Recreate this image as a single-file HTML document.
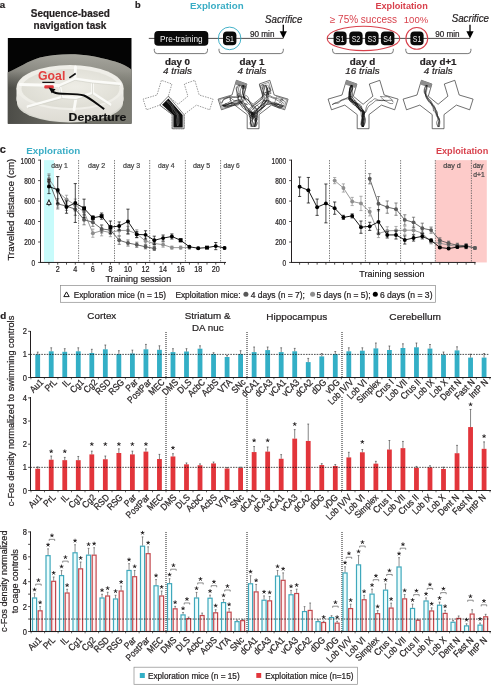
<!DOCTYPE html>
<html><head><meta charset="utf-8"><style>
html,body{margin:0;padding:0;background:#fff;}
svg{display:block;font-family:"Liberation Sans", sans-serif;will-change:transform;}
</style></head><body>
<svg width="491" height="685" viewBox="0 0 491 685">
<rect width="491" height="685" fill="#fff"/>
<text x="-0.2" y="8" font-size="9.6" font-weight="bold" fill="#231f20" stroke="#231f20" stroke-width="0.22">a</text>
<text x="70.3" y="17.3" font-size="10" text-anchor="middle" font-weight="bold" textLength="79" lengthAdjust="spacingAndGlyphs" fill="#231f20" stroke="#231f20" stroke-width="0.22">Sequence-based</text>
<text x="70" y="29.2" font-size="10" text-anchor="middle" font-weight="bold" textLength="72.8" lengthAdjust="spacingAndGlyphs" fill="#231f20" stroke="#231f20" stroke-width="0.22">navigation task</text>
<defs><clipPath id="ph"><rect x="7.6" y="38" width="124.1" height="85.8"/></clipPath><linearGradient id="gbg" x1="0" y1="0" x2="1" y2="0"><stop offset="0" stop-color="#4c4c47"/><stop offset="0.45" stop-color="#6c6c64"/><stop offset="1" stop-color="#7a7a71"/></linearGradient><linearGradient id="gbg2" x1="0" y1="0" x2="0" y2="1"><stop offset="0" stop-color="#b0afa7" stop-opacity="1"/><stop offset="0.5" stop-color="#a2a199" stop-opacity="0.8"/><stop offset="1" stop-color="#8e8e86" stop-opacity="0"/></linearGradient><linearGradient id="gside" x1="0" y1="0" x2="0" y2="1"><stop offset="0" stop-color="#f3f3ee"/><stop offset="1" stop-color="#dedcd4"/></linearGradient><radialGradient id="gtop" cx="0.55" cy="0.45" r="0.6"><stop offset="0" stop-color="#eeede6"/><stop offset="1" stop-color="#dddcd3"/></radialGradient></defs>
<g clip-path="url(#ph)">
<rect x="7.6" y="38" width="124.1" height="85.8" fill="#040404"/>
<path d="M7.6,72.5 C18,68 28,61 40,57.5 C52,54.5 62,54 75,54.2 C90,55 105,58.5 115,61.5 C122,63.5 128,67 131.7,69.8 L131.7,124 L7.6,124 Z" fill="url(#gbg)"/>
<path d="M7.6,72.5 C18,68 28,61 40,57.5 C52,54.5 62,54 75,54.2 C90,55 105,58.5 115,61.5 C122,63.5 128,67 131.7,69.8 L131.7,88 L7.6,88 Z" fill="url(#gbg2)" opacity="0.85"/>
<ellipse cx="70" cy="103" rx="53" ry="19.5" fill="#d8d8d0"/>
<path d="M16.5,88 L16.5,99 A53.5,22.5 0 0 0 123.5,99 L123.5,88 Z" fill="url(#gside)"/>
<ellipse cx="70" cy="99" rx="53.5" ry="22.5" fill="url(#gside)"/>
<ellipse cx="70" cy="87.5" rx="53.5" ry="22.5" fill="#efeee8"/>
<ellipse cx="70.5" cy="88.5" rx="49" ry="19.5" fill="url(#gtop)"/>
<g stroke="#fbfbf8" stroke-width="2.8" fill="none" stroke-linecap="round" stroke-linejoin="round"><path d="M59.5,85.5 L75,78.8 L92.5,81.5 L92.5,93 L76,98 L62,97 Z"/><path d="M75,78.8 L75.5,67 M92.5,81.5 L120,84 M92.5,93 L110,104.5 M76,98 L74,110 M62,97 L28,106.5 M59.5,85.5 L20,84.5"/></g>
<g stroke="#cdccc3" stroke-width="0.6" fill="none"><path d="M59.5,87 L75,80.3 L92.5,83 L92.5,94.5 L76,99.5 L62,98.5 Z"/><path d="M92.5,83 L120,85.5 M92.5,94.5 L110,106 M62,98.5 L28,108"/></g>
<rect x="44.3" y="85.3" width="9.5" height="3.2" rx="1.2" fill="#e03a3e"/>
<line x1="42.3" y1="82.3" x2="54.5" y2="82.3" stroke="#111" stroke-width="1.2"/>
<line x1="69.3" y1="77.8" x2="75.7" y2="73.5" stroke="#111" stroke-width="1.6"/>
<path d="M104.2,109.1 C97,104 90,98 84,95.5 C78,93.5 70,94 62,93.8 C57,93.6 53.5,92.5 52,91" fill="none" stroke="#0a0a0a" stroke-width="1.9"/>
<path d="M48.6,87.6 L55.6,89.2 L51.8,93.3 Z" fill="#0a0a0a"/>
<text x="38" y="79.7" font-size="12.4" font-weight="bold" textLength="27.3" lengthAdjust="spacingAndGlyphs" fill="#e2403f">Goal</text>
<text x="68.6" y="120.5" font-size="11.2" font-weight="bold" textLength="57.6" lengthAdjust="spacingAndGlyphs" fill="#111" stroke="#111" stroke-width="0.22">Departure</text>
</g>
<text x="135" y="8.3" font-size="9.2" font-weight="bold" fill="#231f20" stroke="#231f20" stroke-width="0.22">b</text>
<text x="216.8" y="8.8" font-size="9.8" text-anchor="middle" font-weight="bold" textLength="53.6" lengthAdjust="spacingAndGlyphs" fill="#3aadc5">Exploration</text>
<text x="401.6" y="8.8" font-size="9.8" text-anchor="middle" font-weight="bold" textLength="52.4" lengthAdjust="spacingAndGlyphs" fill="#d8414c">Exploitation</text>
<line x1="148.8" y1="38.4" x2="283.3" y2="38.4" stroke="#231f20" stroke-width="0.8"/>
<line x1="327" y1="38.4" x2="470" y2="38.4" stroke="#231f20" stroke-width="0.8"/>
<rect x="154.3" y="31" width="54" height="14.8" rx="3.8" fill="#0a0a0a"/>
<text x="181.3" y="41.7" font-size="8.7" text-anchor="middle" textLength="42.6" lengthAdjust="spacingAndGlyphs" fill="#f2f2f2">Pre-training</text>
<circle cx="229.6" cy="38.4" r="11.3" fill="none" stroke="#3aadc5" stroke-width="0.95"/>
<rect x="223" y="31.4" width="13.4" height="13.8" rx="3.8" fill="#0a0a0a"/>
<text x="229.7" y="41.6" font-size="9" text-anchor="middle" textLength="8.6" lengthAdjust="spacingAndGlyphs" fill="#f2f2f2">S1</text>
<ellipse cx="363.5" cy="38.4" rx="36.3" ry="12.2" fill="none" stroke="#d8414c" stroke-width="1.1"/>
<rect x="333.6" y="31.4" width="13" height="13.8" rx="3.8" fill="#0a0a0a"/>
<text x="340.1" y="41.6" font-size="9" text-anchor="middle" textLength="8.6" lengthAdjust="spacingAndGlyphs" fill="#f2f2f2">S1</text>
<rect x="349.3" y="31.4" width="13.3" height="13.8" rx="3.8" fill="#0a0a0a"/>
<text x="355.95" y="41.6" font-size="9" text-anchor="middle" textLength="8.6" lengthAdjust="spacingAndGlyphs" fill="#f2f2f2">S2</text>
<rect x="365.1" y="31.4" width="13.5" height="13.8" rx="3.8" fill="#0a0a0a"/>
<text x="371.85" y="41.6" font-size="9" text-anchor="middle" textLength="8.6" lengthAdjust="spacingAndGlyphs" fill="#f2f2f2">S3</text>
<rect x="380.9" y="31.4" width="13.5" height="13.8" rx="3.8" fill="#0a0a0a"/>
<text x="387.65" y="41.6" font-size="9" text-anchor="middle" textLength="8.6" lengthAdjust="spacingAndGlyphs" fill="#f2f2f2">S4</text>
<circle cx="416.8" cy="38.4" r="10.9" fill="none" stroke="#d8414c" stroke-width="1.1"/>
<rect x="410.4" y="31.4" width="13.2" height="13.8" rx="3.8" fill="#0a0a0a"/>
<text x="417" y="41.6" font-size="9" text-anchor="middle" textLength="8.6" lengthAdjust="spacingAndGlyphs" fill="#f2f2f2">S1</text>
<line x1="283.3" y1="24.8" x2="283.3" y2="32.5" stroke="#000" stroke-width="1.3"/>
<path d="M279.7,31.2 L286.9,31.2 L283.3,38.6 Z" fill="#000"/>
<line x1="470" y1="24.8" x2="470" y2="32.5" stroke="#000" stroke-width="1.3"/>
<path d="M466.4,31.2 L473.6,31.2 L470,38.6 Z" fill="#000"/>
<text x="283.7" y="22.5" font-size="10.4" text-anchor="middle" font-style="italic" textLength="37.3" lengthAdjust="spacingAndGlyphs" fill="#231f20" stroke="#231f20" stroke-width="0.22">Sacrifice</text>
<text x="470.3" y="22.2" font-size="10.4" text-anchor="middle" font-style="italic" textLength="37.3" lengthAdjust="spacingAndGlyphs" fill="#231f20" stroke="#231f20" stroke-width="0.22">Sacrifice</text>
<text x="250" y="36.6" font-size="8.2" textLength="24.4" lengthAdjust="spacingAndGlyphs" fill="#231f20" stroke="#231f20" stroke-width="0.22">90 min</text>
<text x="435.2" y="36.6" font-size="8.2" textLength="24.4" lengthAdjust="spacingAndGlyphs" fill="#231f20" stroke="#231f20" stroke-width="0.22">90 min</text>
<text x="363.4" y="22.8" font-size="10" text-anchor="middle" textLength="67.2" lengthAdjust="spacingAndGlyphs" fill="#d8414c">≥ 75% success</text>
<text x="416" y="22.6" font-size="9.6" text-anchor="middle" textLength="24.4" lengthAdjust="spacingAndGlyphs" fill="#d8414c">100%</text>
<path d="M154.3,48.8 L154.3,50.6 Q154.3,53.6 157.3,53.6 L204.5,53.6 Q207.5,53.6 207.5,50.6 L207.5,48.8" fill="none" stroke="#555" stroke-width="0.8"/>
<path d="M219,48.8 L219,50.6 Q219,53.6 222,53.6 L280.3,53.6 Q283.3,53.6 283.3,50.6 L283.3,48.8" fill="none" stroke="#555" stroke-width="0.8"/>
<path d="M332.6,48.8 L332.6,50.6 Q332.6,53.6 335.6,53.6 L390.3,53.6 Q393.3,53.6 393.3,50.6 L393.3,48.8" fill="none" stroke="#555" stroke-width="0.8"/>
<path d="M405.8,48.8 L405.8,50.6 Q405.8,53.6 408.8,53.6 L467.9,53.6 Q470.9,53.6 470.9,50.6 L470.9,48.8" fill="none" stroke="#555" stroke-width="0.8"/>
<text x="177.5" y="64.7" font-size="9.8" text-anchor="middle" font-weight="bold" fill="#231f20" stroke="#231f20" stroke-width="0.22">day 0</text>
<text x="177.5" y="74.4" font-size="9.8" text-anchor="middle" font-style="italic" fill="#231f20" stroke="#231f20" stroke-width="0.22">4 trials</text>
<text x="252" y="64.7" font-size="9.8" text-anchor="middle" font-weight="bold" fill="#231f20" stroke="#231f20" stroke-width="0.22">day 1</text>
<text x="252" y="74.4" font-size="9.8" text-anchor="middle" font-style="italic" fill="#231f20" stroke="#231f20" stroke-width="0.22">4 trials</text>
<text x="362.5" y="64.7" font-size="9.8" text-anchor="middle" font-weight="bold" fill="#231f20" stroke="#231f20" stroke-width="0.22">day d</text>
<text x="362.5" y="74.4" font-size="9.8" text-anchor="middle" font-style="italic" fill="#231f20" stroke="#231f20" stroke-width="0.22">16 trials</text>
<text x="438.2" y="64.7" font-size="9.8" text-anchor="middle" font-weight="bold" fill="#231f20" stroke="#231f20" stroke-width="0.22">day d+1</text>
<text x="438.2" y="74.4" font-size="9.8" text-anchor="middle" font-style="italic" fill="#231f20" stroke="#231f20" stroke-width="0.22">4 trials</text>
<polygon points="172.2,128.7 172.2,114.6 159.8,105.1 146.5,109.8 143.1,99.1 157,95 161.4,80.3 171.9,84 168.3,96.2 178.1,104.3 187.9,96.2 184.3,84 194.8,80.3 199.2,95 213.1,99.1 209.7,109.8 196.4,105.1 184,114.6 184,128.7" fill="none" stroke="#555" stroke-width="0.6" stroke-dasharray="1.5,1.1"/>
<polygon points="172.2,128.7 172.2,114.6 159.8,105.1 168.3,96.2 184,114.6 184,128.7" fill="#fff" stroke="#444" stroke-width="0.7"/>
<polygon points="173.4,127.5 173.4,115.3 162.1,104.8 168.4,98.4 182.7,115.1 182.7,127.5" fill="#0d0d0d" stroke="none" stroke-width="0"/>
<path d="M177.53,126 C177.39,125.5 176.85,124 176.67,123 C176.48,122 176.36,121 176.44,120 C176.52,119 177.03,117.94 177.14,117 C177.25,116.06 177.26,115.15 177.09,114.35 C176.91,113.56 176.58,112.89 176.1,112.22 C175.63,111.54 174.85,110.96 174.26,110.3 C173.67,109.64 173.11,108.95 172.56,108.25 C172.01,107.56 171.54,106.91 170.95,106.13 C170.36,105.35 169.74,104.36 169.02,103.56 C168.3,102.77 167.04,101.73 166.64,101.37" fill="none" stroke="#888" stroke-width="0.35" stroke-linejoin="round"/>
<path d="M177.36,126 C177.51,125.5 178.2,124 178.28,123 C178.36,122 177.87,121 177.84,120 C177.81,119 178.34,117.91 178.12,117 C177.91,116.09 177.16,115.1 176.55,114.54 C175.94,113.98 175.07,114.16 174.46,113.65 C173.85,113.14 173.29,112.32 172.89,111.49 C172.49,110.67 172.31,109.65 172.06,108.69 C171.81,107.74 171.91,106.6 171.38,105.76 C170.86,104.93 169.66,104.41 168.9,103.66 C168.14,102.9 167.16,101.64 166.81,101.23" fill="none" stroke="#888" stroke-width="0.35" stroke-linejoin="round"/>
<path d="M178,126 C177.93,125.5 177.64,124 177.62,123 C177.6,122 177.87,121 177.88,120 C177.89,119 177.68,117.99 177.68,117 C177.68,116.01 178.04,114.96 177.88,114.08 C177.72,113.19 177.17,112.44 176.73,111.67 C176.29,110.9 175.76,110.17 175.24,109.44 C174.73,108.71 174.13,108.05 173.65,107.3 C173.18,106.54 172.98,105.7 172.41,104.91 C171.84,104.12 171.1,103.26 170.26,102.58 C169.41,101.89 167.84,101.09 167.36,100.79" fill="none" stroke="#888" stroke-width="0.35" stroke-linejoin="round"/>
<path d="M177.75,126 C177.98,125.5 178.95,124 179.16,123 C179.38,122 179.08,121 179.04,120 C179.01,119 179.1,118.01 178.96,117 C178.82,115.99 178.77,114.67 178.19,113.97 C177.61,113.26 176.12,113.39 175.48,112.76 C174.84,112.13 174.75,111.04 174.36,110.21 C173.96,109.38 173.45,108.64 173.1,107.78 C172.75,106.91 172.8,105.85 172.26,105.03 C171.73,104.21 170.77,103.53 169.89,102.87 C169.01,102.21 167.47,101.39 166.99,101.09" fill="none" stroke="#888" stroke-width="0.35" stroke-linejoin="round"/>
<polygon points="247.2,128.7 247.2,114.6 234.8,105.1 221.5,109.8 218.1,99.1 232,95 236.4,80.3 246.9,84 243.3,96.2 253.1,104.3 262.9,96.2 259.3,84 269.8,80.3 274.2,95 288.1,99.1 284.7,109.8 271.4,105.1 259,114.6 259,128.7" fill="#fff" stroke="#333" stroke-width="0.7"/>
<polygon points="236.4,80.3 246.9,84.0 245.8,88.2 235.3,84.5" fill="#8c8c8c"/>
<polygon points="259.7,85.5 268.7,82.3 271.1,91.0 262.3,93.4" fill="none" stroke="#333" stroke-width="0.5"/>
<polygon points="276.5,96.6 286.6,99.6 283.9,108.4 274.1,105.0" fill="none" stroke="#333" stroke-width="0.5"/>
<polygon points="229.7,96.6 219.6,99.6 222.3,108.4 232.1,105.0" fill="none" stroke="#333" stroke-width="0.5"/>
<path d="M254.24,127 C254.43,126.33 255.01,124.33 255.38,123 C255.75,121.67 256.16,120.25 256.47,119 C256.79,117.75 257.25,116.91 257.26,115.5 C257.28,114.09 257.32,112.05 256.55,110.52 C255.77,109 253.96,107.48 252.62,106.34 C251.29,105.2 249.68,104.67 248.54,103.67 C247.4,102.67 246.6,101.31 245.78,100.32 C244.96,99.33 243.79,98.59 243.63,97.74 C243.46,96.89 244.61,96.15 244.8,95.22 C244.99,94.29 244.59,93.45 244.77,92.15 C244.95,90.85 245.96,88.46 245.89,87.42 C245.82,86.37 244.86,85.87 244.34,85.87 C243.82,85.87 242.79,86.9 242.79,87.42 C242.79,87.93 244.33,89.34 244.34,88.96 C244.36,88.59 243.12,85.81 242.88,85.18" fill="none" stroke="#111" stroke-width="0.5" stroke-linejoin="round"/>
<path d="M254.44,127 C254.62,126.33 255.21,124.33 255.52,123 C255.84,121.67 256.12,120.25 256.32,119 C256.52,117.75 256.54,116.98 256.73,115.5 C256.92,114.02 258.02,111.76 257.47,110.13 C256.91,108.49 254.69,106.93 253.38,105.69 C252.07,104.45 250.44,104.02 249.59,102.7 C248.74,101.39 248.86,98.99 248.29,97.81 C247.71,96.64 246.85,95.66 246.13,95.66 C245.41,95.66 243.97,97.09 243.97,97.81 C243.97,98.53 246.47,100.15 246.13,99.97 C245.79,99.79 243.41,97.21 241.93,96.74 C240.46,96.26 238.63,97.11 237.26,97.11 C235.89,97.12 234.95,96.81 233.72,96.75 C232.49,96.7 231.09,96.6 229.88,96.8 C228.67,96.99 227.51,97.5 226.46,97.94 C225.4,98.37 224.39,98.55 223.57,99.4 C222.75,100.25 221.87,102.42 221.53,103.03" fill="none" stroke="#111" stroke-width="0.5" stroke-linejoin="round"/>
<path d="M252.04,127 C251.86,126.33 251.27,124.33 250.98,123 C250.69,121.67 250.52,120.25 250.28,119 C250.05,117.75 249.62,116.9 249.56,115.5 C249.49,114.1 249.27,112.19 249.9,110.63 C250.54,109.07 252.22,107.45 253.36,106.15 C254.51,104.86 255.59,103.81 256.77,102.85 C257.94,101.88 259.37,101.14 260.44,100.34 C261.5,99.53 262.69,98.86 263.16,98.03 C263.63,97.2 263.19,96.34 263.26,95.35 C263.32,94.36 263.29,93.49 263.55,92.07 C263.8,90.65 264.91,88.04 264.78,86.83 C264.66,85.63 263.45,84.83 262.79,84.83 C262.12,84.83 260.79,86.17 260.79,86.83 C260.79,87.5 262.43,89.1 262.79,88.83 C263.14,88.57 262.89,85.84 262.9,85.24" fill="none" stroke="#111" stroke-width="0.5" stroke-linejoin="round"/>
<path d="M252.73,127 C252.74,126.33 252.8,124.33 252.74,123 C252.68,121.67 252.29,120.56 252.38,119 C252.46,117.44 253.42,114.86 253.26,113.67 C253.1,112.47 252.04,111.83 251.43,111.83 C250.81,111.83 249.59,113.05 249.59,113.67 C249.59,114.28 251.14,115.91 251.43,115.5 C251.71,115.09 250.75,112.59 251.3,111.23 C251.85,109.86 253.53,108.46 254.71,107.31 C255.89,106.16 257.18,105.25 258.38,104.33 C259.58,103.41 260.88,102.74 261.9,101.8 C262.93,100.86 264.16,99.78 264.52,98.71 C264.89,97.65 264.28,96.52 264.09,95.41 C263.89,94.3 263.39,93.2 263.36,92.08 C263.34,90.96 263.77,89.84 263.93,88.67 C264.09,87.49 264.25,85.65 264.31,85.04" fill="none" stroke="#111" stroke-width="0.5" stroke-linejoin="round"/>
<path d="M255.01,127 C255.3,126.33 256.62,124.33 256.74,123 C256.86,121.67 255.96,120.25 255.73,119 C255.51,117.75 255.47,116.51 255.39,115.5 C255.32,114.49 254.7,113.71 255.26,112.93 C255.82,112.14 257.61,111.63 258.76,110.78 C259.91,109.93 261.08,108.76 262.16,107.83 C263.25,106.89 264.5,105.87 265.27,105.17 C266.05,104.48 266.45,103.83 266.82,103.68 C267.2,103.53 266.82,104.2 267.51,104.28 C268.21,104.36 269.92,104.09 271,104.19 C272.07,104.28 272.97,104.76 273.98,104.86 C275,104.96 275.78,104.89 277.09,104.77 C278.4,104.65 281.33,104.54 281.84,104.15 C282.34,103.76 280.69,102.42 280.11,102.42 C279.53,102.42 278.38,103.57 278.38,104.15 C278.38,104.73 279.25,105.59 280.11,105.88 C280.97,106.16 282.99,105.87 283.57,105.87" fill="none" stroke="#111" stroke-width="0.5" stroke-linejoin="round"/>
<path d="M222.52,105.58 C223.08,105.54 224.74,105.37 225.88,105.33 C227.01,105.29 228.27,105.4 229.34,105.35 C230.4,105.29 231.24,104.98 232.26,105.01 C233.28,105.03 234.38,105.55 235.47,105.5 C236.55,105.44 238.09,105.04 238.77,104.67 C239.44,104.31 239.13,103.25 239.51,103.31 C239.9,103.37 240.24,104.34 241.08,105.02 C241.92,105.69 243.4,106.47 244.55,107.36 C245.7,108.24 246.57,109.06 247.99,110.31 C249.42,111.55 251.3,114.75 253.1,114.84 C254.9,114.93 257,112.24 258.82,110.83 C260.65,109.43 263.46,107.43 264.06,106.41 C264.66,105.4 262.97,104.77 262.42,104.77 C261.87,104.77 260.77,105.87 260.77,106.41 C260.77,106.96 261.63,108.23 262.42,108.06 C263.2,107.89 264.74,106.07 265.49,105.39 C266.24,104.7 266.58,104.15 266.92,103.95 C267.26,103.75 266.83,104.25 267.53,104.2 C268.22,104.14 269.96,103.76 271.11,103.62 C272.26,103.47 273.4,103.21 274.43,103.31 C275.46,103.41 276.34,103.82 277.31,104.19 C278.28,104.56 279.22,105.2 280.24,105.53 C281.27,105.86 282.91,106.07 283.45,106.17" fill="none" stroke="#111" stroke-width="0.5" stroke-linejoin="round"/>
<path d="M222.6,105.79 C223.26,106 225.35,106.92 226.55,107.05 C227.75,107.18 228.84,106.84 229.81,106.57 C230.78,106.29 231.47,105.78 232.37,105.4 C233.28,105.02 234.22,104.73 235.22,104.28 C236.22,103.83 237.53,103.22 238.37,102.7 C239.22,102.18 239.6,101.02 240.31,101.16 C241.01,101.29 241.87,102.49 242.6,103.5 C243.33,104.51 244.03,105.89 244.69,107.22 C245.35,108.56 245.18,109.95 246.58,111.52 C247.98,113.08 250.88,116.59 253.1,116.63 C255.32,116.67 258.37,113.21 259.89,111.75 C261.41,110.29 261.23,109.43 262.21,107.87 C263.2,106.31 265.49,103.58 265.82,102.39 C266.14,101.2 264.71,100.73 264.16,100.73 C263.6,100.73 262.49,101.84 262.49,102.39 C262.49,102.95 263.59,104.28 264.16,104.06 C264.72,103.83 265.21,101.43 265.86,101.06 C266.5,100.68 267.12,101.43 268.01,101.78 C268.9,102.14 270.24,102.54 271.2,103.16 C272.17,103.78 272.94,104.91 273.8,105.51 C274.65,106.1 275.42,106.3 276.33,106.73 C277.24,107.15 278.09,108.12 279.26,108.08 C280.42,108.03 282.66,106.73 283.34,106.47" fill="none" stroke="#111" stroke-width="0.5" stroke-linejoin="round"/>
<path d="M240.62,84.86 C240.29,85.41 238.92,86.97 238.64,88.15 C238.36,89.33 238.83,90.7 238.94,91.94 C239.06,93.18 238.94,94.62 239.34,95.61 C239.74,96.6 241.35,97.83 241.34,97.87 C241.34,97.9 239.99,95.84 239.32,95.84 C238.64,95.84 237.29,97.19 237.29,97.87 C237.29,98.54 238.49,98.9 239.32,99.89 C240.15,100.89 241.25,102.72 242.27,103.83 C243.28,104.94 244.37,105.55 245.42,106.55 C246.47,107.55 247.28,108.74 248.56,109.82 C249.84,110.91 251.58,113.05 253.1,113.05 C254.62,113.05 256.4,110.94 257.65,109.83 C258.9,108.72 259.57,107.4 260.61,106.39 C261.64,105.38 262.87,104.88 263.88,103.78 C264.89,102.68 266.24,101.14 266.65,99.78 C267.07,98.41 266.17,96.88 266.39,95.57 C266.61,94.26 267.81,93.15 267.95,91.92 C268.1,90.69 267.6,89.38 267.26,88.19 C266.91,87.01 266.11,85.38 265.89,84.82" fill="none" stroke="#111" stroke-width="0.5" stroke-linejoin="round"/>
<path d="M265.33,84.9 C265.64,85.45 266.73,87.03 267.19,88.2 C267.64,89.37 267.83,90.66 268.06,91.91 C268.29,93.17 268.7,94.81 268.57,95.73 C268.43,96.65 267.17,97.26 267.25,97.41 C267.33,97.56 268.21,96.56 269.04,96.62 C269.88,96.69 271.17,97.39 272.27,97.81 C273.37,98.23 274.59,98.62 275.63,99.15 C276.68,99.69 277.31,100.81 278.54,101.03 C279.77,101.25 282.5,100.79 283.02,100.48 C283.55,100.17 282.14,99.15 281.69,99.15 C281.25,99.15 280.36,100.04 280.36,100.48 C280.36,100.92 281.03,101.25 281.69,101.81 C282.36,102.37 283.91,103.5 284.36,103.84" fill="none" stroke="#111" stroke-width="0.5" stroke-linejoin="round"/>
<path d="M243.3,85.24 C243.29,85.84 243.36,87.67 243.25,88.81 C243.15,89.95 242.66,90.99 242.68,92.07 C242.71,93.16 243.24,93.84 243.41,95.32 C243.57,96.79 244.48,99.5 243.68,100.91 C242.88,102.33 240.02,103.32 238.59,103.81 C237.17,104.3 236.3,104.03 235.14,103.86 C233.98,103.69 232.69,102.81 231.62,102.8 C230.55,102.78 229.45,103.5 228.73,103.79 C228.02,104.09 227.77,104.64 227.32,104.55 C226.88,104.47 226.48,103.3 226.06,103.3 C225.64,103.3 224.81,104.14 224.81,104.55 C224.81,104.97 226.41,105.56 226.06,105.81 C225.72,106.07 223.27,106.04 222.71,106.08" fill="none" stroke="#111" stroke-width="0.55" stroke-linejoin="round"/>
<path d="M242.9,85.19 C242.85,85.77 242.58,87.57 242.62,88.72 C242.65,89.87 242.96,90.99 243.11,92.09 C243.26,93.19 243.21,94.23 243.52,95.31 C243.83,96.39 245.03,98.32 244.95,98.55 C244.88,98.77 243.69,96.65 243.05,96.65 C242.42,96.65 241.15,97.91 241.15,98.55 C241.15,99.18 243.52,99.79 243.05,100.45 C242.58,101.11 239.67,102.03 238.33,102.51 C237,102.98 236.12,103.16 235.03,103.31 C233.94,103.45 232.83,103.29 231.79,103.4 C230.76,103.51 229.82,103.73 228.81,103.98 C227.79,104.23 226.76,104.64 225.71,104.91 C224.66,105.17 223.06,105.48 222.53,105.6" fill="none" stroke="#111" stroke-width="0.55" stroke-linejoin="round"/>
<path d="M255.59,127 C255.87,126.33 257.34,124.33 257.27,123 C257.2,121.67 255.68,120.25 255.17,119 C254.67,117.75 254.31,116.78 254.24,115.5 C254.17,114.22 255.09,112.76 254.74,111.3 C254.4,109.83 252.94,108.24 252.16,106.73 C251.39,105.22 250.97,103.5 250.09,102.24 C249.22,100.98 247.9,99.98 246.92,99.18 C245.95,98.37 244.87,98.07 244.24,97.43 C243.6,96.79 243.4,96.23 243.11,95.34 C242.82,94.44 242.24,93.42 242.48,92.07 C242.72,90.71 244.47,88.28 244.56,87.2 C244.65,86.13 243.52,85.64 242.99,85.64 C242.47,85.64 241.43,86.68 241.43,87.2 C241.43,87.73 242.65,89.09 242.99,88.77 C243.34,88.45 243.43,85.86 243.52,85.27" fill="none" stroke="#111" stroke-width="0.5" stroke-linejoin="round"/>
<path d="M251.98,127 C251.81,126.33 251.3,124.33 251,123 C250.71,121.67 250.15,120.25 250.19,119 C250.24,117.75 251.03,116.56 251.26,115.5 C251.48,114.44 251.9,113.7 251.55,112.67 C251.2,111.63 250.1,110.4 249.17,109.29 C248.24,108.19 246.87,107.2 245.97,106.05 C245.06,104.89 244.37,103.23 243.74,102.36 C243.11,101.49 242.72,100.83 242.21,100.83 C241.7,100.83 240.68,101.85 240.68,102.36 C240.68,102.87 242.28,104.06 242.21,103.89 C242.13,103.73 240.9,101.77 240.22,101.39 C239.54,101 239.06,101.48 238.15,101.59 C237.24,101.7 235.87,101.88 234.78,102.05 C233.68,102.22 232.54,102.23 231.57,102.62 C230.6,103.01 229.88,103.86 228.97,104.39 C228.05,104.93 227.15,105.64 226.07,105.82 C224.99,106 223.08,105.54 222.48,105.48" fill="none" stroke="#111" stroke-width="0.5" stroke-linejoin="round"/>
<path d="M253.95,127 C254.23,126.33 255.63,124.33 255.62,123 C255.61,121.67 254.32,120.25 253.87,119 C253.41,117.75 253.05,116.68 252.9,115.5 C252.74,114.32 252.17,112.9 252.94,111.93 C253.7,110.96 256.25,110.65 257.49,109.69 C258.74,108.74 259.57,107.42 260.41,106.21 C261.25,105 261.78,103.65 262.54,102.44 C263.31,101.23 264.1,100.39 265,98.95 C265.91,97.51 267.75,94.94 267.95,93.79 C268.14,92.63 266.77,92.02 266.18,92.02 C265.59,92.02 264.41,93.2 264.41,93.79 C264.41,94.38 265.64,95.87 266.18,95.56 C266.71,95.25 267.51,93.15 267.61,91.93 C267.71,90.71 267.26,89.42 266.8,88.26 C266.34,87.1 265.16,85.51 264.84,84.97" fill="none" stroke="#111" stroke-width="0.5" stroke-linejoin="round"/>
<path d="M253.97,127 C254.12,126.33 254.61,124.33 254.87,123 C255.12,121.67 255.56,120.25 255.52,119 C255.48,117.75 254.82,116.58 254.62,115.5 C254.42,114.42 253.65,113.9 254.31,112.52 C254.96,111.14 258.14,108.4 258.54,107.21 C258.94,106.02 257.33,105.39 256.72,105.39 C256.11,105.39 254.9,106.6 254.9,107.21 C254.9,107.82 255.75,109.15 256.72,109.03 C257.69,108.91 259.6,107.44 260.7,106.48 C261.81,105.52 262.27,104.32 263.35,103.25 C264.43,102.17 266.63,101.32 267.19,100.04 C267.74,98.77 266.8,96.94 266.68,95.59 C266.55,94.25 266.5,93.18 266.45,91.97 C266.4,90.76 266.5,89.51 266.38,88.32 C266.26,87.13 265.83,85.42 265.72,84.84" fill="none" stroke="#111" stroke-width="0.5" stroke-linejoin="round"/>
<path d="M250.91,127 C250.78,126.33 250.11,124.33 250.12,123 C250.12,121.67 251.1,120.25 250.94,119 C250.79,117.75 249.6,116.99 249.2,115.5 C248.81,114.01 247.99,111.7 248.59,110.07 C249.19,108.43 251.39,106.83 252.82,105.69 C254.24,104.54 255.9,104.11 257.15,103.2 C258.41,102.3 259.27,101.62 260.34,100.24 C261.41,98.86 261.81,96.03 263.59,94.9 C265.37,93.77 270.06,93.98 271.02,93.46 C271.97,92.94 269.9,91.78 269.34,91.78 C268.78,91.78 267.67,92.9 267.67,93.46 C267.67,94.01 268.55,94.54 269.34,95.13 C270.14,95.72 271.34,96.48 272.44,96.98 C273.54,97.48 274.79,97.76 275.93,98.12 C277.07,98.49 278.15,98.95 279.27,99.16 C280.39,99.37 281.7,98.84 282.64,99.38 C283.58,99.93 284.53,101.92 284.9,102.43" fill="none" stroke="#111" stroke-width="0.5" stroke-linejoin="round"/>
<path d="M222.63,105.86 C223.26,106 225.28,106.76 226.42,106.72 C227.55,106.68 228.47,105.91 229.44,105.61 C230.41,105.31 231.27,105.13 232.24,104.93 C233.21,104.73 234.19,104.63 235.25,104.4 C236.3,104.18 237.74,104.03 238.55,103.58 C239.36,103.13 239.56,101.59 240.1,101.7 C240.65,101.82 241.08,103.34 241.84,104.26 C242.6,105.18 243.77,106.13 244.67,107.24 C245.57,108.35 245.56,109.78 247.27,110.93 C248.97,112.07 253.93,113.88 254.9,114.11 C255.87,114.34 253.7,112.31 253.1,112.31 C252.5,112.31 251.3,113.51 251.3,114.11 C251.3,114.71 251.81,116.42 253.1,115.91 C254.39,115.4 257.67,112.49 259.07,111.05 C260.47,109.6 260.67,108.4 261.51,107.23 C262.35,106.05 263.38,105 264.12,104.02 C264.86,103.03 265.33,101.51 265.95,101.31 C266.56,101.1 266.94,102.45 267.81,102.8 C268.67,103.15 270.1,103.13 271.15,103.4 C272.21,103.66 273.18,104.02 274.12,104.38 C275.06,104.75 275.86,105.11 276.77,105.59 C277.67,106.08 278.45,107.18 279.56,107.3 C280.67,107.41 282.77,106.44 283.41,106.27" fill="none" stroke="#111" stroke-width="0.5" stroke-linejoin="round"/>
<path d="M222.38,105.22 C222.95,105.21 224.75,105.38 225.8,105.13 C226.85,104.88 227.73,104.09 228.7,103.71 C229.67,103.33 230.65,103.27 231.64,102.86 C232.62,102.45 233.58,101.7 234.62,101.26 C235.66,100.81 236.88,100.32 237.87,100.18 C238.86,100.04 239.68,99.98 240.57,100.43 C241.47,100.87 242.14,102.12 243.25,102.85 C244.37,103.57 246.8,104.65 247.26,104.76 C247.71,104.86 246.4,103.47 245.97,103.47 C245.54,103.47 244.69,104.33 244.69,104.76 C244.69,105.19 245.31,105.21 245.97,106.04 C246.63,106.87 247.46,108.48 248.65,109.74 C249.84,111.01 251.66,113.66 253.1,113.62 C254.54,113.58 256.08,110.76 257.26,109.5 C258.45,108.23 259.32,107.19 260.22,106.03 C261.12,104.88 261.79,103.55 262.68,102.58 C263.56,101.6 264.61,100.55 265.54,100.2 C266.48,99.84 267.3,100.11 268.28,100.44 C269.25,100.77 270.33,101.83 271.4,102.18 C272.46,102.52 273.68,102.17 274.67,102.5 C275.65,102.84 276.35,103.76 277.31,104.19 C278.27,104.63 279.33,104.92 280.42,105.09 C281.5,105.25 283.26,105.17 283.83,105.19" fill="none" stroke="#111" stroke-width="0.5" stroke-linejoin="round"/>
<path d="M239.06,84.64 C238.58,85.16 236.55,86.6 236.22,87.8 C235.88,89.01 236.68,90.56 237.05,91.87 C237.41,93.19 238.18,94.26 238.41,95.67 C238.63,97.09 237.97,98.78 238.39,100.35 C238.82,101.93 240.13,103.79 240.96,105.14 C241.79,106.49 242.24,107.55 243.35,108.46 C244.47,109.37 246.02,109.58 247.64,110.6 C249.27,111.63 251.31,114.64 253.1,114.61 C254.89,114.59 256.83,111.55 258.37,110.45 C259.91,109.34 261.14,108.82 262.35,108 C263.56,107.18 264.57,106.73 265.64,105.54 C266.7,104.34 268.41,102.48 268.76,100.83 C269.12,99.19 267.46,97.5 267.76,95.67 C268.06,93.85 270.44,91.19 270.57,89.89 C270.7,88.59 269.23,87.88 268.56,87.88 C267.9,87.88 266.56,89.22 266.56,89.89 C266.56,90.56 268.08,92.23 268.56,91.89 C269.05,91.56 269.68,89.09 269.45,87.88 C269.21,86.67 267.54,85.18 267.16,84.63" fill="none" stroke="#111" stroke-width="0.5" stroke-linejoin="round"/>
<path d="M263.57,85.15 C263.37,85.77 262.58,87.73 262.37,88.89 C262.17,90.05 262.33,91.05 262.33,92.12 C262.33,93.18 262.21,93.94 262.4,95.29 C262.58,96.64 262.47,99.32 263.44,100.23 C264.41,101.13 266.91,100.35 268.22,100.73 C269.53,101.12 270.33,101.98 271.33,102.52 C272.33,103.05 273.11,103.66 274.24,103.96 C275.38,104.25 277.75,104.49 278.16,104.31 C278.57,104.12 277.19,102.84 276.7,102.84 C276.21,102.84 275.23,103.82 275.23,104.31 C275.23,104.79 275.93,105.4 276.7,105.77 C277.47,106.15 278.68,106.58 279.85,106.56 C281.01,106.53 283.03,105.77 283.67,105.61" fill="none" stroke="#111" stroke-width="0.5" stroke-linejoin="round"/>
<path d="M242.09,85.07 C241.91,85.64 241.33,87.33 241.01,88.49 C240.69,89.64 240.13,90.82 240.18,91.98 C240.22,93.15 241.04,94.24 241.27,95.47 C241.5,96.7 242.15,98.6 241.58,99.35 C241,100.11 239.01,99.78 237.83,99.99 C236.65,100.2 235.42,100.73 234.49,100.61 C233.56,100.49 232.83,99.71 232.25,99.27 C231.66,98.83 231.39,97.99 230.97,97.99 C230.54,97.99 229.69,98.84 229.69,99.27 C229.69,99.7 231.2,99.98 230.97,100.55 C230.74,101.12 229.24,102.11 228.3,102.68 C227.37,103.26 226.37,103.63 225.36,104 C224.35,104.36 222.76,104.73 222.25,104.87" fill="none" stroke="#111" stroke-width="0.55" stroke-linejoin="round"/>
<path d="M240.01,84.77 C239.5,85.3 237.49,86.73 236.97,87.91 C236.45,89.09 236.78,90.56 236.88,91.87 C236.98,93.17 236.91,95.13 237.56,95.73 C238.21,96.34 240.56,95.86 240.79,95.5 C241.01,95.15 239.54,93.63 238.91,93.63 C238.29,93.63 237.04,94.88 237.04,95.5 C237.04,96.13 238.88,97.13 238.91,97.38 C238.94,97.63 238.07,96.97 237.23,96.98 C236.39,96.99 235.06,97.4 233.85,97.43 C232.65,97.47 231.19,97.01 229.99,97.18 C228.79,97.35 227.7,98.02 226.65,98.45 C225.61,98.88 224.54,98.94 223.72,99.78 C222.89,100.61 222.03,102.85 221.7,103.46" fill="none" stroke="#111" stroke-width="0.55" stroke-linejoin="round"/>
<path d="M252.3,127 C252.14,126.67 251.72,125.67 251.38,125 C251.05,124.33 250.27,123.67 250.27,123 C250.27,122.33 250.7,122.03 251.39,121 C252.08,119.97 254.27,117.87 254.4,116.81 C254.54,115.74 252.94,114.61 252.21,114.61 C251.48,114.61 249.78,116.31 250.01,116.81 C250.25,117.3 253.25,117.69 253.62,117.59 C253.98,117.49 252.68,116.18 252.21,116.18 C251.74,116.18 250.8,117.12 250.8,117.59 C250.8,118.06 252,119.15 252.21,119 C252.42,118.85 251.98,117.44 252.05,116.67 C252.12,115.89 252.5,115.11 252.61,114.33 C252.73,113.56 252.71,112.39 252.73,112" fill="none" stroke="#111" stroke-width="0.5" stroke-linejoin="round"/>
<path d="M254.49,127 C254.75,126.67 255.91,125.67 256.01,125 C256.12,124.33 254.93,123.87 255.13,123 C255.33,122.13 257.07,120.53 257.22,119.8 C257.37,119.06 256.42,118.59 256.02,118.59 C255.62,118.59 254.82,119.4 254.82,119.8 C254.82,120.2 255.54,121.4 256.02,121 C256.5,120.6 257.68,118.27 257.69,117.41 C257.71,116.54 256.63,115.81 256.1,115.81 C255.57,115.81 254.5,116.87 254.5,117.41 C254.5,117.94 255.7,119.12 256.1,119 C256.5,118.88 256.75,117.44 256.91,116.67 C257.07,115.89 257.39,115.11 257.06,114.33 C256.72,113.56 255.25,112.39 254.89,112" fill="none" stroke="#111" stroke-width="0.5" stroke-linejoin="round"/>
<path d="M253.46,127 C253.46,126.67 253.46,125.67 253.45,125 C253.44,124.33 253.65,123.67 253.4,123 C253.16,122.33 252.16,121.67 251.99,121 C251.81,120.33 252.05,119.96 252.36,119 C252.68,118.04 253.86,116.09 253.87,115.21 C253.88,114.34 252.9,113.76 252.42,113.76 C251.93,113.76 250.96,114.73 250.96,115.21 C250.96,115.7 252.04,117.02 252.42,116.67 C252.79,116.32 253.29,113.91 253.22,113.12 C253.16,112.33 252.42,111.91 252.01,111.91 C251.61,111.91 250.8,112.72 250.8,113.12 C250.8,113.53 251.61,114.52 252.01,114.33 C252.42,114.15 253.03,112.39 253.23,112" fill="none" stroke="#111" stroke-width="0.5" stroke-linejoin="round"/>
<polygon points="357.2,128.7 357.2,114.6 344.8,105.1 331.5,109.8 328.1,99.1 342,95 346.4,80.3 356.9,84 353.3,96.2 363.1,104.3 372.9,96.2 369.3,84 379.8,80.3 384.2,95 398.1,99.1 394.7,109.8 381.4,105.1 369,114.6 369,128.7" fill="#fff" stroke="#333" stroke-width="0.7"/>
<polygon points="346.4,80.3 356.9,84.0 355.8,88.2 345.3,84.5" fill="#8c8c8c"/>
<path d="M362.32,127 C362.24,126.56 361.8,125.22 361.81,124.33 C361.83,123.44 362.35,122.56 362.43,121.67 C362.5,120.78 362.31,120.03 362.28,119 C362.26,117.97 362.18,116.65 362.27,115.5 C362.36,114.35 363.1,113 362.82,112.09 C362.55,111.19 361.43,110.71 360.61,110.09 C359.78,109.47 358.61,109.09 357.87,108.39 C357.12,107.69 356.86,106.52 356.14,105.88 C355.42,105.24 354.34,105.08 353.55,104.55 C352.76,104.02 352.07,103.52 351.39,102.71 C350.71,101.9 349.77,100.86 349.46,99.67 C349.14,98.49 349.51,96.88 349.5,95.6 C349.49,94.31 349.32,93.17 349.4,91.96 C349.48,90.75 349.62,89.5 349.97,88.34 C350.33,87.18 351.27,85.55 351.53,84.99" fill="none" stroke="#111" stroke-width="0.55" stroke-linejoin="round"/>
<path d="M362.5,127 C362.41,126.56 362.21,125.22 362,124.33 C361.79,123.44 361.28,122.56 361.25,121.67 C361.23,120.78 361.69,120.03 361.85,119 C362.01,117.97 361.88,116.71 362.22,115.5 C362.55,114.29 363.9,112.83 363.84,111.75 C363.79,110.66 362.48,109.89 361.89,108.99 C361.29,108.09 360.98,107.08 360.26,106.34 C359.54,105.61 358.5,105.05 357.56,104.57 C356.62,104.1 355.53,103.91 354.63,103.47 C353.74,103.02 353.06,102.55 352.17,101.93 C351.29,101.3 349.83,100.78 349.3,99.74 C348.77,98.69 348.89,96.93 348.99,95.63 C349.08,94.34 349.5,93.16 349.88,91.97 C350.25,90.79 350.89,89.67 351.23,88.52 C351.58,87.36 351.83,85.63 351.95,85.05" fill="none" stroke="#111" stroke-width="0.55" stroke-linejoin="round"/>
<path d="M362.33,127 C362.09,126.56 361,125.22 360.86,124.33 C360.73,123.44 361.27,122.56 361.51,121.67 C361.76,120.78 362.13,120.03 362.33,119 C362.52,117.97 362.55,116.67 362.67,115.5 C362.8,114.33 363.33,112.99 363.08,112.01 C362.82,111.03 361.77,110.44 361.16,109.62 C360.54,108.8 360.11,107.82 359.38,107.09 C358.66,106.37 357.62,105.85 356.81,105.27 C355.99,104.69 355.3,104.13 354.48,103.62 C353.66,103.11 352.77,102.86 351.88,102.22 C350.99,101.59 349.6,100.9 349.15,99.8 C348.69,98.7 349.18,96.93 349.16,95.62 C349.14,94.31 348.87,93.15 349.04,91.94 C349.2,90.74 349.73,89.52 350.17,88.37 C350.6,87.21 351.4,85.57 351.64,85.01" fill="none" stroke="#111" stroke-width="0.55" stroke-linejoin="round"/>
<path d="M362.59,127 C362.47,126.56 361.95,125.22 361.91,124.33 C361.87,123.44 362.17,122.56 362.35,121.67 C362.53,120.78 362.95,120.03 362.98,119 C363.01,117.97 362.67,116.62 362.55,115.5 C362.44,114.38 362.71,113.09 362.29,112.28 C361.86,111.46 360.7,111.29 360.01,110.6 C359.32,109.91 358.8,108.93 358.17,108.13 C357.54,107.33 356.81,106.59 356.23,105.8 C355.66,105.01 355.27,104.16 354.73,103.37 C354.2,102.58 353.74,101.76 353.02,101.08 C352.29,100.4 350.77,100.23 350.37,99.3 C349.97,98.37 350.78,96.74 350.63,95.52 C350.48,94.29 349.59,93.16 349.47,91.96 C349.35,90.76 349.68,89.51 349.91,88.33 C350.15,87.15 350.72,85.47 350.88,84.9" fill="none" stroke="#111" stroke-width="0.55" stroke-linejoin="round"/>
<path d="M362.64,127 C362.76,126.56 363.11,125.22 363.34,124.33 C363.57,123.44 363.84,122.56 364.01,121.67 C364.19,120.78 364.46,120.03 364.4,119 C364.34,117.97 363.95,116.64 363.65,115.5 C363.35,114.36 363.09,113.09 362.6,112.17 C362.11,111.25 361.46,110.67 360.72,109.99 C359.99,109.32 359.03,108.73 358.19,108.11 C357.35,107.5 356.42,106.94 355.69,106.31 C354.96,105.67 354.39,105.02 353.81,104.29 C353.23,103.55 352.69,102.76 352.22,101.88 C351.75,101.01 351.22,100.1 351.01,99.04 C350.8,97.97 350.94,96.66 350.95,95.49 C350.95,94.32 350.82,93.15 351.05,92.02 C351.27,90.88 352.22,89.84 352.3,88.67 C352.38,87.5 351.65,85.6 351.52,84.99" fill="none" stroke="#111" stroke-width="0.55" stroke-linejoin="round"/>
<path d="M362.86,127 C363.16,126.56 364.34,125.22 364.67,124.33 C365,123.44 364.91,122.56 364.84,121.67 C364.78,120.78 364.53,120.03 364.27,119 C364.01,117.97 363.57,116.63 363.27,115.5 C362.98,114.37 362.68,113.32 362.48,112.21 C362.27,111.11 362.28,109.95 362.05,108.85 C361.82,107.75 361.71,106.46 361.11,105.61 C360.52,104.75 359.45,104.2 358.49,103.72 C357.52,103.25 356.28,103.17 355.34,102.76 C354.4,102.35 353.41,101.93 352.86,101.24 C352.32,100.54 352.12,99.58 352.06,98.61 C352.01,97.63 352.48,96.47 352.53,95.38 C352.58,94.29 352.42,93.19 352.35,92.06 C352.27,90.94 352.25,89.82 352.08,88.64 C351.9,87.46 351.43,85.57 351.3,84.96" fill="none" stroke="#111" stroke-width="0.55" stroke-linejoin="round"/>
<path d="M362.99,127 C363.04,126.56 363.18,125.22 363.26,124.33 C363.35,123.44 363.52,122.56 363.51,121.67 C363.5,120.78 363.54,120.03 363.18,119 C362.83,117.97 361.71,116.56 361.37,115.5 C361.03,114.44 361.39,113.47 361.15,112.67 C360.91,111.86 360.38,111.47 359.92,110.67 C359.47,109.88 358.85,108.9 358.44,107.9 C358.02,106.9 357.92,105.58 357.43,104.69 C356.95,103.8 356.38,103.06 355.54,102.56 C354.7,102.06 353.44,102.17 352.39,101.71 C351.34,101.24 349.77,100.78 349.23,99.76 C348.7,98.75 349.14,96.92 349.17,95.62 C349.2,94.32 349.18,93.16 349.41,91.96 C349.65,90.76 350.18,89.58 350.58,88.43 C350.97,87.27 351.58,85.59 351.78,85.03" fill="none" stroke="#111" stroke-width="0.55" stroke-linejoin="round"/>
<path d="M363.12,127 C362.92,126.56 362.16,125.22 361.97,124.33 C361.78,123.44 361.91,122.56 361.97,121.67 C362.04,120.78 362.12,120.03 362.36,119 C362.61,117.97 363.18,116.72 363.45,115.5 C363.71,114.28 364.43,112.61 363.95,111.71 C363.48,110.81 361.53,110.72 360.59,110.1 C359.65,109.48 359.06,108.7 358.32,108 C357.58,107.3 356.67,106.72 356.15,105.88 C355.62,105.04 355.63,103.79 355.15,102.95 C354.68,102.1 353.89,101.5 353.29,100.81 C352.69,100.12 352.05,99.69 351.56,98.81 C351.06,97.93 350.6,96.68 350.33,95.54 C350.06,94.4 350.04,93.18 349.94,91.98 C349.85,90.77 349.48,89.47 349.75,88.31 C350.03,87.14 351.29,85.55 351.59,85" fill="none" stroke="#111" stroke-width="0.55" stroke-linejoin="round"/>
<path d="M363.11,127 C362.96,126.56 362.23,125.22 362.18,124.33 C362.13,123.44 362.57,122.56 362.81,121.67 C363.05,120.78 363.36,120.03 363.63,119 C363.9,117.97 364.4,116.71 364.43,115.5 C364.47,114.29 364.52,112.61 363.83,111.75 C363.15,110.88 361.21,110.98 360.34,110.32 C359.47,109.65 359.09,108.69 358.61,107.75 C358.13,106.81 357.82,105.69 357.44,104.69 C357.06,103.69 356.94,102.49 356.35,101.75 C355.75,101.01 354.9,100.63 353.87,100.23 C352.85,99.83 350.93,100.14 350.2,99.37 C349.47,98.6 349.41,96.82 349.5,95.6 C349.59,94.37 350.25,93.15 350.75,92.01 C351.26,90.86 352.34,89.86 352.54,88.71 C352.75,87.55 352.07,85.66 351.98,85.05" fill="none" stroke="#111" stroke-width="0.55" stroke-linejoin="round"/>
<path d="M363.55,127 C363.52,126.56 363.43,125.22 363.34,124.33 C363.25,123.44 363.14,122.56 363.01,121.67 C362.87,120.78 362.58,120.03 362.54,119 C362.51,117.97 362.63,116.69 362.8,115.5 C362.96,114.31 363.69,112.94 363.53,111.85 C363.38,110.77 362.44,109.91 361.88,109 C361.31,108.1 360.79,107.24 360.16,106.42 C359.53,105.6 358.91,104.68 358.09,104.08 C357.28,103.48 356.13,103.32 355.27,102.83 C354.42,102.34 353.77,101.73 352.96,101.14 C352.16,100.54 350.77,100.21 350.43,99.27 C350.09,98.33 350.84,96.7 350.94,95.49 C351.03,94.28 350.7,93.14 350.99,92.01 C351.28,90.89 352.47,89.88 352.66,88.72 C352.86,87.57 352.24,85.69 352.16,85.08" fill="none" stroke="#111" stroke-width="0.55" stroke-linejoin="round"/>
<path d="M363.23,127 C363.24,126.56 363.34,125.22 363.31,124.33 C363.28,123.44 362.98,122.56 363.03,121.67 C363.09,120.78 363.49,120.03 363.63,119 C363.76,117.97 363.7,116.74 363.84,115.5 C363.98,114.26 364.79,112.62 364.47,111.53 C364.15,110.44 362.74,109.72 361.91,108.97 C361.08,108.21 360.28,107.67 359.49,107 C358.69,106.34 357.84,105.66 357.14,104.97 C356.43,104.27 355.95,103.49 355.25,102.85 C354.55,102.22 353.61,101.88 352.94,101.16 C352.27,100.44 352.11,98.9 351.22,98.52 C350.33,98.14 348.78,98.78 347.61,98.86 C346.43,98.94 345.28,98.74 344.16,98.98 C343.05,99.23 341.92,99.81 340.91,100.33 C339.89,100.85 339.06,101.65 338.07,102.09 C337.08,102.54 335.95,102.56 334.97,102.99 C333.98,103.43 332.64,104.4 332.17,104.68" fill="none" stroke="#111" stroke-width="0.55" stroke-linejoin="round"/>
<path d="M363.29,127 C363.45,126.56 363.94,125.22 364.26,124.33 C364.58,123.44 364.99,122.56 365.2,121.67 C365.41,120.78 365.7,120.03 365.53,119 C365.36,117.97 364.44,116.72 364.19,115.5 C363.93,114.28 364.61,112.59 364.03,111.68 C363.44,110.77 361.53,110.72 360.67,110.03 C359.81,109.34 359.5,108.34 358.87,107.53 C358.24,106.72 357.44,106.02 356.92,105.17 C356.39,104.31 356.14,103.29 355.71,102.39 C355.28,101.49 355.01,100.71 354.34,99.76 C353.67,98.81 352.84,97.05 351.68,96.69 C350.51,96.32 348.58,97.08 347.35,97.56 C346.11,98.05 345.34,99.05 344.28,99.59 C343.23,100.13 342.02,100.22 341.04,100.79 C340.06,101.36 339.42,102.59 338.43,103.01 C337.44,103.44 336.16,103.1 335.11,103.35 C334.05,103.6 332.61,104.33 332.11,104.53" fill="none" stroke="#111" stroke-width="0.55" stroke-linejoin="round"/>
<path d="M363.55,114.34 C363.95,113.95 365.36,112.91 365.97,111.98 C366.58,111.05 366.72,109.77 367.22,108.76 C367.73,107.75 368.32,106.67 369.01,105.92 C369.7,105.17 370.58,104.82 371.36,104.26 C372.13,103.69 372.97,103.11 373.64,102.54 C374.31,101.97 374.59,101.17 375.39,100.84 C376.18,100.51 377.35,100.68 378.41,100.57 C379.48,100.45 380.67,100.11 381.78,100.15 C382.88,100.19 384.08,100.46 385.04,100.79 C386,101.12 386.7,101.65 387.54,102.1 C388.38,102.55 389.15,103.23 390.07,103.47 C390.99,103.71 392.58,103.52 393.09,103.54" fill="none" stroke="#111" stroke-width="0.5" stroke-linejoin="round"/>
<path d="M363.31,114.16 C363.65,113.72 364.92,112.59 365.39,111.55 C365.85,110.51 365.76,109.08 366.1,107.92 C366.44,106.75 366.85,105.48 367.41,104.55 C367.97,103.62 368.68,102.96 369.45,102.35 C370.21,101.74 371.12,101.49 371.99,100.89 C372.86,100.29 373.6,98.9 374.67,98.75 C375.74,98.6 377.26,99.69 378.44,100.01 C379.62,100.33 380.63,100.62 381.75,100.67 C382.87,100.72 384.07,100.34 385.14,100.31 C386.21,100.27 387.14,100.45 388.16,100.44 C389.18,100.44 390.37,99.96 391.27,100.28 C392.16,100.6 393.15,102.01 393.53,102.35" fill="none" stroke="#111" stroke-width="0.5" stroke-linejoin="round"/>
<path d="M385.13,100.97 C384.77,100.66 383.76,99.84 382.99,99.11 C382.21,98.38 380.28,96.96 380.48,96.59 C380.69,96.21 383.03,96.86 384.21,96.87 C385.38,96.88 386.48,96.38 387.55,96.65 C388.61,96.93 389.66,97.81 390.59,98.51 C391.53,99.22 392.73,100.48 393.16,100.88" fill="none" stroke="#111" stroke-width="0.5" stroke-linejoin="round"/>
<polygon points="432.2,128.7 432.2,114.6 419.8,105.1 406.5,109.8 403.1,99.1 417,95 421.4,80.3 431.9,84 428.3,96.2 438.1,104.3 447.9,96.2 444.3,84 454.8,80.3 459.2,95 473.1,99.1 469.7,109.8 456.4,105.1 444,114.6 444,128.7" fill="#fff" stroke="#333" stroke-width="0.7"/>
<polygon points="421.4,80.3 431.9,84.0 430.8,88.2 420.3,84.5" fill="#8c8c8c"/>
<path d="M438.37,127.05 C438.11,126.62 437.1,125.34 436.84,124.46 C436.57,123.59 436.6,122.69 436.78,121.79 C436.97,120.9 437.89,120.12 437.95,119.1 C438.01,118.07 437.29,116.83 437.17,115.65 C437.04,114.46 437.42,113 437.18,111.97 C436.94,110.94 436.17,110.32 435.72,109.46 C435.26,108.61 435.08,107.57 434.46,106.84 C433.84,106.11 432.84,105.8 431.99,105.07 C431.14,104.35 430.16,103.43 429.37,102.49 C428.58,101.54 427.81,100.5 427.25,99.39 C426.69,98.28 426.5,97.02 425.98,95.82 C425.47,94.62 424.42,93.45 424.17,92.21 C423.92,90.97 424.17,89.57 424.5,88.37 C424.83,87.16 425.86,85.53 426.14,84.97" fill="none" stroke="#111" stroke-width="0.5" stroke-linejoin="round"/>
<path d="M437.93,127.07 C437.93,126.63 437.75,125.3 437.93,124.4 C438.1,123.49 438.81,122.56 438.97,121.65 C439.13,120.75 439.19,119.96 438.89,118.96 C438.6,117.95 437.71,116.71 437.18,115.64 C436.65,114.58 436.3,113.36 435.69,112.58 C435.08,111.81 433.96,111.82 433.54,111.02 C433.12,110.22 433.48,108.72 433.16,107.77 C432.85,106.81 432.06,106.34 431.64,105.32 C431.23,104.29 431.22,102.69 430.67,101.62 C430.12,100.55 429.11,99.86 428.36,98.88 C427.61,97.9 426.81,96.88 426.18,95.76 C425.54,94.64 424.76,93.39 424.56,92.17 C424.35,90.94 424.61,89.59 424.93,88.4 C425.24,87.2 426.19,85.56 426.44,84.99" fill="none" stroke="#111" stroke-width="0.5" stroke-linejoin="round"/>
<path d="M439.28,126.99 C439.34,126.54 439.53,125.19 439.63,124.29 C439.72,123.39 439.94,122.49 439.86,121.6 C439.79,120.7 439.58,119.92 439.17,118.92 C438.77,117.91 437.82,116.72 437.43,115.59 C437.04,114.46 437.16,113.1 436.84,112.11 C436.51,111.12 435.94,110.47 435.47,109.64 C434.99,108.82 434.47,108 433.99,107.17 C433.51,106.35 433.03,105.67 432.56,104.69 C432.09,103.7 431.83,102.27 431.17,101.28 C430.52,100.3 429.34,99.71 428.63,98.75 C427.93,97.8 427.49,96.66 426.94,95.54 C426.39,94.43 425.41,93.25 425.34,92.08 C425.26,90.91 426.2,89.68 426.48,88.51 C426.75,87.33 426.89,85.61 426.98,85.03" fill="none" stroke="#111" stroke-width="0.5" stroke-linejoin="round"/>
<path d="M438.82,127.02 C438.76,126.57 438.46,125.26 438.47,124.36 C438.48,123.47 438.72,122.57 438.86,121.66 C439,120.75 439.53,119.91 439.33,118.89 C439.12,117.87 438.15,116.63 437.62,115.55 C437.1,114.46 436.68,113.27 436.18,112.38 C435.68,111.5 435.1,111.03 434.63,110.24 C434.17,109.44 433.75,108.52 433.38,107.61 C433.01,106.7 432.98,105.71 432.43,104.77 C431.88,103.84 430.83,102.96 430.08,102.01 C429.33,101.06 428.61,100.11 427.94,99.07 C427.27,98.04 426.51,96.96 426.06,95.8 C425.62,94.63 425.28,93.3 425.3,92.09 C425.32,90.87 425.91,89.67 426.18,88.49 C426.45,87.31 426.78,85.6 426.9,85.02" fill="none" stroke="#111" stroke-width="0.5" stroke-linejoin="round"/>
<path d="M438.57,127.03 C438.68,126.58 439.09,125.22 439.22,124.32 C439.34,123.42 439.45,122.51 439.32,121.63 C439.18,120.75 438.89,120 438.42,119.03 C437.94,118.06 436.88,116.88 436.45,115.8 C436.01,114.72 435.97,113.55 435.78,112.55 C435.58,111.54 435.48,110.74 435.27,109.78 C435.06,108.82 434.91,107.69 434.53,106.79 C434.16,105.88 433.81,105.13 433.02,104.37 C432.23,103.6 430.77,103.02 429.82,102.19 C428.87,101.35 428.05,100.39 427.33,99.36 C426.61,98.32 425.67,97.19 425.51,95.96 C425.34,94.73 426.1,93.21 426.34,91.97 C426.58,90.74 426.86,89.7 426.96,88.54 C427.07,87.39 426.98,85.61 426.99,85.03" fill="none" stroke="#111" stroke-width="0.5" stroke-linejoin="round"/>
<text x="-0.3" y="153.3" font-size="11" font-weight="bold" fill="#231f20" stroke="#231f20" stroke-width="0.22">c</text>
<text x="26.3" y="153.9" font-size="9.9" font-weight="bold" textLength="53.9" lengthAdjust="spacingAndGlyphs" fill="#3aadc5">Exploration</text>
<text x="435.9" y="153.8" font-size="9.9" font-weight="bold" textLength="52.4" lengthAdjust="spacingAndGlyphs" fill="#d8414c">Exploitation</text>
<rect x="44" y="160.15" width="10" height="102.3" fill="#c8fbfb"/>
<rect x="435.3" y="160.15" width="51.5" height="102.3" fill="#fdcbc9"/>
<line x1="78.6" y1="160.15" x2="78.6" y2="262.45" stroke="#5a5a5a" stroke-width="0.85" stroke-dasharray="1.3,1.2"/>
<line x1="114.5" y1="160.15" x2="114.5" y2="262.45" stroke="#5a5a5a" stroke-width="0.85" stroke-dasharray="1.3,1.2"/>
<line x1="149.7" y1="160.15" x2="149.7" y2="262.45" stroke="#5a5a5a" stroke-width="0.85" stroke-dasharray="1.3,1.2"/>
<line x1="185.4" y1="160.15" x2="185.4" y2="262.45" stroke="#5a5a5a" stroke-width="0.85" stroke-dasharray="1.3,1.2"/>
<line x1="220.6" y1="160.15" x2="220.6" y2="262.45" stroke="#5a5a5a" stroke-width="0.85" stroke-dasharray="1.3,1.2"/>
<line x1="329.5" y1="160.15" x2="329.5" y2="262.45" stroke="#5a5a5a" stroke-width="0.85" stroke-dasharray="1.3,1.2"/>
<line x1="365.4" y1="160.15" x2="365.4" y2="262.45" stroke="#5a5a5a" stroke-width="0.85" stroke-dasharray="1.3,1.2"/>
<line x1="400.6" y1="160.15" x2="400.6" y2="262.45" stroke="#5a5a5a" stroke-width="0.85" stroke-dasharray="1.3,1.2"/>
<line x1="435.3" y1="160.15" x2="435.3" y2="262.45" stroke="#5a5a5a" stroke-width="0.85" stroke-dasharray="1.3,1.2"/>
<line x1="471.4" y1="160.15" x2="471.4" y2="262.45" stroke="#5a5a5a" stroke-width="0.85" stroke-dasharray="1.3,1.2"/>
<line x1="40.5" y1="159.65" x2="40.5" y2="262.95" stroke="#231f20" stroke-width="1"/>
<line x1="40.5" y1="262.45" x2="226" y2="262.45" stroke="#231f20" stroke-width="1"/>
<line x1="38.1" y1="262.45" x2="40.5" y2="262.45" stroke="#231f20" stroke-width="0.8"/>
<text x="35.1" y="265.85" font-size="8.2" text-anchor="end" textLength="3.62" lengthAdjust="spacingAndGlyphs" fill="#231f20" stroke="#231f20" stroke-width="0.22">0</text>
<line x1="38.1" y1="241.99" x2="40.5" y2="241.99" stroke="#231f20" stroke-width="0.8"/>
<text x="35.1" y="245.39" font-size="8.2" text-anchor="end" textLength="10.86" lengthAdjust="spacingAndGlyphs" fill="#231f20" stroke="#231f20" stroke-width="0.22">200</text>
<line x1="38.1" y1="221.53" x2="40.5" y2="221.53" stroke="#231f20" stroke-width="0.8"/>
<text x="35.1" y="224.93" font-size="8.2" text-anchor="end" textLength="10.86" lengthAdjust="spacingAndGlyphs" fill="#231f20" stroke="#231f20" stroke-width="0.22">400</text>
<line x1="38.1" y1="201.07" x2="40.5" y2="201.07" stroke="#231f20" stroke-width="0.8"/>
<text x="35.1" y="204.47" font-size="8.2" text-anchor="end" textLength="10.86" lengthAdjust="spacingAndGlyphs" fill="#231f20" stroke="#231f20" stroke-width="0.22">600</text>
<line x1="38.1" y1="180.61" x2="40.5" y2="180.61" stroke="#231f20" stroke-width="0.8"/>
<text x="35.1" y="184.01" font-size="8.2" text-anchor="end" textLength="10.86" lengthAdjust="spacingAndGlyphs" fill="#231f20" stroke="#231f20" stroke-width="0.22">800</text>
<line x1="38.1" y1="160.15" x2="40.5" y2="160.15" stroke="#231f20" stroke-width="0.8"/>
<text x="35.1" y="163.55" font-size="8.2" text-anchor="end" textLength="14.48" lengthAdjust="spacingAndGlyphs" fill="#231f20" stroke="#231f20" stroke-width="0.22">1000</text>
<line x1="291.5" y1="159.65" x2="291.5" y2="262.95" stroke="#231f20" stroke-width="1"/>
<line x1="291.5" y1="262.45" x2="475.6" y2="262.45" stroke="#231f20" stroke-width="1"/>
<line x1="289.1" y1="262.45" x2="291.5" y2="262.45" stroke="#231f20" stroke-width="0.8"/>
<text x="286.1" y="265.85" font-size="8.2" text-anchor="end" textLength="3.62" lengthAdjust="spacingAndGlyphs" fill="#231f20" stroke="#231f20" stroke-width="0.22">0</text>
<line x1="289.1" y1="241.99" x2="291.5" y2="241.99" stroke="#231f20" stroke-width="0.8"/>
<text x="286.1" y="245.39" font-size="8.2" text-anchor="end" textLength="10.86" lengthAdjust="spacingAndGlyphs" fill="#231f20" stroke="#231f20" stroke-width="0.22">200</text>
<line x1="289.1" y1="221.53" x2="291.5" y2="221.53" stroke="#231f20" stroke-width="0.8"/>
<text x="286.1" y="224.93" font-size="8.2" text-anchor="end" textLength="10.86" lengthAdjust="spacingAndGlyphs" fill="#231f20" stroke="#231f20" stroke-width="0.22">400</text>
<line x1="289.1" y1="201.07" x2="291.5" y2="201.07" stroke="#231f20" stroke-width="0.8"/>
<text x="286.1" y="204.47" font-size="8.2" text-anchor="end" textLength="10.86" lengthAdjust="spacingAndGlyphs" fill="#231f20" stroke="#231f20" stroke-width="0.22">600</text>
<line x1="289.1" y1="180.61" x2="291.5" y2="180.61" stroke="#231f20" stroke-width="0.8"/>
<text x="286.1" y="184.01" font-size="8.2" text-anchor="end" textLength="10.86" lengthAdjust="spacingAndGlyphs" fill="#231f20" stroke="#231f20" stroke-width="0.22">800</text>
<line x1="289.1" y1="160.15" x2="291.5" y2="160.15" stroke="#231f20" stroke-width="0.8"/>
<text x="286.1" y="163.55" font-size="8.2" text-anchor="end" textLength="14.48" lengthAdjust="spacingAndGlyphs" fill="#231f20" stroke="#231f20" stroke-width="0.22">1000</text>
<line x1="48.95" y1="262.45" x2="48.95" y2="264.65" stroke="#231f20" stroke-width="0.8"/>
<line x1="299.6" y1="262.45" x2="299.6" y2="264.65" stroke="#231f20" stroke-width="0.8"/>
<line x1="57.73" y1="262.45" x2="57.73" y2="264.65" stroke="#231f20" stroke-width="0.8"/>
<line x1="308.37" y1="262.45" x2="308.37" y2="264.65" stroke="#231f20" stroke-width="0.8"/>
<line x1="66.51" y1="262.45" x2="66.51" y2="264.65" stroke="#231f20" stroke-width="0.8"/>
<line x1="317.13" y1="262.45" x2="317.13" y2="264.65" stroke="#231f20" stroke-width="0.8"/>
<line x1="75.29" y1="262.45" x2="75.29" y2="264.65" stroke="#231f20" stroke-width="0.8"/>
<line x1="325.9" y1="262.45" x2="325.9" y2="264.65" stroke="#231f20" stroke-width="0.8"/>
<line x1="84.07" y1="262.45" x2="84.07" y2="264.65" stroke="#231f20" stroke-width="0.8"/>
<line x1="334.66" y1="262.45" x2="334.66" y2="264.65" stroke="#231f20" stroke-width="0.8"/>
<line x1="92.85" y1="262.45" x2="92.85" y2="264.65" stroke="#231f20" stroke-width="0.8"/>
<line x1="343.43" y1="262.45" x2="343.43" y2="264.65" stroke="#231f20" stroke-width="0.8"/>
<line x1="101.63" y1="262.45" x2="101.63" y2="264.65" stroke="#231f20" stroke-width="0.8"/>
<line x1="352.19" y1="262.45" x2="352.19" y2="264.65" stroke="#231f20" stroke-width="0.8"/>
<line x1="110.41" y1="262.45" x2="110.41" y2="264.65" stroke="#231f20" stroke-width="0.8"/>
<line x1="360.96" y1="262.45" x2="360.96" y2="264.65" stroke="#231f20" stroke-width="0.8"/>
<line x1="119.19" y1="262.45" x2="119.19" y2="264.65" stroke="#231f20" stroke-width="0.8"/>
<line x1="369.72" y1="262.45" x2="369.72" y2="264.65" stroke="#231f20" stroke-width="0.8"/>
<line x1="127.97" y1="262.45" x2="127.97" y2="264.65" stroke="#231f20" stroke-width="0.8"/>
<line x1="378.49" y1="262.45" x2="378.49" y2="264.65" stroke="#231f20" stroke-width="0.8"/>
<line x1="136.75" y1="262.45" x2="136.75" y2="264.65" stroke="#231f20" stroke-width="0.8"/>
<line x1="387.25" y1="262.45" x2="387.25" y2="264.65" stroke="#231f20" stroke-width="0.8"/>
<line x1="145.53" y1="262.45" x2="145.53" y2="264.65" stroke="#231f20" stroke-width="0.8"/>
<line x1="396.02" y1="262.45" x2="396.02" y2="264.65" stroke="#231f20" stroke-width="0.8"/>
<line x1="154.31" y1="262.45" x2="154.31" y2="264.65" stroke="#231f20" stroke-width="0.8"/>
<line x1="404.78" y1="262.45" x2="404.78" y2="264.65" stroke="#231f20" stroke-width="0.8"/>
<line x1="163.09" y1="262.45" x2="163.09" y2="264.65" stroke="#231f20" stroke-width="0.8"/>
<line x1="413.55" y1="262.45" x2="413.55" y2="264.65" stroke="#231f20" stroke-width="0.8"/>
<line x1="171.87" y1="262.45" x2="171.87" y2="264.65" stroke="#231f20" stroke-width="0.8"/>
<line x1="422.31" y1="262.45" x2="422.31" y2="264.65" stroke="#231f20" stroke-width="0.8"/>
<line x1="180.65" y1="262.45" x2="180.65" y2="264.65" stroke="#231f20" stroke-width="0.8"/>
<line x1="431.08" y1="262.45" x2="431.08" y2="264.65" stroke="#231f20" stroke-width="0.8"/>
<line x1="189.43" y1="262.45" x2="189.43" y2="264.65" stroke="#231f20" stroke-width="0.8"/>
<line x1="439.84" y1="262.45" x2="439.84" y2="264.65" stroke="#231f20" stroke-width="0.8"/>
<line x1="198.21" y1="262.45" x2="198.21" y2="264.65" stroke="#231f20" stroke-width="0.8"/>
<line x1="448.61" y1="262.45" x2="448.61" y2="264.65" stroke="#231f20" stroke-width="0.8"/>
<line x1="206.99" y1="262.45" x2="206.99" y2="264.65" stroke="#231f20" stroke-width="0.8"/>
<line x1="457.37" y1="262.45" x2="457.37" y2="264.65" stroke="#231f20" stroke-width="0.8"/>
<line x1="215.77" y1="262.45" x2="215.77" y2="264.65" stroke="#231f20" stroke-width="0.8"/>
<line x1="466.14" y1="262.45" x2="466.14" y2="264.65" stroke="#231f20" stroke-width="0.8"/>
<line x1="224.55" y1="262.45" x2="224.55" y2="264.65" stroke="#231f20" stroke-width="0.8"/>
<line x1="474.9" y1="262.45" x2="474.9" y2="264.65" stroke="#231f20" stroke-width="0.8"/>
<text x="57.73" y="272.2" font-size="8.2" text-anchor="middle" textLength="4" lengthAdjust="spacingAndGlyphs" fill="#231f20" stroke="#231f20" stroke-width="0.22">2</text>
<text x="75.29" y="272.2" font-size="8.2" text-anchor="middle" textLength="4" lengthAdjust="spacingAndGlyphs" fill="#231f20" stroke="#231f20" stroke-width="0.22">4</text>
<text x="92.85" y="272.2" font-size="8.2" text-anchor="middle" textLength="4" lengthAdjust="spacingAndGlyphs" fill="#231f20" stroke="#231f20" stroke-width="0.22">6</text>
<text x="110.41" y="272.2" font-size="8.2" text-anchor="middle" textLength="4" lengthAdjust="spacingAndGlyphs" fill="#231f20" stroke="#231f20" stroke-width="0.22">8</text>
<text x="127.97" y="272.2" font-size="8.2" text-anchor="middle" textLength="8" lengthAdjust="spacingAndGlyphs" fill="#231f20" stroke="#231f20" stroke-width="0.22">10</text>
<text x="145.53" y="272.2" font-size="8.2" text-anchor="middle" textLength="8" lengthAdjust="spacingAndGlyphs" fill="#231f20" stroke="#231f20" stroke-width="0.22">12</text>
<text x="163.09" y="272.2" font-size="8.2" text-anchor="middle" textLength="8" lengthAdjust="spacingAndGlyphs" fill="#231f20" stroke="#231f20" stroke-width="0.22">14</text>
<text x="180.65" y="272.2" font-size="8.2" text-anchor="middle" textLength="8" lengthAdjust="spacingAndGlyphs" fill="#231f20" stroke="#231f20" stroke-width="0.22">16</text>
<text x="198.21" y="272.2" font-size="8.2" text-anchor="middle" textLength="8" lengthAdjust="spacingAndGlyphs" fill="#231f20" stroke="#231f20" stroke-width="0.22">18</text>
<text x="215.77" y="272.2" font-size="8.2" text-anchor="middle" textLength="8" lengthAdjust="spacingAndGlyphs" fill="#231f20" stroke="#231f20" stroke-width="0.22">20</text>
<text x="14.0" y="209.6" font-size="9.85" text-anchor="middle" fill="#231f20" transform="rotate(-90 14.0 209.6)" stroke="#231f20" stroke-width="0.22">Travelled distance (cm)</text>
<text x="138.4" y="282.1" font-size="9" text-anchor="middle" textLength="65.6" lengthAdjust="spacingAndGlyphs" fill="#231f20" stroke="#231f20" stroke-width="0.22">Training session</text>
<text x="391.9" y="277" font-size="9" text-anchor="middle" textLength="65.2" lengthAdjust="spacingAndGlyphs" fill="#231f20" stroke="#231f20" stroke-width="0.22">Training session</text>
<text x="59.55" y="167.9" font-size="7.6" text-anchor="middle" textLength="16.7" lengthAdjust="spacingAndGlyphs" fill="#444" stroke="#444" stroke-width="0.22">day 1</text>
<text x="96.65" y="167.9" font-size="7.6" text-anchor="middle" textLength="17.3" lengthAdjust="spacingAndGlyphs" fill="#444" stroke="#444" stroke-width="0.22">day 2</text>
<text x="131.55" y="167.9" font-size="7.6" text-anchor="middle" textLength="17.1" lengthAdjust="spacingAndGlyphs" fill="#444" stroke="#444" stroke-width="0.22">day 3</text>
<text x="166.3" y="167.9" font-size="7.6" text-anchor="middle" textLength="16.6" lengthAdjust="spacingAndGlyphs" fill="#444" stroke="#444" stroke-width="0.22">day 4</text>
<text x="201.6" y="167.9" font-size="7.6" text-anchor="middle" textLength="17.4" lengthAdjust="spacingAndGlyphs" fill="#444" stroke="#444" stroke-width="0.22">day 5</text>
<text x="231.65" y="167.9" font-size="7.6" text-anchor="middle" textLength="16.1" lengthAdjust="spacingAndGlyphs" fill="#444" stroke="#444" stroke-width="0.22">day 6</text>
<text x="452.1" y="167.9" font-size="7.6" text-anchor="middle" textLength="17.5" lengthAdjust="spacingAndGlyphs" fill="#444" stroke="#444" stroke-width="0.22">day d</text>
<text x="478.2" y="167.9" font-size="7.6" text-anchor="middle" textLength="10.4" lengthAdjust="spacingAndGlyphs" fill="#444" stroke="#444" stroke-width="0.22">day</text>
<text x="479.1" y="177.3" font-size="7.6" text-anchor="middle" textLength="11.5" lengthAdjust="spacingAndGlyphs" fill="#444" stroke="#444" stroke-width="0.22">d+1</text>
<line x1="48.95" y1="173.76" x2="48.95" y2="183.99" stroke="#8e8e8e" stroke-width="0.7"/>
<line x1="47.35" y1="173.76" x2="50.55" y2="173.76" stroke="#8e8e8e" stroke-width="0.7"/>
<line x1="47.35" y1="183.99" x2="50.55" y2="183.99" stroke="#8e8e8e" stroke-width="0.7"/>
<line x1="57.73" y1="176.52" x2="57.73" y2="207.21" stroke="#8e8e8e" stroke-width="0.7"/>
<line x1="56.13" y1="176.52" x2="59.33" y2="176.52" stroke="#8e8e8e" stroke-width="0.7"/>
<line x1="56.13" y1="207.21" x2="59.33" y2="207.21" stroke="#8e8e8e" stroke-width="0.7"/>
<line x1="66.51" y1="195.24" x2="66.51" y2="203.42" stroke="#8e8e8e" stroke-width="0.7"/>
<line x1="64.91" y1="195.24" x2="68.11" y2="195.24" stroke="#8e8e8e" stroke-width="0.7"/>
<line x1="64.91" y1="203.42" x2="68.11" y2="203.42" stroke="#8e8e8e" stroke-width="0.7"/>
<line x1="75.29" y1="199.02" x2="75.29" y2="211.3" stroke="#8e8e8e" stroke-width="0.7"/>
<line x1="73.69" y1="199.02" x2="76.89" y2="199.02" stroke="#8e8e8e" stroke-width="0.7"/>
<line x1="73.69" y1="211.3" x2="76.89" y2="211.3" stroke="#8e8e8e" stroke-width="0.7"/>
<line x1="84.07" y1="207.72" x2="84.07" y2="215.9" stroke="#8e8e8e" stroke-width="0.7"/>
<line x1="82.47" y1="207.72" x2="85.67" y2="207.72" stroke="#8e8e8e" stroke-width="0.7"/>
<line x1="82.47" y1="215.9" x2="85.67" y2="215.9" stroke="#8e8e8e" stroke-width="0.7"/>
<line x1="92.85" y1="229.1" x2="92.85" y2="237.28" stroke="#8e8e8e" stroke-width="0.7"/>
<line x1="91.25" y1="229.1" x2="94.45" y2="229.1" stroke="#8e8e8e" stroke-width="0.7"/>
<line x1="91.25" y1="237.28" x2="94.45" y2="237.28" stroke="#8e8e8e" stroke-width="0.7"/>
<line x1="101.63" y1="225.62" x2="101.63" y2="235.85" stroke="#8e8e8e" stroke-width="0.7"/>
<line x1="100.03" y1="225.62" x2="103.23" y2="225.62" stroke="#8e8e8e" stroke-width="0.7"/>
<line x1="100.03" y1="235.85" x2="103.23" y2="235.85" stroke="#8e8e8e" stroke-width="0.7"/>
<line x1="110.41" y1="228.49" x2="110.41" y2="236.67" stroke="#8e8e8e" stroke-width="0.7"/>
<line x1="108.81" y1="228.49" x2="112.01" y2="228.49" stroke="#8e8e8e" stroke-width="0.7"/>
<line x1="108.81" y1="236.67" x2="112.01" y2="236.67" stroke="#8e8e8e" stroke-width="0.7"/>
<line x1="119.19" y1="225.32" x2="119.19" y2="235.55" stroke="#8e8e8e" stroke-width="0.7"/>
<line x1="117.59" y1="225.32" x2="120.79" y2="225.32" stroke="#8e8e8e" stroke-width="0.7"/>
<line x1="117.59" y1="235.55" x2="120.79" y2="235.55" stroke="#8e8e8e" stroke-width="0.7"/>
<line x1="127.97" y1="226.34" x2="127.97" y2="234.52" stroke="#8e8e8e" stroke-width="0.7"/>
<line x1="126.37" y1="226.34" x2="129.57" y2="226.34" stroke="#8e8e8e" stroke-width="0.7"/>
<line x1="126.37" y1="234.52" x2="129.57" y2="234.52" stroke="#8e8e8e" stroke-width="0.7"/>
<line x1="136.75" y1="229.71" x2="136.75" y2="237.9" stroke="#8e8e8e" stroke-width="0.7"/>
<line x1="135.15" y1="229.71" x2="138.35" y2="229.71" stroke="#8e8e8e" stroke-width="0.7"/>
<line x1="135.15" y1="237.9" x2="138.35" y2="237.9" stroke="#8e8e8e" stroke-width="0.7"/>
<line x1="145.53" y1="238" x2="145.53" y2="244.14" stroke="#8e8e8e" stroke-width="0.7"/>
<line x1="143.93" y1="238" x2="147.13" y2="238" stroke="#8e8e8e" stroke-width="0.7"/>
<line x1="143.93" y1="244.14" x2="147.13" y2="244.14" stroke="#8e8e8e" stroke-width="0.7"/>
<line x1="154.31" y1="240.97" x2="154.31" y2="246.08" stroke="#8e8e8e" stroke-width="0.7"/>
<line x1="152.71" y1="240.97" x2="155.91" y2="240.97" stroke="#8e8e8e" stroke-width="0.7"/>
<line x1="152.71" y1="246.08" x2="155.91" y2="246.08" stroke="#8e8e8e" stroke-width="0.7"/>
<line x1="163.09" y1="242.09" x2="163.09" y2="247.21" stroke="#8e8e8e" stroke-width="0.7"/>
<line x1="161.49" y1="242.09" x2="164.69" y2="242.09" stroke="#8e8e8e" stroke-width="0.7"/>
<line x1="161.49" y1="247.21" x2="164.69" y2="247.21" stroke="#8e8e8e" stroke-width="0.7"/>
<line x1="171.87" y1="246.08" x2="171.87" y2="249.15" stroke="#8e8e8e" stroke-width="0.7"/>
<line x1="170.27" y1="246.08" x2="173.47" y2="246.08" stroke="#8e8e8e" stroke-width="0.7"/>
<line x1="170.27" y1="249.15" x2="173.47" y2="249.15" stroke="#8e8e8e" stroke-width="0.7"/>
<line x1="180.65" y1="246.08" x2="180.65" y2="249.15" stroke="#8e8e8e" stroke-width="0.7"/>
<line x1="179.05" y1="246.08" x2="182.25" y2="246.08" stroke="#8e8e8e" stroke-width="0.7"/>
<line x1="179.05" y1="249.15" x2="182.25" y2="249.15" stroke="#8e8e8e" stroke-width="0.7"/>
<line x1="189.43" y1="246.08" x2="189.43" y2="249.15" stroke="#8e8e8e" stroke-width="0.7"/>
<line x1="187.83" y1="246.08" x2="191.03" y2="246.08" stroke="#8e8e8e" stroke-width="0.7"/>
<line x1="187.83" y1="249.15" x2="191.03" y2="249.15" stroke="#8e8e8e" stroke-width="0.7"/>
<path d="M48.95,178.87 L57.73,191.86 L66.51,199.33 L75.29,205.16 L84.07,211.81 L92.85,233.19 L101.63,230.74 L110.41,232.58 L119.19,230.43 L127.97,230.43 L136.75,233.81 L145.53,241.07 L154.31,243.52 L163.09,244.65 L171.87,247.62 L180.65,247.62 L189.43,247.62" fill="none" stroke="#8e8e8e" stroke-width="0.9"/>
<circle cx="48.95" cy="178.87" r="1.95" fill="#8e8e8e"/>
<circle cx="57.73" cy="191.86" r="1.95" fill="#8e8e8e"/>
<circle cx="66.51" cy="199.33" r="1.95" fill="#8e8e8e"/>
<circle cx="75.29" cy="205.16" r="1.95" fill="#8e8e8e"/>
<circle cx="84.07" cy="211.81" r="1.95" fill="#8e8e8e"/>
<circle cx="92.85" cy="233.19" r="1.95" fill="#8e8e8e"/>
<circle cx="101.63" cy="230.74" r="1.95" fill="#8e8e8e"/>
<circle cx="110.41" cy="232.58" r="1.95" fill="#8e8e8e"/>
<circle cx="119.19" cy="230.43" r="1.95" fill="#8e8e8e"/>
<circle cx="127.97" cy="230.43" r="1.95" fill="#8e8e8e"/>
<circle cx="136.75" cy="233.81" r="1.95" fill="#8e8e8e"/>
<circle cx="145.53" cy="241.07" r="1.95" fill="#8e8e8e"/>
<circle cx="154.31" cy="243.52" r="1.95" fill="#8e8e8e"/>
<circle cx="163.09" cy="244.65" r="1.95" fill="#8e8e8e"/>
<circle cx="171.87" cy="247.62" r="1.95" fill="#8e8e8e"/>
<circle cx="180.65" cy="247.62" r="1.95" fill="#8e8e8e"/>
<circle cx="189.43" cy="247.62" r="1.95" fill="#8e8e8e"/>
<line x1="48.95" y1="175.19" x2="48.95" y2="187.46" stroke="#585858" stroke-width="0.7"/>
<line x1="47.35" y1="175.19" x2="50.55" y2="175.19" stroke="#585858" stroke-width="0.7"/>
<line x1="47.35" y1="187.46" x2="50.55" y2="187.46" stroke="#585858" stroke-width="0.7"/>
<line x1="57.73" y1="198.72" x2="57.73" y2="208.95" stroke="#585858" stroke-width="0.7"/>
<line x1="56.13" y1="198.72" x2="59.33" y2="198.72" stroke="#585858" stroke-width="0.7"/>
<line x1="56.13" y1="208.95" x2="59.33" y2="208.95" stroke="#585858" stroke-width="0.7"/>
<line x1="66.51" y1="202.09" x2="66.51" y2="210.28" stroke="#585858" stroke-width="0.7"/>
<line x1="64.91" y1="202.09" x2="68.11" y2="202.09" stroke="#585858" stroke-width="0.7"/>
<line x1="64.91" y1="210.28" x2="68.11" y2="210.28" stroke="#585858" stroke-width="0.7"/>
<line x1="75.29" y1="203.01" x2="75.29" y2="215.29" stroke="#585858" stroke-width="0.7"/>
<line x1="73.69" y1="203.01" x2="76.89" y2="203.01" stroke="#585858" stroke-width="0.7"/>
<line x1="73.69" y1="215.29" x2="76.89" y2="215.29" stroke="#585858" stroke-width="0.7"/>
<line x1="84.07" y1="214.57" x2="84.07" y2="224.8" stroke="#585858" stroke-width="0.7"/>
<line x1="82.47" y1="214.57" x2="85.67" y2="214.57" stroke="#585858" stroke-width="0.7"/>
<line x1="82.47" y1="224.8" x2="85.67" y2="224.8" stroke="#585858" stroke-width="0.7"/>
<line x1="92.85" y1="218.15" x2="92.85" y2="226.34" stroke="#585858" stroke-width="0.7"/>
<line x1="91.25" y1="218.15" x2="94.45" y2="218.15" stroke="#585858" stroke-width="0.7"/>
<line x1="91.25" y1="226.34" x2="94.45" y2="226.34" stroke="#585858" stroke-width="0.7"/>
<line x1="101.63" y1="224.8" x2="101.63" y2="232.99" stroke="#585858" stroke-width="0.7"/>
<line x1="100.03" y1="224.8" x2="103.23" y2="224.8" stroke="#585858" stroke-width="0.7"/>
<line x1="100.03" y1="232.99" x2="103.23" y2="232.99" stroke="#585858" stroke-width="0.7"/>
<line x1="110.41" y1="226.03" x2="110.41" y2="234.22" stroke="#585858" stroke-width="0.7"/>
<line x1="108.81" y1="226.03" x2="112.01" y2="226.03" stroke="#585858" stroke-width="0.7"/>
<line x1="108.81" y1="234.22" x2="112.01" y2="234.22" stroke="#585858" stroke-width="0.7"/>
<line x1="119.19" y1="236.16" x2="119.19" y2="244.34" stroke="#585858" stroke-width="0.7"/>
<line x1="117.59" y1="236.16" x2="120.79" y2="236.16" stroke="#585858" stroke-width="0.7"/>
<line x1="117.59" y1="244.34" x2="120.79" y2="244.34" stroke="#585858" stroke-width="0.7"/>
<line x1="127.97" y1="239.94" x2="127.97" y2="246.08" stroke="#585858" stroke-width="0.7"/>
<line x1="126.37" y1="239.94" x2="129.57" y2="239.94" stroke="#585858" stroke-width="0.7"/>
<line x1="126.37" y1="246.08" x2="129.57" y2="246.08" stroke="#585858" stroke-width="0.7"/>
<line x1="136.75" y1="242.19" x2="136.75" y2="247.31" stroke="#585858" stroke-width="0.7"/>
<line x1="135.15" y1="242.19" x2="138.35" y2="242.19" stroke="#585858" stroke-width="0.7"/>
<line x1="135.15" y1="247.31" x2="138.35" y2="247.31" stroke="#585858" stroke-width="0.7"/>
<line x1="145.53" y1="244.75" x2="145.53" y2="248.84" stroke="#585858" stroke-width="0.7"/>
<line x1="143.93" y1="244.75" x2="147.13" y2="244.75" stroke="#585858" stroke-width="0.7"/>
<line x1="143.93" y1="248.84" x2="147.13" y2="248.84" stroke="#585858" stroke-width="0.7"/>
<line x1="154.31" y1="246.39" x2="154.31" y2="250.48" stroke="#585858" stroke-width="0.7"/>
<line x1="152.71" y1="246.39" x2="155.91" y2="246.39" stroke="#585858" stroke-width="0.7"/>
<line x1="152.71" y1="250.48" x2="155.91" y2="250.48" stroke="#585858" stroke-width="0.7"/>
<path d="M48.95,181.33 L57.73,203.83 L66.51,206.19 L75.29,209.15 L84.07,219.69 L92.85,222.25 L101.63,228.9 L110.41,230.12 L119.19,240.25 L127.97,243.01 L136.75,244.75 L145.53,246.8 L154.31,248.43" fill="none" stroke="#585858" stroke-width="0.9"/>
<circle cx="48.95" cy="181.33" r="1.95" fill="#585858"/>
<circle cx="57.73" cy="203.83" r="1.95" fill="#585858"/>
<circle cx="66.51" cy="206.19" r="1.95" fill="#585858"/>
<circle cx="75.29" cy="209.15" r="1.95" fill="#585858"/>
<circle cx="84.07" cy="219.69" r="1.95" fill="#585858"/>
<circle cx="92.85" cy="222.25" r="1.95" fill="#585858"/>
<circle cx="101.63" cy="228.9" r="1.95" fill="#585858"/>
<circle cx="110.41" cy="230.12" r="1.95" fill="#585858"/>
<circle cx="119.19" cy="240.25" r="1.95" fill="#585858"/>
<circle cx="127.97" cy="243.01" r="1.95" fill="#585858"/>
<circle cx="136.75" cy="244.75" r="1.95" fill="#585858"/>
<circle cx="145.53" cy="246.8" r="1.95" fill="#585858"/>
<circle cx="154.31" cy="248.43" r="1.95" fill="#585858"/>
<line x1="48.95" y1="179.28" x2="48.95" y2="193.6" stroke="#000000" stroke-width="0.7"/>
<line x1="47.35" y1="179.28" x2="50.55" y2="179.28" stroke="#000000" stroke-width="0.7"/>
<line x1="47.35" y1="193.6" x2="50.55" y2="193.6" stroke="#000000" stroke-width="0.7"/>
<line x1="57.73" y1="176.62" x2="57.73" y2="203.22" stroke="#000000" stroke-width="0.7"/>
<line x1="56.13" y1="176.62" x2="59.33" y2="176.62" stroke="#000000" stroke-width="0.7"/>
<line x1="56.13" y1="203.22" x2="59.33" y2="203.22" stroke="#000000" stroke-width="0.7"/>
<line x1="66.51" y1="200.97" x2="66.51" y2="213.24" stroke="#000000" stroke-width="0.7"/>
<line x1="64.91" y1="200.97" x2="68.11" y2="200.97" stroke="#000000" stroke-width="0.7"/>
<line x1="64.91" y1="213.24" x2="68.11" y2="213.24" stroke="#000000" stroke-width="0.7"/>
<line x1="75.29" y1="183.58" x2="75.29" y2="222.45" stroke="#000000" stroke-width="0.7"/>
<line x1="73.69" y1="183.58" x2="76.89" y2="183.58" stroke="#000000" stroke-width="0.7"/>
<line x1="73.69" y1="222.45" x2="76.89" y2="222.45" stroke="#000000" stroke-width="0.7"/>
<line x1="84.07" y1="199.13" x2="84.07" y2="217.54" stroke="#000000" stroke-width="0.7"/>
<line x1="82.47" y1="199.13" x2="85.67" y2="199.13" stroke="#000000" stroke-width="0.7"/>
<line x1="82.47" y1="217.54" x2="85.67" y2="217.54" stroke="#000000" stroke-width="0.7"/>
<line x1="92.85" y1="215.8" x2="92.85" y2="219.89" stroke="#000000" stroke-width="0.7"/>
<line x1="91.25" y1="215.8" x2="94.45" y2="215.8" stroke="#000000" stroke-width="0.7"/>
<line x1="91.25" y1="219.89" x2="94.45" y2="219.89" stroke="#000000" stroke-width="0.7"/>
<line x1="101.63" y1="213.04" x2="101.63" y2="219.18" stroke="#000000" stroke-width="0.7"/>
<line x1="100.03" y1="213.04" x2="103.23" y2="213.04" stroke="#000000" stroke-width="0.7"/>
<line x1="100.03" y1="219.18" x2="103.23" y2="219.18" stroke="#000000" stroke-width="0.7"/>
<line x1="110.41" y1="221.02" x2="110.41" y2="233.29" stroke="#000000" stroke-width="0.7"/>
<line x1="108.81" y1="221.02" x2="112.01" y2="221.02" stroke="#000000" stroke-width="0.7"/>
<line x1="108.81" y1="233.29" x2="112.01" y2="233.29" stroke="#000000" stroke-width="0.7"/>
<line x1="119.19" y1="221.94" x2="119.19" y2="230.12" stroke="#000000" stroke-width="0.7"/>
<line x1="117.59" y1="221.94" x2="120.79" y2="221.94" stroke="#000000" stroke-width="0.7"/>
<line x1="117.59" y1="230.12" x2="120.79" y2="230.12" stroke="#000000" stroke-width="0.7"/>
<line x1="127.97" y1="209.15" x2="127.97" y2="233.7" stroke="#000000" stroke-width="0.7"/>
<line x1="126.37" y1="209.15" x2="129.57" y2="209.15" stroke="#000000" stroke-width="0.7"/>
<line x1="126.37" y1="233.7" x2="129.57" y2="233.7" stroke="#000000" stroke-width="0.7"/>
<line x1="136.75" y1="231.35" x2="136.75" y2="237.49" stroke="#000000" stroke-width="0.7"/>
<line x1="135.15" y1="231.35" x2="138.35" y2="231.35" stroke="#000000" stroke-width="0.7"/>
<line x1="135.15" y1="237.49" x2="138.35" y2="237.49" stroke="#000000" stroke-width="0.7"/>
<line x1="145.53" y1="230.74" x2="145.53" y2="238.92" stroke="#000000" stroke-width="0.7"/>
<line x1="143.93" y1="230.74" x2="147.13" y2="230.74" stroke="#000000" stroke-width="0.7"/>
<line x1="143.93" y1="238.92" x2="147.13" y2="238.92" stroke="#000000" stroke-width="0.7"/>
<line x1="154.31" y1="236.16" x2="154.31" y2="244.34" stroke="#000000" stroke-width="0.7"/>
<line x1="152.71" y1="236.16" x2="155.91" y2="236.16" stroke="#000000" stroke-width="0.7"/>
<line x1="152.71" y1="244.34" x2="155.91" y2="244.34" stroke="#000000" stroke-width="0.7"/>
<line x1="163.09" y1="235.03" x2="163.09" y2="241.17" stroke="#000000" stroke-width="0.7"/>
<line x1="161.49" y1="235.03" x2="164.69" y2="235.03" stroke="#000000" stroke-width="0.7"/>
<line x1="161.49" y1="241.17" x2="164.69" y2="241.17" stroke="#000000" stroke-width="0.7"/>
<line x1="171.87" y1="233.91" x2="171.87" y2="239.02" stroke="#000000" stroke-width="0.7"/>
<line x1="170.27" y1="233.91" x2="173.47" y2="233.91" stroke="#000000" stroke-width="0.7"/>
<line x1="170.27" y1="239.02" x2="173.47" y2="239.02" stroke="#000000" stroke-width="0.7"/>
<line x1="180.65" y1="238.72" x2="180.65" y2="241.79" stroke="#000000" stroke-width="0.7"/>
<line x1="179.05" y1="238.72" x2="182.25" y2="238.72" stroke="#000000" stroke-width="0.7"/>
<line x1="179.05" y1="241.79" x2="182.25" y2="241.79" stroke="#000000" stroke-width="0.7"/>
<line x1="198.21" y1="247.21" x2="198.21" y2="249.25" stroke="#000000" stroke-width="0.7"/>
<line x1="196.61" y1="247.21" x2="199.81" y2="247.21" stroke="#000000" stroke-width="0.7"/>
<line x1="196.61" y1="249.25" x2="199.81" y2="249.25" stroke="#000000" stroke-width="0.7"/>
<line x1="206.99" y1="246.59" x2="206.99" y2="248.64" stroke="#000000" stroke-width="0.7"/>
<line x1="205.39" y1="246.59" x2="208.59" y2="246.59" stroke="#000000" stroke-width="0.7"/>
<line x1="205.39" y1="248.64" x2="208.59" y2="248.64" stroke="#000000" stroke-width="0.7"/>
<line x1="215.77" y1="242.5" x2="215.77" y2="249.66" stroke="#000000" stroke-width="0.7"/>
<line x1="214.17" y1="242.5" x2="217.37" y2="242.5" stroke="#000000" stroke-width="0.7"/>
<line x1="214.17" y1="249.66" x2="217.37" y2="249.66" stroke="#000000" stroke-width="0.7"/>
<line x1="224.55" y1="247" x2="224.55" y2="249.05" stroke="#000000" stroke-width="0.7"/>
<line x1="222.95" y1="247" x2="226.15" y2="247" stroke="#000000" stroke-width="0.7"/>
<line x1="222.95" y1="249.05" x2="226.15" y2="249.05" stroke="#000000" stroke-width="0.7"/>
<path d="M48.95,186.44 L57.73,189.92 L66.51,207.11 L75.29,203.01 L84.07,208.33 L92.85,217.85 L101.63,216.11 L110.41,227.16 L119.19,226.03 L127.97,221.43 L136.75,234.42 L145.53,234.83 L154.31,240.25 L163.09,238.1 L171.87,236.47 L180.65,240.25 L189.43,246.8 L198.21,248.23 L206.99,247.62 L215.77,246.08 L224.55,248.03" fill="none" stroke="#000000" stroke-width="0.9"/>
<circle cx="48.95" cy="186.44" r="1.95" fill="#000000"/>
<circle cx="57.73" cy="189.92" r="1.95" fill="#000000"/>
<circle cx="66.51" cy="207.11" r="1.95" fill="#000000"/>
<circle cx="75.29" cy="203.01" r="1.95" fill="#000000"/>
<rect x="82.12" y="206.38" width="3.9" height="3.9" fill="#000000"/>
<rect x="90.9" y="215.9" width="3.9" height="3.9" fill="#000000"/>
<rect x="99.68" y="214.16" width="3.9" height="3.9" fill="#000000"/>
<rect x="108.46" y="225.21" width="3.9" height="3.9" fill="#000000"/>
<circle cx="119.19" cy="226.03" r="1.95" fill="#000000"/>
<circle cx="127.97" cy="221.43" r="1.95" fill="#000000"/>
<circle cx="136.75" cy="234.42" r="1.95" fill="#000000"/>
<circle cx="145.53" cy="234.83" r="1.95" fill="#000000"/>
<circle cx="154.31" cy="240.25" r="1.95" fill="#000000"/>
<circle cx="163.09" cy="238.1" r="1.95" fill="#000000"/>
<circle cx="171.87" cy="236.47" r="1.95" fill="#000000"/>
<rect x="178.7" y="238.3" width="3.9" height="3.9" fill="#000000"/>
<circle cx="189.43" cy="246.8" r="1.95" fill="#000000"/>
<circle cx="198.21" cy="248.23" r="1.95" fill="#000000"/>
<rect x="205.04" y="245.67" width="3.9" height="3.9" fill="#000000"/>
<circle cx="215.77" cy="246.08" r="1.95" fill="#000000"/>
<circle cx="224.55" cy="248.03" r="1.95" fill="#000000"/>
<line x1="48.95" y1="199.1" x2="48.95" y2="206.1" stroke="#000000" stroke-width="0.7"/>
<path d="M48.95,200.2 L51.25,204.4 L46.65,204.4 Z" fill="#fff" stroke="#000" stroke-width="0.9"/>
<line x1="334.66" y1="177.54" x2="334.66" y2="183.68" stroke="#8e8e8e" stroke-width="0.7"/>
<line x1="333.06" y1="177.54" x2="336.26" y2="177.54" stroke="#8e8e8e" stroke-width="0.7"/>
<line x1="333.06" y1="183.68" x2="336.26" y2="183.68" stroke="#8e8e8e" stroke-width="0.7"/>
<line x1="343.43" y1="183.88" x2="343.43" y2="192.07" stroke="#8e8e8e" stroke-width="0.7"/>
<line x1="341.82" y1="183.88" x2="345.03" y2="183.88" stroke="#8e8e8e" stroke-width="0.7"/>
<line x1="341.82" y1="192.07" x2="345.03" y2="192.07" stroke="#8e8e8e" stroke-width="0.7"/>
<line x1="352.19" y1="197.39" x2="352.19" y2="205.57" stroke="#8e8e8e" stroke-width="0.7"/>
<line x1="350.59" y1="197.39" x2="353.79" y2="197.39" stroke="#8e8e8e" stroke-width="0.7"/>
<line x1="350.59" y1="205.57" x2="353.79" y2="205.57" stroke="#8e8e8e" stroke-width="0.7"/>
<line x1="360.96" y1="196.26" x2="360.96" y2="210.58" stroke="#8e8e8e" stroke-width="0.7"/>
<line x1="359.36" y1="196.26" x2="362.56" y2="196.26" stroke="#8e8e8e" stroke-width="0.7"/>
<line x1="359.36" y1="210.58" x2="362.56" y2="210.58" stroke="#8e8e8e" stroke-width="0.7"/>
<line x1="369.72" y1="207.72" x2="369.72" y2="215.9" stroke="#8e8e8e" stroke-width="0.7"/>
<line x1="368.12" y1="207.72" x2="371.32" y2="207.72" stroke="#8e8e8e" stroke-width="0.7"/>
<line x1="368.12" y1="215.9" x2="371.32" y2="215.9" stroke="#8e8e8e" stroke-width="0.7"/>
<line x1="378.49" y1="229.41" x2="378.49" y2="237.59" stroke="#8e8e8e" stroke-width="0.7"/>
<line x1="376.88" y1="229.41" x2="380.09" y2="229.41" stroke="#8e8e8e" stroke-width="0.7"/>
<line x1="376.88" y1="237.59" x2="380.09" y2="237.59" stroke="#8e8e8e" stroke-width="0.7"/>
<line x1="387.25" y1="226.75" x2="387.25" y2="234.93" stroke="#8e8e8e" stroke-width="0.7"/>
<line x1="385.65" y1="226.75" x2="388.85" y2="226.75" stroke="#8e8e8e" stroke-width="0.7"/>
<line x1="385.65" y1="234.93" x2="388.85" y2="234.93" stroke="#8e8e8e" stroke-width="0.7"/>
<line x1="396.02" y1="226.44" x2="396.02" y2="234.62" stroke="#8e8e8e" stroke-width="0.7"/>
<line x1="394.42" y1="226.44" x2="397.62" y2="226.44" stroke="#8e8e8e" stroke-width="0.7"/>
<line x1="394.42" y1="234.62" x2="397.62" y2="234.62" stroke="#8e8e8e" stroke-width="0.7"/>
<line x1="404.78" y1="226.13" x2="404.78" y2="234.32" stroke="#8e8e8e" stroke-width="0.7"/>
<line x1="403.18" y1="226.13" x2="406.38" y2="226.13" stroke="#8e8e8e" stroke-width="0.7"/>
<line x1="403.18" y1="234.32" x2="406.38" y2="234.32" stroke="#8e8e8e" stroke-width="0.7"/>
<line x1="413.55" y1="226.13" x2="413.55" y2="234.32" stroke="#8e8e8e" stroke-width="0.7"/>
<line x1="411.94" y1="226.13" x2="415.15" y2="226.13" stroke="#8e8e8e" stroke-width="0.7"/>
<line x1="411.94" y1="234.32" x2="415.15" y2="234.32" stroke="#8e8e8e" stroke-width="0.7"/>
<line x1="422.31" y1="230.12" x2="422.31" y2="236.26" stroke="#8e8e8e" stroke-width="0.7"/>
<line x1="420.71" y1="230.12" x2="423.91" y2="230.12" stroke="#8e8e8e" stroke-width="0.7"/>
<line x1="420.71" y1="236.26" x2="423.91" y2="236.26" stroke="#8e8e8e" stroke-width="0.7"/>
<line x1="431.08" y1="239.84" x2="431.08" y2="243.93" stroke="#8e8e8e" stroke-width="0.7"/>
<line x1="429.48" y1="239.84" x2="432.68" y2="239.84" stroke="#8e8e8e" stroke-width="0.7"/>
<line x1="429.48" y1="243.93" x2="432.68" y2="243.93" stroke="#8e8e8e" stroke-width="0.7"/>
<line x1="439.84" y1="241.17" x2="439.84" y2="245.26" stroke="#8e8e8e" stroke-width="0.7"/>
<line x1="438.24" y1="241.17" x2="441.44" y2="241.17" stroke="#8e8e8e" stroke-width="0.7"/>
<line x1="438.24" y1="245.26" x2="441.44" y2="245.26" stroke="#8e8e8e" stroke-width="0.7"/>
<line x1="448.61" y1="242.91" x2="448.61" y2="247" stroke="#8e8e8e" stroke-width="0.7"/>
<line x1="447" y1="242.91" x2="450.21" y2="242.91" stroke="#8e8e8e" stroke-width="0.7"/>
<line x1="447" y1="247" x2="450.21" y2="247" stroke="#8e8e8e" stroke-width="0.7"/>
<line x1="457.37" y1="245.06" x2="457.37" y2="248.13" stroke="#8e8e8e" stroke-width="0.7"/>
<line x1="455.77" y1="245.06" x2="458.97" y2="245.06" stroke="#8e8e8e" stroke-width="0.7"/>
<line x1="455.77" y1="248.13" x2="458.97" y2="248.13" stroke="#8e8e8e" stroke-width="0.7"/>
<line x1="466.14" y1="245.06" x2="466.14" y2="248.13" stroke="#8e8e8e" stroke-width="0.7"/>
<line x1="464.54" y1="245.06" x2="467.74" y2="245.06" stroke="#8e8e8e" stroke-width="0.7"/>
<line x1="464.54" y1="248.13" x2="467.74" y2="248.13" stroke="#8e8e8e" stroke-width="0.7"/>
<line x1="474.9" y1="247" x2="474.9" y2="249.05" stroke="#8e8e8e" stroke-width="0.7"/>
<line x1="473.3" y1="247" x2="476.5" y2="247" stroke="#8e8e8e" stroke-width="0.7"/>
<line x1="473.3" y1="249.05" x2="476.5" y2="249.05" stroke="#8e8e8e" stroke-width="0.7"/>
<path d="M334.66,180.61 L343.43,187.98 L352.19,201.48 L360.96,203.42 L369.72,211.81 L378.49,233.5 L387.25,230.84 L396.02,230.53 L404.78,230.23 L413.55,230.23 L422.31,233.19 L431.08,241.89 L439.84,243.22 L448.61,244.96 L457.37,246.59 L466.14,246.59 L474.9,248.03" fill="none" stroke="#8e8e8e" stroke-width="0.9"/>
<circle cx="334.66" cy="180.61" r="1.95" fill="#8e8e8e"/>
<circle cx="343.43" cy="187.98" r="1.95" fill="#8e8e8e"/>
<circle cx="352.19" cy="201.48" r="1.95" fill="#8e8e8e"/>
<circle cx="360.96" cy="203.42" r="1.95" fill="#8e8e8e"/>
<circle cx="369.72" cy="211.81" r="1.95" fill="#8e8e8e"/>
<circle cx="378.49" cy="233.5" r="1.95" fill="#8e8e8e"/>
<circle cx="387.25" cy="230.84" r="1.95" fill="#8e8e8e"/>
<circle cx="396.02" cy="230.53" r="1.95" fill="#8e8e8e"/>
<circle cx="404.78" cy="230.23" r="1.95" fill="#8e8e8e"/>
<circle cx="413.55" cy="230.23" r="1.95" fill="#8e8e8e"/>
<circle cx="422.31" cy="233.19" r="1.95" fill="#8e8e8e"/>
<circle cx="431.08" cy="241.89" r="1.95" fill="#8e8e8e"/>
<circle cx="439.84" cy="243.22" r="1.95" fill="#8e8e8e"/>
<circle cx="448.61" cy="244.96" r="1.95" fill="#8e8e8e"/>
<circle cx="457.37" cy="246.59" r="1.95" fill="#8e8e8e"/>
<circle cx="466.14" cy="246.59" r="1.95" fill="#8e8e8e"/>
<circle cx="474.9" cy="248.03" r="1.95" fill="#8e8e8e"/>
<line x1="369.72" y1="173.65" x2="369.72" y2="183.88" stroke="#585858" stroke-width="0.7"/>
<line x1="368.12" y1="173.65" x2="371.32" y2="173.65" stroke="#585858" stroke-width="0.7"/>
<line x1="368.12" y1="183.88" x2="371.32" y2="183.88" stroke="#585858" stroke-width="0.7"/>
<line x1="378.49" y1="196.57" x2="378.49" y2="210.89" stroke="#585858" stroke-width="0.7"/>
<line x1="376.88" y1="196.57" x2="380.09" y2="196.57" stroke="#585858" stroke-width="0.7"/>
<line x1="376.88" y1="210.89" x2="380.09" y2="210.89" stroke="#585858" stroke-width="0.7"/>
<line x1="387.25" y1="200.97" x2="387.25" y2="213.24" stroke="#585858" stroke-width="0.7"/>
<line x1="385.65" y1="200.97" x2="388.85" y2="200.97" stroke="#585858" stroke-width="0.7"/>
<line x1="385.65" y1="213.24" x2="388.85" y2="213.24" stroke="#585858" stroke-width="0.7"/>
<line x1="396.02" y1="203.01" x2="396.02" y2="215.29" stroke="#585858" stroke-width="0.7"/>
<line x1="394.42" y1="203.01" x2="397.62" y2="203.01" stroke="#585858" stroke-width="0.7"/>
<line x1="394.42" y1="215.29" x2="397.62" y2="215.29" stroke="#585858" stroke-width="0.7"/>
<line x1="404.78" y1="214.78" x2="404.78" y2="225.01" stroke="#585858" stroke-width="0.7"/>
<line x1="403.18" y1="214.78" x2="406.38" y2="214.78" stroke="#585858" stroke-width="0.7"/>
<line x1="403.18" y1="225.01" x2="406.38" y2="225.01" stroke="#585858" stroke-width="0.7"/>
<line x1="413.55" y1="217.23" x2="413.55" y2="227.46" stroke="#585858" stroke-width="0.7"/>
<line x1="411.94" y1="217.23" x2="415.15" y2="217.23" stroke="#585858" stroke-width="0.7"/>
<line x1="411.94" y1="227.46" x2="415.15" y2="227.46" stroke="#585858" stroke-width="0.7"/>
<line x1="422.31" y1="223.17" x2="422.31" y2="233.4" stroke="#585858" stroke-width="0.7"/>
<line x1="420.71" y1="223.17" x2="423.91" y2="223.17" stroke="#585858" stroke-width="0.7"/>
<line x1="420.71" y1="233.4" x2="423.91" y2="233.4" stroke="#585858" stroke-width="0.7"/>
<line x1="431.08" y1="227.05" x2="431.08" y2="233.19" stroke="#585858" stroke-width="0.7"/>
<line x1="429.48" y1="227.05" x2="432.68" y2="227.05" stroke="#585858" stroke-width="0.7"/>
<line x1="429.48" y1="233.19" x2="432.68" y2="233.19" stroke="#585858" stroke-width="0.7"/>
<line x1="439.84" y1="237.8" x2="439.84" y2="242.91" stroke="#585858" stroke-width="0.7"/>
<line x1="438.24" y1="237.8" x2="441.44" y2="237.8" stroke="#585858" stroke-width="0.7"/>
<line x1="438.24" y1="242.91" x2="441.44" y2="242.91" stroke="#585858" stroke-width="0.7"/>
<line x1="448.61" y1="241.17" x2="448.61" y2="245.26" stroke="#585858" stroke-width="0.7"/>
<line x1="447" y1="241.17" x2="450.21" y2="241.17" stroke="#585858" stroke-width="0.7"/>
<line x1="447" y1="245.26" x2="450.21" y2="245.26" stroke="#585858" stroke-width="0.7"/>
<line x1="457.37" y1="243.22" x2="457.37" y2="247.31" stroke="#585858" stroke-width="0.7"/>
<line x1="455.77" y1="243.22" x2="458.97" y2="243.22" stroke="#585858" stroke-width="0.7"/>
<line x1="455.77" y1="247.31" x2="458.97" y2="247.31" stroke="#585858" stroke-width="0.7"/>
<line x1="466.14" y1="243.63" x2="466.14" y2="247.72" stroke="#585858" stroke-width="0.7"/>
<line x1="464.54" y1="243.63" x2="467.74" y2="243.63" stroke="#585858" stroke-width="0.7"/>
<line x1="464.54" y1="247.72" x2="467.74" y2="247.72" stroke="#585858" stroke-width="0.7"/>
<line x1="474.9" y1="247" x2="474.9" y2="249.05" stroke="#585858" stroke-width="0.7"/>
<line x1="473.3" y1="247" x2="476.5" y2="247" stroke="#585858" stroke-width="0.7"/>
<line x1="473.3" y1="249.05" x2="476.5" y2="249.05" stroke="#585858" stroke-width="0.7"/>
<path d="M369.72,178.77 L378.49,203.73 L387.25,207.11 L396.02,209.15 L404.78,219.89 L413.55,222.35 L422.31,228.28 L431.08,230.12 L439.84,240.35 L448.61,243.22 L457.37,245.26 L466.14,245.67 L474.9,248.03" fill="none" stroke="#585858" stroke-width="0.9"/>
<circle cx="369.72" cy="178.77" r="1.95" fill="#585858"/>
<circle cx="378.49" cy="203.73" r="1.95" fill="#585858"/>
<circle cx="387.25" cy="207.11" r="1.95" fill="#585858"/>
<circle cx="396.02" cy="209.15" r="1.95" fill="#585858"/>
<circle cx="404.78" cy="219.89" r="1.95" fill="#585858"/>
<circle cx="413.55" cy="222.35" r="1.95" fill="#585858"/>
<circle cx="422.31" cy="228.28" r="1.95" fill="#585858"/>
<circle cx="431.08" cy="230.12" r="1.95" fill="#585858"/>
<circle cx="439.84" cy="240.35" r="1.95" fill="#585858"/>
<circle cx="448.61" cy="243.22" r="1.95" fill="#585858"/>
<circle cx="457.37" cy="245.26" r="1.95" fill="#585858"/>
<circle cx="466.14" cy="245.67" r="1.95" fill="#585858"/>
<circle cx="474.9" cy="248.03" r="1.95" fill="#585858"/>
<line x1="299.6" y1="177.03" x2="299.6" y2="196.47" stroke="#000000" stroke-width="0.7"/>
<line x1="298" y1="177.03" x2="301.2" y2="177.03" stroke="#000000" stroke-width="0.7"/>
<line x1="298" y1="196.47" x2="301.2" y2="196.47" stroke="#000000" stroke-width="0.7"/>
<line x1="308.37" y1="177.44" x2="308.37" y2="203.01" stroke="#000000" stroke-width="0.7"/>
<line x1="306.76" y1="177.44" x2="309.97" y2="177.44" stroke="#000000" stroke-width="0.7"/>
<line x1="306.76" y1="203.01" x2="309.97" y2="203.01" stroke="#000000" stroke-width="0.7"/>
<line x1="317.13" y1="199.02" x2="317.13" y2="215.39" stroke="#000000" stroke-width="0.7"/>
<line x1="315.53" y1="199.02" x2="318.73" y2="199.02" stroke="#000000" stroke-width="0.7"/>
<line x1="315.53" y1="215.39" x2="318.73" y2="215.39" stroke="#000000" stroke-width="0.7"/>
<line x1="325.9" y1="183.99" x2="325.9" y2="222.86" stroke="#000000" stroke-width="0.7"/>
<line x1="324.3" y1="183.99" x2="327.5" y2="183.99" stroke="#000000" stroke-width="0.7"/>
<line x1="324.3" y1="222.86" x2="327.5" y2="222.86" stroke="#000000" stroke-width="0.7"/>
<line x1="334.66" y1="201.99" x2="334.66" y2="214.27" stroke="#000000" stroke-width="0.7"/>
<line x1="333.06" y1="201.99" x2="336.26" y2="201.99" stroke="#000000" stroke-width="0.7"/>
<line x1="333.06" y1="214.27" x2="336.26" y2="214.27" stroke="#000000" stroke-width="0.7"/>
<line x1="343.43" y1="215.29" x2="343.43" y2="219.38" stroke="#000000" stroke-width="0.7"/>
<line x1="341.82" y1="215.29" x2="345.03" y2="215.29" stroke="#000000" stroke-width="0.7"/>
<line x1="341.82" y1="219.38" x2="345.03" y2="219.38" stroke="#000000" stroke-width="0.7"/>
<line x1="352.19" y1="213.86" x2="352.19" y2="217.95" stroke="#000000" stroke-width="0.7"/>
<line x1="350.59" y1="213.86" x2="353.79" y2="213.86" stroke="#000000" stroke-width="0.7"/>
<line x1="350.59" y1="217.95" x2="353.79" y2="217.95" stroke="#000000" stroke-width="0.7"/>
<line x1="360.96" y1="221.02" x2="360.96" y2="233.29" stroke="#000000" stroke-width="0.7"/>
<line x1="359.36" y1="221.02" x2="362.56" y2="221.02" stroke="#000000" stroke-width="0.7"/>
<line x1="359.36" y1="233.29" x2="362.56" y2="233.29" stroke="#000000" stroke-width="0.7"/>
<line x1="369.72" y1="222.25" x2="369.72" y2="230.43" stroke="#000000" stroke-width="0.7"/>
<line x1="368.12" y1="222.25" x2="371.32" y2="222.25" stroke="#000000" stroke-width="0.7"/>
<line x1="368.12" y1="230.43" x2="371.32" y2="230.43" stroke="#000000" stroke-width="0.7"/>
<line x1="378.49" y1="209.56" x2="378.49" y2="234.11" stroke="#000000" stroke-width="0.7"/>
<line x1="376.88" y1="209.56" x2="380.09" y2="209.56" stroke="#000000" stroke-width="0.7"/>
<line x1="376.88" y1="234.11" x2="380.09" y2="234.11" stroke="#000000" stroke-width="0.7"/>
<line x1="387.25" y1="231.86" x2="387.25" y2="238" stroke="#000000" stroke-width="0.7"/>
<line x1="385.65" y1="231.86" x2="388.85" y2="231.86" stroke="#000000" stroke-width="0.7"/>
<line x1="385.65" y1="238" x2="388.85" y2="238" stroke="#000000" stroke-width="0.7"/>
<line x1="396.02" y1="230.84" x2="396.02" y2="239.02" stroke="#000000" stroke-width="0.7"/>
<line x1="394.42" y1="230.84" x2="397.62" y2="230.84" stroke="#000000" stroke-width="0.7"/>
<line x1="394.42" y1="239.02" x2="397.62" y2="239.02" stroke="#000000" stroke-width="0.7"/>
<line x1="404.78" y1="235.85" x2="404.78" y2="244.04" stroke="#000000" stroke-width="0.7"/>
<line x1="403.18" y1="235.85" x2="406.38" y2="235.85" stroke="#000000" stroke-width="0.7"/>
<line x1="403.18" y1="244.04" x2="406.38" y2="244.04" stroke="#000000" stroke-width="0.7"/>
<line x1="413.55" y1="234.93" x2="413.55" y2="241.07" stroke="#000000" stroke-width="0.7"/>
<line x1="411.94" y1="234.93" x2="415.15" y2="234.93" stroke="#000000" stroke-width="0.7"/>
<line x1="411.94" y1="241.07" x2="415.15" y2="241.07" stroke="#000000" stroke-width="0.7"/>
<line x1="422.31" y1="233.81" x2="422.31" y2="238.92" stroke="#000000" stroke-width="0.7"/>
<line x1="420.71" y1="233.81" x2="423.91" y2="233.81" stroke="#000000" stroke-width="0.7"/>
<line x1="420.71" y1="238.92" x2="423.91" y2="238.92" stroke="#000000" stroke-width="0.7"/>
<line x1="431.08" y1="238.82" x2="431.08" y2="241.89" stroke="#000000" stroke-width="0.7"/>
<line x1="429.48" y1="238.82" x2="432.68" y2="238.82" stroke="#000000" stroke-width="0.7"/>
<line x1="429.48" y1="241.89" x2="432.68" y2="241.89" stroke="#000000" stroke-width="0.7"/>
<line x1="439.84" y1="246.49" x2="439.84" y2="248.54" stroke="#000000" stroke-width="0.7"/>
<line x1="438.24" y1="246.49" x2="441.44" y2="246.49" stroke="#000000" stroke-width="0.7"/>
<line x1="438.24" y1="248.54" x2="441.44" y2="248.54" stroke="#000000" stroke-width="0.7"/>
<line x1="448.61" y1="247.51" x2="448.61" y2="249.56" stroke="#000000" stroke-width="0.7"/>
<line x1="447" y1="247.51" x2="450.21" y2="247.51" stroke="#000000" stroke-width="0.7"/>
<line x1="447" y1="249.56" x2="450.21" y2="249.56" stroke="#000000" stroke-width="0.7"/>
<line x1="457.37" y1="246.08" x2="457.37" y2="248.13" stroke="#000000" stroke-width="0.7"/>
<line x1="455.77" y1="246.08" x2="458.97" y2="246.08" stroke="#000000" stroke-width="0.7"/>
<line x1="455.77" y1="248.13" x2="458.97" y2="248.13" stroke="#000000" stroke-width="0.7"/>
<line x1="466.14" y1="244.55" x2="466.14" y2="248.64" stroke="#000000" stroke-width="0.7"/>
<line x1="464.54" y1="244.55" x2="467.74" y2="244.55" stroke="#000000" stroke-width="0.7"/>
<line x1="464.54" y1="248.64" x2="467.74" y2="248.64" stroke="#000000" stroke-width="0.7"/>
<path d="M299.6,186.75 L308.37,190.23 L317.13,207.21 L325.9,203.42 L334.66,208.13 L343.43,217.34 L352.19,215.9 L360.96,227.16 L369.72,226.34 L378.49,221.84 L387.25,234.93 L396.02,234.93 L404.78,239.94 L413.55,238 L422.31,236.36 L431.08,240.35 L439.84,247.51 L448.61,248.54 L457.37,247.1 L466.14,246.59" fill="none" stroke="#000000" stroke-width="0.9"/>
<circle cx="299.6" cy="186.75" r="1.95" fill="#000000"/>
<circle cx="308.37" cy="190.23" r="1.95" fill="#000000"/>
<circle cx="317.13" cy="207.21" r="1.95" fill="#000000"/>
<circle cx="325.9" cy="203.42" r="1.95" fill="#000000"/>
<circle cx="334.66" cy="208.13" r="1.95" fill="#000000"/>
<circle cx="343.43" cy="217.34" r="1.95" fill="#000000"/>
<circle cx="352.19" cy="215.9" r="1.95" fill="#000000"/>
<circle cx="360.96" cy="227.16" r="1.95" fill="#000000"/>
<circle cx="369.72" cy="226.34" r="1.95" fill="#000000"/>
<circle cx="378.49" cy="221.84" r="1.95" fill="#000000"/>
<circle cx="387.25" cy="234.93" r="1.95" fill="#000000"/>
<circle cx="396.02" cy="234.93" r="1.95" fill="#000000"/>
<circle cx="404.78" cy="239.94" r="1.95" fill="#000000"/>
<circle cx="413.55" cy="238" r="1.95" fill="#000000"/>
<circle cx="422.31" cy="236.36" r="1.95" fill="#000000"/>
<circle cx="431.08" cy="240.35" r="1.95" fill="#000000"/>
<circle cx="439.84" cy="247.51" r="1.95" fill="#000000"/>
<circle cx="448.61" cy="248.54" r="1.95" fill="#000000"/>
<circle cx="457.37" cy="247.1" r="1.95" fill="#000000"/>
<circle cx="466.14" cy="246.59" r="1.95" fill="#000000"/>
<rect x="60.6" y="285.6" width="374.8" height="16.7" fill="#fff" stroke="#8a8a8a" stroke-width="0.7"/>
<path d="M66.5,291.9 L69.2,296.6 L63.8,296.6 Z" fill="#fff" stroke="#000" stroke-width="0.9"/>
<text x="73.7" y="297.7" font-size="8.4" textLength="92.4" lengthAdjust="spacingAndGlyphs" fill="#231f20" stroke="#231f20" stroke-width="0.22">Exploration mice (n = 15)</text>
<text x="175.4" y="297.7" font-size="8.4" textLength="65.1" lengthAdjust="spacingAndGlyphs" fill="#231f20" stroke="#231f20" stroke-width="0.22">Exploitation mice:</text>
<circle cx="245.9" cy="294.3" r="2.5" fill="#585858"/>
<text x="250.7" y="297.7" font-size="8.4" textLength="54.3" lengthAdjust="spacingAndGlyphs" fill="#231f20" stroke="#231f20" stroke-width="0.22">4 days (n = 7);</text>
<circle cx="312.6" cy="294.3" r="2.5" fill="#8e8e8e"/>
<text x="316.6" y="297.7" font-size="8.4" textLength="54.1" lengthAdjust="spacingAndGlyphs" fill="#231f20" stroke="#231f20" stroke-width="0.22">5 days (n = 5);</text>
<circle cx="375.3" cy="294.3" r="2.5" fill="#000"/>
<text x="379.9" y="297.7" font-size="8.4" textLength="52.6" lengthAdjust="spacingAndGlyphs" fill="#231f20" stroke="#231f20" stroke-width="0.22">6 days (n = 3)</text>
<text x="0.2" y="318.6" font-size="9.8" font-weight="bold" fill="#231f20" stroke="#231f20" stroke-width="0.22">d</text>
<text x="101.8" y="319.3" font-size="9.9" text-anchor="middle" textLength="28.9" lengthAdjust="spacingAndGlyphs" fill="#231f20" stroke="#231f20" stroke-width="0.22">Cortex</text>
<text x="207.6" y="318.8" font-size="9.9" text-anchor="middle" textLength="45.9" lengthAdjust="spacingAndGlyphs" fill="#231f20" stroke="#231f20" stroke-width="0.22">Striatum &amp;</text>
<text x="207.8" y="331.1" font-size="9.9" text-anchor="middle" textLength="31.7" lengthAdjust="spacingAndGlyphs" fill="#231f20" stroke="#231f20" stroke-width="0.22">DA nuc</text>
<text x="296.8" y="319.7" font-size="9.9" text-anchor="middle" textLength="60.9" lengthAdjust="spacingAndGlyphs" fill="#231f20" stroke="#231f20" stroke-width="0.22">Hippocampus</text>
<text x="415.2" y="319.7" font-size="9.9" text-anchor="middle" textLength="51.7" lengthAdjust="spacingAndGlyphs" fill="#231f20" stroke="#231f20" stroke-width="0.22">Cerebellum</text>
<line x1="166" y1="331.9" x2="166" y2="377" stroke="#4a4a4a" stroke-width="1.25" stroke-dasharray="1,1"/>
<line x1="166" y1="396.9" x2="166" y2="490" stroke="#4a4a4a" stroke-width="1.25" stroke-dasharray="1,1"/>
<line x1="166" y1="531.9" x2="166" y2="631" stroke="#4a4a4a" stroke-width="1.25" stroke-dasharray="1,1"/>
<line x1="247" y1="331.9" x2="247" y2="377" stroke="#4a4a4a" stroke-width="1.25" stroke-dasharray="1,1"/>
<line x1="247" y1="396.9" x2="247" y2="490" stroke="#4a4a4a" stroke-width="1.25" stroke-dasharray="1,1"/>
<line x1="247" y1="531.9" x2="247" y2="631" stroke="#4a4a4a" stroke-width="1.25" stroke-dasharray="1,1"/>
<line x1="342" y1="331.9" x2="342" y2="377" stroke="#4a4a4a" stroke-width="1.25" stroke-dasharray="1,1"/>
<line x1="342" y1="396.9" x2="342" y2="490" stroke="#4a4a4a" stroke-width="1.25" stroke-dasharray="1,1"/>
<line x1="342" y1="531.9" x2="342" y2="631" stroke="#4a4a4a" stroke-width="1.25" stroke-dasharray="1,1"/>
<rect x="35.3" y="354.4" width="4.8" height="23.1" fill="#33afc6"/>
<line x1="37.7" y1="354.4" x2="37.7" y2="352.1" stroke="#333" stroke-width="0.6"/>
<line x1="36.8" y1="352.1" x2="38.6" y2="352.1" stroke="#333" stroke-width="0.6"/>
<rect x="48.83" y="351.3" width="4.8" height="26.2" fill="#33afc6"/>
<line x1="51.23" y1="351.3" x2="51.23" y2="347.8" stroke="#333" stroke-width="0.6"/>
<line x1="50.33" y1="347.8" x2="52.13" y2="347.8" stroke="#333" stroke-width="0.6"/>
<rect x="62.35" y="351.8" width="4.8" height="25.7" fill="#33afc6"/>
<line x1="64.75" y1="351.8" x2="64.75" y2="348.7" stroke="#333" stroke-width="0.6"/>
<line x1="63.85" y1="348.7" x2="65.65" y2="348.7" stroke="#333" stroke-width="0.6"/>
<rect x="75.88" y="351.3" width="4.8" height="26.2" fill="#33afc6"/>
<line x1="78.28" y1="351.3" x2="78.28" y2="347.8" stroke="#333" stroke-width="0.6"/>
<line x1="77.38" y1="347.8" x2="79.18" y2="347.8" stroke="#333" stroke-width="0.6"/>
<rect x="89.41" y="353" width="4.8" height="24.5" fill="#33afc6"/>
<line x1="91.81" y1="353" x2="91.81" y2="349.3" stroke="#333" stroke-width="0.6"/>
<line x1="90.91" y1="349.3" x2="92.71" y2="349.3" stroke="#333" stroke-width="0.6"/>
<rect x="102.93" y="349.3" width="4.8" height="28.2" fill="#33afc6"/>
<line x1="105.33" y1="349.3" x2="105.33" y2="345" stroke="#333" stroke-width="0.6"/>
<line x1="104.43" y1="345" x2="106.23" y2="345" stroke="#333" stroke-width="0.6"/>
<rect x="116.46" y="354.1" width="4.8" height="23.4" fill="#33afc6"/>
<line x1="118.86" y1="354.1" x2="118.86" y2="350.7" stroke="#333" stroke-width="0.6"/>
<line x1="117.96" y1="350.7" x2="119.76" y2="350.7" stroke="#333" stroke-width="0.6"/>
<rect x="129.99" y="353.5" width="4.8" height="24" fill="#33afc6"/>
<line x1="132.39" y1="353.5" x2="132.39" y2="350.1" stroke="#333" stroke-width="0.6"/>
<line x1="131.49" y1="350.1" x2="133.29" y2="350.1" stroke="#333" stroke-width="0.6"/>
<rect x="143.52" y="349.3" width="4.8" height="28.2" fill="#33afc6"/>
<line x1="145.92" y1="349.3" x2="145.92" y2="344.4" stroke="#333" stroke-width="0.6"/>
<line x1="145.02" y1="344.4" x2="146.82" y2="344.4" stroke="#333" stroke-width="0.6"/>
<rect x="157.04" y="349.8" width="4.8" height="27.7" fill="#33afc6"/>
<line x1="159.44" y1="349.8" x2="159.44" y2="345.8" stroke="#333" stroke-width="0.6"/>
<line x1="158.54" y1="345.8" x2="160.34" y2="345.8" stroke="#333" stroke-width="0.6"/>
<rect x="170.57" y="352.1" width="4.8" height="25.4" fill="#33afc6"/>
<line x1="172.97" y1="352.1" x2="172.97" y2="348.7" stroke="#333" stroke-width="0.6"/>
<line x1="172.07" y1="348.7" x2="173.87" y2="348.7" stroke="#333" stroke-width="0.6"/>
<rect x="184.1" y="351.5" width="4.8" height="26" fill="#33afc6"/>
<line x1="186.5" y1="351.5" x2="186.5" y2="348.7" stroke="#333" stroke-width="0.6"/>
<line x1="185.6" y1="348.7" x2="187.4" y2="348.7" stroke="#333" stroke-width="0.6"/>
<rect x="197.62" y="348.7" width="4.8" height="28.8" fill="#33afc6"/>
<line x1="200.02" y1="348.7" x2="200.02" y2="345.8" stroke="#333" stroke-width="0.6"/>
<line x1="199.12" y1="345.8" x2="200.92" y2="345.8" stroke="#333" stroke-width="0.6"/>
<rect x="211.15" y="354.1" width="4.8" height="23.4" fill="#33afc6"/>
<line x1="213.55" y1="354.1" x2="213.55" y2="352.7" stroke="#333" stroke-width="0.6"/>
<line x1="212.65" y1="352.7" x2="214.45" y2="352.7" stroke="#333" stroke-width="0.6"/>
<rect x="224.68" y="357" width="4.8" height="20.5" fill="#33afc6"/>
<line x1="227.08" y1="357" x2="227.08" y2="355.5" stroke="#333" stroke-width="0.6"/>
<line x1="226.18" y1="355.5" x2="227.98" y2="355.5" stroke="#333" stroke-width="0.6"/>
<rect x="238.2" y="354.1" width="4.8" height="23.4" fill="#33afc6"/>
<line x1="240.6" y1="354.1" x2="240.6" y2="350.7" stroke="#333" stroke-width="0.6"/>
<line x1="239.7" y1="350.7" x2="241.5" y2="350.7" stroke="#333" stroke-width="0.6"/>
<rect x="251.73" y="352.1" width="4.8" height="25.4" fill="#33afc6"/>
<line x1="254.13" y1="352.1" x2="254.13" y2="347" stroke="#333" stroke-width="0.6"/>
<line x1="253.23" y1="347" x2="255.03" y2="347" stroke="#333" stroke-width="0.6"/>
<rect x="265.26" y="350.1" width="4.8" height="27.4" fill="#33afc6"/>
<line x1="267.66" y1="350.1" x2="267.66" y2="347" stroke="#333" stroke-width="0.6"/>
<line x1="266.76" y1="347" x2="268.56" y2="347" stroke="#333" stroke-width="0.6"/>
<rect x="278.79" y="352.1" width="4.8" height="25.4" fill="#33afc6"/>
<line x1="281.19" y1="352.1" x2="281.19" y2="347.8" stroke="#333" stroke-width="0.6"/>
<line x1="280.29" y1="347.8" x2="282.09" y2="347.8" stroke="#333" stroke-width="0.6"/>
<rect x="292.31" y="351.3" width="4.8" height="26.2" fill="#33afc6"/>
<line x1="294.71" y1="351.3" x2="294.71" y2="348.4" stroke="#333" stroke-width="0.6"/>
<line x1="293.81" y1="348.4" x2="295.61" y2="348.4" stroke="#333" stroke-width="0.6"/>
<rect x="305.84" y="362.1" width="4.8" height="15.4" fill="#33afc6"/>
<line x1="308.24" y1="362.1" x2="308.24" y2="358.4" stroke="#333" stroke-width="0.6"/>
<line x1="307.34" y1="358.4" x2="309.14" y2="358.4" stroke="#333" stroke-width="0.6"/>
<rect x="319.37" y="356.4" width="4.8" height="21.1" fill="#33afc6"/>
<line x1="321.77" y1="356.4" x2="321.77" y2="353.5" stroke="#333" stroke-width="0.6"/>
<line x1="320.87" y1="353.5" x2="322.67" y2="353.5" stroke="#333" stroke-width="0.6"/>
<rect x="332.89" y="354.1" width="4.8" height="23.4" fill="#33afc6"/>
<line x1="335.29" y1="354.1" x2="335.29" y2="351.5" stroke="#333" stroke-width="0.6"/>
<line x1="334.39" y1="351.5" x2="336.19" y2="351.5" stroke="#333" stroke-width="0.6"/>
<rect x="346.42" y="351.3" width="4.8" height="26.2" fill="#33afc6"/>
<line x1="348.82" y1="351.3" x2="348.82" y2="347.8" stroke="#333" stroke-width="0.6"/>
<line x1="347.92" y1="347.8" x2="349.72" y2="347.8" stroke="#333" stroke-width="0.6"/>
<rect x="359.95" y="350.7" width="4.8" height="26.8" fill="#33afc6"/>
<line x1="362.35" y1="350.7" x2="362.35" y2="347.8" stroke="#333" stroke-width="0.6"/>
<line x1="361.45" y1="347.8" x2="363.25" y2="347.8" stroke="#333" stroke-width="0.6"/>
<rect x="373.47" y="348.4" width="4.8" height="29.1" fill="#33afc6"/>
<line x1="375.87" y1="348.4" x2="375.87" y2="343" stroke="#333" stroke-width="0.6"/>
<line x1="374.97" y1="343" x2="376.77" y2="343" stroke="#333" stroke-width="0.6"/>
<rect x="387" y="350" width="4.8" height="27.5" fill="#33afc6"/>
<line x1="389.4" y1="350" x2="389.4" y2="346" stroke="#333" stroke-width="0.6"/>
<line x1="388.5" y1="346" x2="390.3" y2="346" stroke="#333" stroke-width="0.6"/>
<rect x="400.53" y="348" width="4.8" height="29.5" fill="#33afc6"/>
<line x1="402.93" y1="348" x2="402.93" y2="343.8" stroke="#333" stroke-width="0.6"/>
<line x1="402.03" y1="343.8" x2="403.83" y2="343.8" stroke="#333" stroke-width="0.6"/>
<rect x="414.06" y="347.3" width="4.8" height="30.2" fill="#33afc6"/>
<line x1="416.46" y1="347.3" x2="416.46" y2="343" stroke="#333" stroke-width="0.6"/>
<line x1="415.56" y1="343" x2="417.36" y2="343" stroke="#333" stroke-width="0.6"/>
<rect x="427.58" y="348.6" width="4.8" height="28.9" fill="#33afc6"/>
<line x1="429.98" y1="348.6" x2="429.98" y2="344.5" stroke="#333" stroke-width="0.6"/>
<line x1="429.08" y1="344.5" x2="430.88" y2="344.5" stroke="#333" stroke-width="0.6"/>
<rect x="441.11" y="354.7" width="4.8" height="22.8" fill="#33afc6"/>
<line x1="443.51" y1="354.7" x2="443.51" y2="352" stroke="#333" stroke-width="0.6"/>
<line x1="442.61" y1="352" x2="444.41" y2="352" stroke="#333" stroke-width="0.6"/>
<rect x="454.64" y="350.4" width="4.8" height="27.1" fill="#33afc6"/>
<line x1="457.04" y1="350.4" x2="457.04" y2="346.8" stroke="#333" stroke-width="0.6"/>
<line x1="456.14" y1="346.8" x2="457.94" y2="346.8" stroke="#333" stroke-width="0.6"/>
<rect x="468.16" y="357.6" width="4.8" height="19.9" fill="#33afc6"/>
<line x1="470.56" y1="357.6" x2="470.56" y2="354.2" stroke="#333" stroke-width="0.6"/>
<line x1="469.66" y1="354.2" x2="471.46" y2="354.2" stroke="#333" stroke-width="0.6"/>
<rect x="481.69" y="357.6" width="4.8" height="19.9" fill="#33afc6"/>
<line x1="484.09" y1="357.6" x2="484.09" y2="353.5" stroke="#333" stroke-width="0.6"/>
<line x1="483.19" y1="353.5" x2="484.99" y2="353.5" stroke="#333" stroke-width="0.6"/>
<line x1="30.5" y1="354.4" x2="489" y2="354.4" stroke="#111" stroke-width="0.75" stroke-dasharray="1.6,1.1"/>
<line x1="30.5" y1="331" x2="30.5" y2="378" stroke="#231f20" stroke-width="1"/>
<line x1="30.5" y1="377.5" x2="491" y2="377.5" stroke="#231f20" stroke-width="1"/>
<line x1="28.1" y1="377.5" x2="30.5" y2="377.5" stroke="#231f20" stroke-width="0.8"/>
<text x="26.9" y="380.5" font-size="8.4" text-anchor="end" textLength="4.2" lengthAdjust="spacingAndGlyphs" fill="#231f20" stroke="#231f20" stroke-width="0.22">0</text>
<line x1="28.1" y1="354.4" x2="30.5" y2="354.4" stroke="#231f20" stroke-width="0.8"/>
<text x="26.9" y="357.4" font-size="8.4" text-anchor="end" textLength="4.2" lengthAdjust="spacingAndGlyphs" fill="#231f20" stroke="#231f20" stroke-width="0.22">1</text>
<line x1="28.1" y1="331.3" x2="30.5" y2="331.3" stroke="#231f20" stroke-width="0.8"/>
<text x="26.9" y="334.3" font-size="8.4" text-anchor="end" textLength="4.2" lengthAdjust="spacingAndGlyphs" fill="#231f20" stroke="#231f20" stroke-width="0.22">2</text>
<line x1="30.9" y1="377.5" x2="30.9" y2="379.3" stroke="#231f20" stroke-width="0.7"/>
<line x1="44.4" y1="377.5" x2="44.4" y2="379.3" stroke="#231f20" stroke-width="0.7"/>
<line x1="57.9" y1="377.5" x2="57.9" y2="379.3" stroke="#231f20" stroke-width="0.7"/>
<line x1="71.4" y1="377.5" x2="71.4" y2="379.3" stroke="#231f20" stroke-width="0.7"/>
<line x1="84.9" y1="377.5" x2="84.9" y2="379.3" stroke="#231f20" stroke-width="0.7"/>
<line x1="98.4" y1="377.5" x2="98.4" y2="379.3" stroke="#231f20" stroke-width="0.7"/>
<line x1="111.9" y1="377.5" x2="111.9" y2="379.3" stroke="#231f20" stroke-width="0.7"/>
<line x1="125.4" y1="377.5" x2="125.4" y2="379.3" stroke="#231f20" stroke-width="0.7"/>
<line x1="138.9" y1="377.5" x2="138.9" y2="379.3" stroke="#231f20" stroke-width="0.7"/>
<line x1="152.4" y1="377.5" x2="152.4" y2="379.3" stroke="#231f20" stroke-width="0.7"/>
<line x1="165.9" y1="377.5" x2="165.9" y2="379.3" stroke="#231f20" stroke-width="0.7"/>
<line x1="179.4" y1="377.5" x2="179.4" y2="379.3" stroke="#231f20" stroke-width="0.7"/>
<line x1="192.9" y1="377.5" x2="192.9" y2="379.3" stroke="#231f20" stroke-width="0.7"/>
<line x1="206.4" y1="377.5" x2="206.4" y2="379.3" stroke="#231f20" stroke-width="0.7"/>
<line x1="219.9" y1="377.5" x2="219.9" y2="379.3" stroke="#231f20" stroke-width="0.7"/>
<line x1="233.4" y1="377.5" x2="233.4" y2="379.3" stroke="#231f20" stroke-width="0.7"/>
<line x1="246.9" y1="377.5" x2="246.9" y2="379.3" stroke="#231f20" stroke-width="0.7"/>
<line x1="260.4" y1="377.5" x2="260.4" y2="379.3" stroke="#231f20" stroke-width="0.7"/>
<line x1="273.9" y1="377.5" x2="273.9" y2="379.3" stroke="#231f20" stroke-width="0.7"/>
<line x1="287.4" y1="377.5" x2="287.4" y2="379.3" stroke="#231f20" stroke-width="0.7"/>
<line x1="300.9" y1="377.5" x2="300.9" y2="379.3" stroke="#231f20" stroke-width="0.7"/>
<line x1="314.4" y1="377.5" x2="314.4" y2="379.3" stroke="#231f20" stroke-width="0.7"/>
<line x1="327.9" y1="377.5" x2="327.9" y2="379.3" stroke="#231f20" stroke-width="0.7"/>
<line x1="341.4" y1="377.5" x2="341.4" y2="379.3" stroke="#231f20" stroke-width="0.7"/>
<line x1="354.9" y1="377.5" x2="354.9" y2="379.3" stroke="#231f20" stroke-width="0.7"/>
<line x1="368.4" y1="377.5" x2="368.4" y2="379.3" stroke="#231f20" stroke-width="0.7"/>
<line x1="381.9" y1="377.5" x2="381.9" y2="379.3" stroke="#231f20" stroke-width="0.7"/>
<line x1="395.4" y1="377.5" x2="395.4" y2="379.3" stroke="#231f20" stroke-width="0.7"/>
<line x1="408.9" y1="377.5" x2="408.9" y2="379.3" stroke="#231f20" stroke-width="0.7"/>
<line x1="422.4" y1="377.5" x2="422.4" y2="379.3" stroke="#231f20" stroke-width="0.7"/>
<line x1="435.9" y1="377.5" x2="435.9" y2="379.3" stroke="#231f20" stroke-width="0.7"/>
<line x1="449.4" y1="377.5" x2="449.4" y2="379.3" stroke="#231f20" stroke-width="0.7"/>
<line x1="462.9" y1="377.5" x2="462.9" y2="379.3" stroke="#231f20" stroke-width="0.7"/>
<line x1="476.4" y1="377.5" x2="476.4" y2="379.3" stroke="#231f20" stroke-width="0.7"/>
<line x1="489.9" y1="377.5" x2="489.9" y2="379.3" stroke="#231f20" stroke-width="0.7"/>
<text x="44" y="382.9" font-size="9.4" text-anchor="end" textLength="14.68" lengthAdjust="spacingAndGlyphs" fill="#231f20" transform="rotate(-45 44 382.9)" stroke="#231f20" stroke-width="0.22">Au1</text>
<text x="57.48" y="382.9" font-size="9.4" text-anchor="end" textLength="12.84" lengthAdjust="spacingAndGlyphs" fill="#231f20" transform="rotate(-45 57.48 382.9)" stroke="#231f20" stroke-width="0.22">PrL</text>
<text x="70.96" y="382.9" font-size="9.4" text-anchor="end" textLength="6.88" lengthAdjust="spacingAndGlyphs" fill="#231f20" transform="rotate(-45 70.96 382.9)" stroke="#231f20" stroke-width="0.22">IL</text>
<text x="84.44" y="382.9" font-size="9.4" text-anchor="end" textLength="15.13" lengthAdjust="spacingAndGlyphs" fill="#231f20" transform="rotate(-45 84.44 382.9)" stroke="#231f20" stroke-width="0.22">Cg1</text>
<text x="97.92" y="382.9" font-size="9.4" text-anchor="end" textLength="15.13" lengthAdjust="spacingAndGlyphs" fill="#231f20" transform="rotate(-45 97.92 382.9)" stroke="#231f20" stroke-width="0.22">Cg2</text>
<text x="111.4" y="382.9" font-size="9.4" text-anchor="end" textLength="17.42" lengthAdjust="spacingAndGlyphs" fill="#231f20" transform="rotate(-45 111.4 382.9)" stroke="#231f20" stroke-width="0.22">RSD</text>
<text x="124.88" y="382.9" font-size="9.4" text-anchor="end" textLength="17.88" lengthAdjust="spacingAndGlyphs" fill="#231f20" transform="rotate(-45 124.88 382.9)" stroke="#231f20" stroke-width="0.22">RSG</text>
<text x="138.36" y="382.9" font-size="9.4" text-anchor="end" textLength="12.84" lengthAdjust="spacingAndGlyphs" fill="#231f20" transform="rotate(-45 138.36 382.9)" stroke="#231f20" stroke-width="0.22">Par</text>
<text x="151.84" y="382.9" font-size="9.4" text-anchor="end" textLength="29.35" lengthAdjust="spacingAndGlyphs" fill="#231f20" transform="rotate(-45 151.84 382.9)" stroke="#231f20" stroke-width="0.22">PostPar</text>
<text x="165.32" y="382.9" font-size="9.4" text-anchor="end" textLength="18.33" lengthAdjust="spacingAndGlyphs" fill="#231f20" transform="rotate(-45 165.32 382.9)" stroke="#231f20" stroke-width="0.22">MEC</text>
<text x="178.8" y="382.9" font-size="9.4" text-anchor="end" textLength="18.33" lengthAdjust="spacingAndGlyphs" fill="#231f20" transform="rotate(-45 178.8 382.9)" stroke="#231f20" stroke-width="0.22">DMS</text>
<text x="192.28" y="382.9" font-size="9.4" text-anchor="end" textLength="16.05" lengthAdjust="spacingAndGlyphs" fill="#231f20" transform="rotate(-45 192.28 382.9)" stroke="#231f20" stroke-width="0.22">DLS</text>
<text x="205.76" y="382.9" font-size="9.4" text-anchor="end" textLength="20.17" lengthAdjust="spacingAndGlyphs" fill="#231f20" transform="rotate(-45 205.76 382.9)" stroke="#231f20" stroke-width="0.22">AcbC</text>
<text x="219.24" y="382.9" font-size="9.4" text-anchor="end" textLength="19.72" lengthAdjust="spacingAndGlyphs" fill="#231f20" transform="rotate(-45 219.24 382.9)" stroke="#231f20" stroke-width="0.22">AcbS</text>
<text x="232.72" y="382.9" font-size="9.4" text-anchor="end" textLength="15.43" lengthAdjust="spacingAndGlyphs" fill="#231f20" transform="rotate(-45 232.72 382.9)" stroke="#231f20" stroke-width="0.22">VTA</text>
<text x="246.2" y="382.9" font-size="9.4" text-anchor="end" textLength="15.59" lengthAdjust="spacingAndGlyphs" fill="#231f20" transform="rotate(-45 246.2 382.9)" stroke="#231f20" stroke-width="0.22">SNc</text>
<text x="259.68" y="382.9" font-size="9.4" text-anchor="end" textLength="20.64" lengthAdjust="spacingAndGlyphs" fill="#231f20" transform="rotate(-45 259.68 382.9)" stroke="#231f20" stroke-width="0.22">dCA1</text>
<text x="273.16" y="382.9" font-size="9.4" text-anchor="end" textLength="20.64" lengthAdjust="spacingAndGlyphs" fill="#231f20" transform="rotate(-45 273.16 382.9)" stroke="#231f20" stroke-width="0.22">dCA3</text>
<text x="286.64" y="382.9" font-size="9.4" text-anchor="end" textLength="20.17" lengthAdjust="spacingAndGlyphs" fill="#231f20" transform="rotate(-45 286.64 382.9)" stroke="#231f20" stroke-width="0.22">vCA1</text>
<text x="300.12" y="382.9" font-size="9.4" text-anchor="end" textLength="20.17" lengthAdjust="spacingAndGlyphs" fill="#231f20" transform="rotate(-45 300.12 382.9)" stroke="#231f20" stroke-width="0.22">vCA3</text>
<text x="313.6" y="382.9" font-size="9.4" text-anchor="end" textLength="20.64" lengthAdjust="spacingAndGlyphs" fill="#231f20" transform="rotate(-45 313.6 382.9)" stroke="#231f20" stroke-width="0.22">dCA2</text>
<text x="327.08" y="382.9" font-size="9.4" text-anchor="end" textLength="16.96" lengthAdjust="spacingAndGlyphs" fill="#231f20" transform="rotate(-45 327.08 382.9)" stroke="#231f20" stroke-width="0.22">dDG</text>
<text x="340.56" y="382.9" font-size="9.4" text-anchor="end" textLength="16.5" lengthAdjust="spacingAndGlyphs" fill="#231f20" transform="rotate(-45 340.56 382.9)" stroke="#231f20" stroke-width="0.22">vDG</text>
<text x="354.04" y="382.9" font-size="9.4" text-anchor="end" textLength="31.65" lengthAdjust="spacingAndGlyphs" fill="#231f20" transform="rotate(-45 354.04 382.9)" stroke="#231f20" stroke-width="0.22">Lob IV/V</text>
<text x="367.52" y="382.9" font-size="9.4" text-anchor="end" textLength="23.85" lengthAdjust="spacingAndGlyphs" fill="#231f20" transform="rotate(-45 367.52 382.9)" stroke="#231f20" stroke-width="0.22">Lob VI</text>
<text x="381" y="382.9" font-size="9.4" text-anchor="end" textLength="29.34" lengthAdjust="spacingAndGlyphs" fill="#231f20" transform="rotate(-45 381 382.9)" stroke="#231f20" stroke-width="0.22">Simplex</text>
<text x="394.48" y="382.9" font-size="9.4" text-anchor="end" textLength="22" lengthAdjust="spacingAndGlyphs" fill="#231f20" transform="rotate(-45 394.48 382.9)" stroke="#231f20" stroke-width="0.22">Crus I</text>
<text x="407.96" y="382.9" font-size="9.4" text-anchor="end" textLength="26.14" lengthAdjust="spacingAndGlyphs" fill="#231f20" transform="rotate(-45 407.96 382.9)" stroke="#231f20" stroke-width="0.22">Lob VII</text>
<text x="421.44" y="382.9" font-size="9.4" text-anchor="end" textLength="24.29" lengthAdjust="spacingAndGlyphs" fill="#231f20" transform="rotate(-45 421.44 382.9)" stroke="#231f20" stroke-width="0.22">Crus II</text>
<text x="434.92" y="382.9" font-size="9.4" text-anchor="end" textLength="23.85" lengthAdjust="spacingAndGlyphs" fill="#231f20" transform="rotate(-45 434.92 382.9)" stroke="#231f20" stroke-width="0.22">Lob IX</text>
<text x="448.4" y="382.9" font-size="9.4" text-anchor="end" textLength="21.56" lengthAdjust="spacingAndGlyphs" fill="#231f20" transform="rotate(-45 448.4 382.9)" stroke="#231f20" stroke-width="0.22">Lob X</text>
<text x="461.88" y="382.9" font-size="9.4" text-anchor="end" textLength="25.68" lengthAdjust="spacingAndGlyphs" fill="#231f20" transform="rotate(-45 461.88 382.9)" stroke="#231f20" stroke-width="0.22">Dent N</text>
<text x="475.36" y="382.9" font-size="9.4" text-anchor="end" textLength="24.29" lengthAdjust="spacingAndGlyphs" fill="#231f20" transform="rotate(-45 475.36 382.9)" stroke="#231f20" stroke-width="0.22">Fast N</text>
<text x="488.84" y="382.9" font-size="9.4" text-anchor="end" textLength="22.78" lengthAdjust="spacingAndGlyphs" fill="#231f20" transform="rotate(-45 488.84 382.9)" stroke="#231f20" stroke-width="0.22">IntP N</text>
<rect x="35.3" y="468.74" width="4.8" height="21.76" fill="#e2353b"/>
<line x1="37.7" y1="468.74" x2="37.7" y2="466.89" stroke="#333" stroke-width="0.6"/>
<line x1="36.8" y1="466.89" x2="38.6" y2="466.89" stroke="#333" stroke-width="0.6"/>
<rect x="48.83" y="459.71" width="4.8" height="30.79" fill="#e2353b"/>
<line x1="51.23" y1="459.71" x2="51.23" y2="456.01" stroke="#333" stroke-width="0.6"/>
<line x1="50.33" y1="456.01" x2="52.13" y2="456.01" stroke="#333" stroke-width="0.6"/>
<path d="M51.23,451.4 L51.23,449.85 M51.23,451.4 L49.75,450.92 M51.23,451.4 L50.32,452.65 M51.23,451.4 L52.14,452.65 M51.23,451.4 L52.7,450.92 " stroke="#231f20" stroke-width="0.9" stroke-linecap="round" fill="none"/>
<rect x="62.35" y="460.17" width="4.8" height="30.33" fill="#e2353b"/>
<line x1="64.75" y1="460.17" x2="64.75" y2="457.4" stroke="#333" stroke-width="0.6"/>
<line x1="63.85" y1="457.4" x2="65.65" y2="457.4" stroke="#333" stroke-width="0.6"/>
<path d="M64.75,451.4 L64.75,449.85 M64.75,451.4 L63.28,450.92 M64.75,451.4 L63.84,452.65 M64.75,451.4 L65.67,452.65 M64.75,451.4 L66.23,450.92 " stroke="#231f20" stroke-width="0.9" stroke-linecap="round" fill="none"/>
<rect x="75.88" y="460.17" width="4.8" height="30.33" fill="#e2353b"/>
<line x1="78.28" y1="460.17" x2="78.28" y2="456.47" stroke="#333" stroke-width="0.6"/>
<line x1="77.38" y1="456.47" x2="79.18" y2="456.47" stroke="#333" stroke-width="0.6"/>
<rect x="89.41" y="454.39" width="4.8" height="36.11" fill="#e2353b"/>
<line x1="91.81" y1="454.39" x2="91.81" y2="451.15" stroke="#333" stroke-width="0.6"/>
<line x1="90.91" y1="451.15" x2="92.71" y2="451.15" stroke="#333" stroke-width="0.6"/>
<path d="M91.81,444.2 L91.81,442.65 M91.81,444.2 L90.33,443.72 M91.81,444.2 L90.9,445.45 M91.81,444.2 L92.72,445.45 M91.81,444.2 L93.28,443.72 " stroke="#231f20" stroke-width="0.9" stroke-linecap="round" fill="none"/>
<rect x="102.93" y="459.25" width="4.8" height="31.25" fill="#e2353b"/>
<line x1="105.33" y1="459.25" x2="105.33" y2="456.01" stroke="#333" stroke-width="0.6"/>
<line x1="104.43" y1="456.01" x2="106.23" y2="456.01" stroke="#333" stroke-width="0.6"/>
<path d="M105.33,444.2 L105.33,442.65 M105.33,444.2 L103.86,443.72 M105.33,444.2 L104.42,445.45 M105.33,444.2 L106.25,445.45 M105.33,444.2 L106.81,443.72 " stroke="#231f20" stroke-width="0.9" stroke-linecap="round" fill="none"/>
<rect x="116.46" y="453" width="4.8" height="37.5" fill="#e2353b"/>
<line x1="118.86" y1="453" x2="118.86" y2="448.83" stroke="#333" stroke-width="0.6"/>
<line x1="117.96" y1="448.83" x2="119.76" y2="448.83" stroke="#333" stroke-width="0.6"/>
<path d="M118.86,444.2 L118.86,442.65 M118.86,444.2 L117.39,443.72 M118.86,444.2 L117.95,445.45 M118.86,444.2 L119.77,445.45 M118.86,444.2 L120.34,443.72 " stroke="#231f20" stroke-width="0.9" stroke-linecap="round" fill="none"/>
<rect x="129.99" y="454.39" width="4.8" height="36.11" fill="#e2353b"/>
<line x1="132.39" y1="454.39" x2="132.39" y2="451.15" stroke="#333" stroke-width="0.6"/>
<line x1="131.49" y1="451.15" x2="133.29" y2="451.15" stroke="#333" stroke-width="0.6"/>
<path d="M132.39,444.2 L132.39,442.65 M132.39,444.2 L130.91,443.72 M132.39,444.2 L131.48,445.45 M132.39,444.2 L133.3,445.45 M132.39,444.2 L133.86,443.72 " stroke="#231f20" stroke-width="0.9" stroke-linecap="round" fill="none"/>
<rect x="143.52" y="451.61" width="4.8" height="38.89" fill="#e2353b"/>
<line x1="145.92" y1="451.61" x2="145.92" y2="448.83" stroke="#333" stroke-width="0.6"/>
<line x1="145.02" y1="448.83" x2="146.82" y2="448.83" stroke="#333" stroke-width="0.6"/>
<path d="M145.92,444.2 L145.92,442.65 M145.92,444.2 L144.44,443.72 M145.92,444.2 L145,445.45 M145.92,444.2 L146.83,445.45 M145.92,444.2 L147.39,443.72 " stroke="#231f20" stroke-width="0.9" stroke-linecap="round" fill="none"/>
<rect x="157.04" y="459.02" width="4.8" height="31.48" fill="#e2353b"/>
<line x1="159.44" y1="459.02" x2="159.44" y2="454.39" stroke="#333" stroke-width="0.6"/>
<line x1="158.54" y1="454.39" x2="160.34" y2="454.39" stroke="#333" stroke-width="0.6"/>
<rect x="170.57" y="456.47" width="4.8" height="34.03" fill="#e2353b"/>
<line x1="172.97" y1="456.47" x2="172.97" y2="453.69" stroke="#333" stroke-width="0.6"/>
<line x1="172.07" y1="453.69" x2="173.87" y2="453.69" stroke="#333" stroke-width="0.6"/>
<path d="M172.97,447.9 L172.97,446.35 M172.97,447.9 L171.5,447.42 M172.97,447.9 L172.06,449.15 M172.97,447.9 L173.88,449.15 M172.97,447.9 L174.44,447.42 " stroke="#231f20" stroke-width="0.9" stroke-linecap="round" fill="none"/>
<rect x="184.1" y="464.34" width="4.8" height="26.16" fill="#e2353b"/>
<line x1="186.5" y1="464.34" x2="186.5" y2="462.95" stroke="#333" stroke-width="0.6"/>
<line x1="185.6" y1="462.95" x2="187.4" y2="462.95" stroke="#333" stroke-width="0.6"/>
<rect x="197.62" y="465.27" width="4.8" height="25.23" fill="#e2353b"/>
<line x1="200.02" y1="465.27" x2="200.02" y2="463.88" stroke="#333" stroke-width="0.6"/>
<line x1="199.12" y1="463.88" x2="200.92" y2="463.88" stroke="#333" stroke-width="0.6"/>
<rect x="211.15" y="463.41" width="4.8" height="27.09" fill="#e2353b"/>
<line x1="213.55" y1="463.41" x2="213.55" y2="462.03" stroke="#333" stroke-width="0.6"/>
<line x1="212.65" y1="462.03" x2="214.45" y2="462.03" stroke="#333" stroke-width="0.6"/>
<rect x="224.68" y="468.51" width="4.8" height="21.99" fill="#e2353b"/>
<line x1="227.08" y1="468.51" x2="227.08" y2="467.58" stroke="#333" stroke-width="0.6"/>
<line x1="226.18" y1="467.58" x2="227.98" y2="467.58" stroke="#333" stroke-width="0.6"/>
<rect x="238.2" y="468.04" width="4.8" height="22.46" fill="#e2353b"/>
<line x1="240.6" y1="468.04" x2="240.6" y2="467.12" stroke="#333" stroke-width="0.6"/>
<line x1="239.7" y1="467.12" x2="241.5" y2="467.12" stroke="#333" stroke-width="0.6"/>
<rect x="251.73" y="452.07" width="4.8" height="38.43" fill="#e2353b"/>
<line x1="254.13" y1="452.07" x2="254.13" y2="446.52" stroke="#333" stroke-width="0.6"/>
<line x1="253.23" y1="446.52" x2="255.03" y2="446.52" stroke="#333" stroke-width="0.6"/>
<path d="M254.13,440.5 L254.13,438.95 M254.13,440.5 L252.66,440.02 M254.13,440.5 L253.22,441.75 M254.13,440.5 L255.04,441.75 M254.13,440.5 L255.61,440.02 " stroke="#231f20" stroke-width="0.9" stroke-linecap="round" fill="none"/>
<rect x="265.26" y="451.61" width="4.8" height="38.89" fill="#e2353b"/>
<line x1="267.66" y1="451.61" x2="267.66" y2="446.98" stroke="#333" stroke-width="0.6"/>
<line x1="266.76" y1="446.98" x2="268.56" y2="446.98" stroke="#333" stroke-width="0.6"/>
<path d="M267.66,440.5 L267.66,438.95 M267.66,440.5 L266.18,440.02 M267.66,440.5 L266.75,441.75 M267.66,440.5 L268.57,441.75 M267.66,440.5 L269.13,440.02 " stroke="#231f20" stroke-width="0.9" stroke-linecap="round" fill="none"/>
<rect x="278.79" y="458.78" width="4.8" height="31.72" fill="#e2353b"/>
<line x1="281.19" y1="458.78" x2="281.19" y2="454.62" stroke="#333" stroke-width="0.6"/>
<line x1="280.29" y1="454.62" x2="282.09" y2="454.62" stroke="#333" stroke-width="0.6"/>
<rect x="292.31" y="438.64" width="4.8" height="51.86" fill="#e2353b"/>
<line x1="294.71" y1="438.64" x2="294.71" y2="429.62" stroke="#333" stroke-width="0.6"/>
<line x1="293.81" y1="429.62" x2="295.61" y2="429.62" stroke="#333" stroke-width="0.6"/>
<path d="M294.71,424.2 L294.71,422.65 M294.71,424.2 L293.24,423.72 M294.71,424.2 L293.8,425.45 M294.71,424.2 L295.62,425.45 M294.71,424.2 L296.19,423.72 " stroke="#231f20" stroke-width="0.9" stroke-linecap="round" fill="none"/>
<rect x="305.84" y="440.96" width="4.8" height="49.54" fill="#e2353b"/>
<line x1="308.24" y1="440.96" x2="308.24" y2="424.06" stroke="#333" stroke-width="0.6"/>
<line x1="307.34" y1="424.06" x2="309.14" y2="424.06" stroke="#333" stroke-width="0.6"/>
<rect x="319.37" y="465.04" width="4.8" height="25.46" fill="#e2353b"/>
<line x1="321.77" y1="465.04" x2="321.77" y2="463.65" stroke="#333" stroke-width="0.6"/>
<line x1="320.87" y1="463.65" x2="322.67" y2="463.65" stroke="#333" stroke-width="0.6"/>
<rect x="332.89" y="465.96" width="4.8" height="24.54" fill="#e2353b"/>
<line x1="335.29" y1="465.96" x2="335.29" y2="464.57" stroke="#333" stroke-width="0.6"/>
<line x1="334.39" y1="464.57" x2="336.19" y2="464.57" stroke="#333" stroke-width="0.6"/>
<rect x="346.42" y="457.4" width="4.8" height="33.1" fill="#e2353b"/>
<line x1="348.82" y1="457.4" x2="348.82" y2="452.3" stroke="#333" stroke-width="0.6"/>
<line x1="347.92" y1="452.3" x2="349.72" y2="452.3" stroke="#333" stroke-width="0.6"/>
<rect x="359.95" y="452.3" width="4.8" height="38.2" fill="#e2353b"/>
<line x1="362.35" y1="452.3" x2="362.35" y2="449.52" stroke="#333" stroke-width="0.6"/>
<line x1="361.45" y1="449.52" x2="363.25" y2="449.52" stroke="#333" stroke-width="0.6"/>
<path d="M362.35,442 L362.35,440.45 M362.35,442 L360.87,441.52 M362.35,442 L361.44,443.25 M362.35,442 L363.26,443.25 M362.35,442 L363.82,441.52 " stroke="#231f20" stroke-width="0.9" stroke-linecap="round" fill="none"/>
<rect x="373.47" y="463.65" width="4.8" height="26.85" fill="#e2353b"/>
<line x1="375.87" y1="463.65" x2="375.87" y2="461.33" stroke="#333" stroke-width="0.6"/>
<line x1="374.97" y1="461.33" x2="376.77" y2="461.33" stroke="#333" stroke-width="0.6"/>
<rect x="387" y="449.52" width="4.8" height="40.98" fill="#e2353b"/>
<line x1="389.4" y1="449.52" x2="389.4" y2="440.5" stroke="#333" stroke-width="0.6"/>
<line x1="388.5" y1="440.5" x2="390.3" y2="440.5" stroke="#333" stroke-width="0.6"/>
<rect x="400.53" y="448.14" width="4.8" height="42.36" fill="#e2353b"/>
<line x1="402.93" y1="448.14" x2="402.93" y2="441.42" stroke="#333" stroke-width="0.6"/>
<line x1="402.03" y1="441.42" x2="403.83" y2="441.42" stroke="#333" stroke-width="0.6"/>
<rect x="414.06" y="467.81" width="4.8" height="22.69" fill="#e2353b"/>
<line x1="416.46" y1="467.81" x2="416.46" y2="466.42" stroke="#333" stroke-width="0.6"/>
<line x1="415.56" y1="466.42" x2="417.36" y2="466.42" stroke="#333" stroke-width="0.6"/>
<rect x="427.58" y="467.35" width="4.8" height="23.15" fill="#e2353b"/>
<line x1="429.98" y1="467.35" x2="429.98" y2="465.73" stroke="#333" stroke-width="0.6"/>
<line x1="429.08" y1="465.73" x2="430.88" y2="465.73" stroke="#333" stroke-width="0.6"/>
<rect x="441.11" y="468.97" width="4.8" height="21.53" fill="#e2353b"/>
<line x1="443.51" y1="468.97" x2="443.51" y2="467.12" stroke="#333" stroke-width="0.6"/>
<line x1="442.61" y1="467.12" x2="444.41" y2="467.12" stroke="#333" stroke-width="0.6"/>
<rect x="454.64" y="453.23" width="4.8" height="37.27" fill="#e2353b"/>
<line x1="457.04" y1="453.23" x2="457.04" y2="445.36" stroke="#333" stroke-width="0.6"/>
<line x1="456.14" y1="445.36" x2="457.94" y2="445.36" stroke="#333" stroke-width="0.6"/>
<rect x="468.16" y="427.07" width="4.8" height="63.43" fill="#e2353b"/>
<line x1="470.56" y1="427.07" x2="470.56" y2="409.48" stroke="#333" stroke-width="0.6"/>
<line x1="469.66" y1="409.48" x2="471.46" y2="409.48" stroke="#333" stroke-width="0.6"/>
<path d="M470.56,404.5 L470.56,402.95 M470.56,404.5 L469.09,404.02 M470.56,404.5 L469.65,405.75 M470.56,404.5 L471.48,405.75 M470.56,404.5 L472.04,404.02 " stroke="#231f20" stroke-width="0.9" stroke-linecap="round" fill="none"/>
<rect x="481.69" y="448.83" width="4.8" height="41.67" fill="#e2353b"/>
<line x1="484.09" y1="448.83" x2="484.09" y2="441.88" stroke="#333" stroke-width="0.6"/>
<line x1="483.19" y1="441.88" x2="484.99" y2="441.88" stroke="#333" stroke-width="0.6"/>
<path d="M484.09,436.3 L484.09,434.75 M484.09,436.3 L482.62,435.82 M484.09,436.3 L483.18,437.55 M484.09,436.3 L485,437.55 M484.09,436.3 L485.57,435.82 " stroke="#231f20" stroke-width="0.9" stroke-linecap="round" fill="none"/>
<line x1="30.5" y1="467.35" x2="489" y2="467.35" stroke="#111" stroke-width="0.75" stroke-dasharray="1.6,1.1"/>
<line x1="30.5" y1="397" x2="30.5" y2="491" stroke="#231f20" stroke-width="1"/>
<line x1="30.5" y1="490.5" x2="491" y2="490.5" stroke="#231f20" stroke-width="1"/>
<line x1="28.1" y1="490.5" x2="30.5" y2="490.5" stroke="#231f20" stroke-width="0.8"/>
<text x="26.9" y="493.5" font-size="8.4" text-anchor="end" textLength="4.2" lengthAdjust="spacingAndGlyphs" fill="#231f20" stroke="#231f20" stroke-width="0.22">0</text>
<line x1="28.1" y1="467.35" x2="30.5" y2="467.35" stroke="#231f20" stroke-width="0.8"/>
<text x="26.9" y="470.35" font-size="8.4" text-anchor="end" textLength="4.2" lengthAdjust="spacingAndGlyphs" fill="#231f20" stroke="#231f20" stroke-width="0.22">1</text>
<line x1="28.1" y1="444.2" x2="30.5" y2="444.2" stroke="#231f20" stroke-width="0.8"/>
<text x="26.9" y="447.2" font-size="8.4" text-anchor="end" textLength="4.2" lengthAdjust="spacingAndGlyphs" fill="#231f20" stroke="#231f20" stroke-width="0.22">2</text>
<line x1="28.1" y1="421.05" x2="30.5" y2="421.05" stroke="#231f20" stroke-width="0.8"/>
<text x="26.9" y="424.05" font-size="8.4" text-anchor="end" textLength="4.2" lengthAdjust="spacingAndGlyphs" fill="#231f20" stroke="#231f20" stroke-width="0.22">3</text>
<line x1="28.1" y1="397.9" x2="30.5" y2="397.9" stroke="#231f20" stroke-width="0.8"/>
<text x="26.9" y="400.9" font-size="8.4" text-anchor="end" textLength="4.2" lengthAdjust="spacingAndGlyphs" fill="#231f20" stroke="#231f20" stroke-width="0.22">4</text>
<line x1="31" y1="490.5" x2="31" y2="492.3" stroke="#231f20" stroke-width="0.7"/>
<line x1="44.5" y1="490.5" x2="44.5" y2="492.3" stroke="#231f20" stroke-width="0.7"/>
<line x1="58" y1="490.5" x2="58" y2="492.3" stroke="#231f20" stroke-width="0.7"/>
<line x1="71.5" y1="490.5" x2="71.5" y2="492.3" stroke="#231f20" stroke-width="0.7"/>
<line x1="85" y1="490.5" x2="85" y2="492.3" stroke="#231f20" stroke-width="0.7"/>
<line x1="98.5" y1="490.5" x2="98.5" y2="492.3" stroke="#231f20" stroke-width="0.7"/>
<line x1="112" y1="490.5" x2="112" y2="492.3" stroke="#231f20" stroke-width="0.7"/>
<line x1="125.5" y1="490.5" x2="125.5" y2="492.3" stroke="#231f20" stroke-width="0.7"/>
<line x1="139" y1="490.5" x2="139" y2="492.3" stroke="#231f20" stroke-width="0.7"/>
<line x1="152.5" y1="490.5" x2="152.5" y2="492.3" stroke="#231f20" stroke-width="0.7"/>
<line x1="166" y1="490.5" x2="166" y2="492.3" stroke="#231f20" stroke-width="0.7"/>
<line x1="179.5" y1="490.5" x2="179.5" y2="492.3" stroke="#231f20" stroke-width="0.7"/>
<line x1="193" y1="490.5" x2="193" y2="492.3" stroke="#231f20" stroke-width="0.7"/>
<line x1="206.5" y1="490.5" x2="206.5" y2="492.3" stroke="#231f20" stroke-width="0.7"/>
<line x1="220" y1="490.5" x2="220" y2="492.3" stroke="#231f20" stroke-width="0.7"/>
<line x1="233.5" y1="490.5" x2="233.5" y2="492.3" stroke="#231f20" stroke-width="0.7"/>
<line x1="247" y1="490.5" x2="247" y2="492.3" stroke="#231f20" stroke-width="0.7"/>
<line x1="260.5" y1="490.5" x2="260.5" y2="492.3" stroke="#231f20" stroke-width="0.7"/>
<line x1="274" y1="490.5" x2="274" y2="492.3" stroke="#231f20" stroke-width="0.7"/>
<line x1="287.5" y1="490.5" x2="287.5" y2="492.3" stroke="#231f20" stroke-width="0.7"/>
<line x1="301" y1="490.5" x2="301" y2="492.3" stroke="#231f20" stroke-width="0.7"/>
<line x1="314.5" y1="490.5" x2="314.5" y2="492.3" stroke="#231f20" stroke-width="0.7"/>
<line x1="328" y1="490.5" x2="328" y2="492.3" stroke="#231f20" stroke-width="0.7"/>
<line x1="341.5" y1="490.5" x2="341.5" y2="492.3" stroke="#231f20" stroke-width="0.7"/>
<line x1="355" y1="490.5" x2="355" y2="492.3" stroke="#231f20" stroke-width="0.7"/>
<line x1="368.5" y1="490.5" x2="368.5" y2="492.3" stroke="#231f20" stroke-width="0.7"/>
<line x1="382" y1="490.5" x2="382" y2="492.3" stroke="#231f20" stroke-width="0.7"/>
<line x1="395.5" y1="490.5" x2="395.5" y2="492.3" stroke="#231f20" stroke-width="0.7"/>
<line x1="409" y1="490.5" x2="409" y2="492.3" stroke="#231f20" stroke-width="0.7"/>
<line x1="422.5" y1="490.5" x2="422.5" y2="492.3" stroke="#231f20" stroke-width="0.7"/>
<line x1="436" y1="490.5" x2="436" y2="492.3" stroke="#231f20" stroke-width="0.7"/>
<line x1="449.5" y1="490.5" x2="449.5" y2="492.3" stroke="#231f20" stroke-width="0.7"/>
<line x1="463" y1="490.5" x2="463" y2="492.3" stroke="#231f20" stroke-width="0.7"/>
<line x1="476.5" y1="490.5" x2="476.5" y2="492.3" stroke="#231f20" stroke-width="0.7"/>
<line x1="490" y1="490.5" x2="490" y2="492.3" stroke="#231f20" stroke-width="0.7"/>
<text x="42.7" y="498.1" font-size="9.4" text-anchor="end" textLength="14.68" lengthAdjust="spacingAndGlyphs" fill="#231f20" transform="rotate(-45 42.7 498.1)" stroke="#231f20" stroke-width="0.22">Au1</text>
<text x="56.15" y="498.1" font-size="9.4" text-anchor="end" textLength="12.84" lengthAdjust="spacingAndGlyphs" fill="#231f20" transform="rotate(-45 56.15 498.1)" stroke="#231f20" stroke-width="0.22">PrL</text>
<text x="69.6" y="498.1" font-size="9.4" text-anchor="end" textLength="6.88" lengthAdjust="spacingAndGlyphs" fill="#231f20" transform="rotate(-45 69.6 498.1)" stroke="#231f20" stroke-width="0.22">IL</text>
<text x="83.05" y="498.1" font-size="9.4" text-anchor="end" textLength="15.13" lengthAdjust="spacingAndGlyphs" fill="#231f20" transform="rotate(-45 83.05 498.1)" stroke="#231f20" stroke-width="0.22">Cg1</text>
<text x="96.5" y="498.1" font-size="9.4" text-anchor="end" textLength="15.13" lengthAdjust="spacingAndGlyphs" fill="#231f20" transform="rotate(-45 96.5 498.1)" stroke="#231f20" stroke-width="0.22">Cg2</text>
<text x="109.95" y="498.1" font-size="9.4" text-anchor="end" textLength="17.42" lengthAdjust="spacingAndGlyphs" fill="#231f20" transform="rotate(-45 109.95 498.1)" stroke="#231f20" stroke-width="0.22">RSD</text>
<text x="123.4" y="498.1" font-size="9.4" text-anchor="end" textLength="17.88" lengthAdjust="spacingAndGlyphs" fill="#231f20" transform="rotate(-45 123.4 498.1)" stroke="#231f20" stroke-width="0.22">RSG</text>
<text x="136.85" y="498.1" font-size="9.4" text-anchor="end" textLength="12.84" lengthAdjust="spacingAndGlyphs" fill="#231f20" transform="rotate(-45 136.85 498.1)" stroke="#231f20" stroke-width="0.22">Par</text>
<text x="150.3" y="498.1" font-size="9.4" text-anchor="end" textLength="29.35" lengthAdjust="spacingAndGlyphs" fill="#231f20" transform="rotate(-45 150.3 498.1)" stroke="#231f20" stroke-width="0.22">PostPar</text>
<text x="163.75" y="498.1" font-size="9.4" text-anchor="end" textLength="18.33" lengthAdjust="spacingAndGlyphs" fill="#231f20" transform="rotate(-45 163.75 498.1)" stroke="#231f20" stroke-width="0.22">MEC</text>
<text x="177.2" y="498.1" font-size="9.4" text-anchor="end" textLength="18.33" lengthAdjust="spacingAndGlyphs" fill="#231f20" transform="rotate(-45 177.2 498.1)" stroke="#231f20" stroke-width="0.22">DMS</text>
<text x="190.65" y="498.1" font-size="9.4" text-anchor="end" textLength="16.05" lengthAdjust="spacingAndGlyphs" fill="#231f20" transform="rotate(-45 190.65 498.1)" stroke="#231f20" stroke-width="0.22">DLS</text>
<text x="204.1" y="498.1" font-size="9.4" text-anchor="end" textLength="20.17" lengthAdjust="spacingAndGlyphs" fill="#231f20" transform="rotate(-45 204.1 498.1)" stroke="#231f20" stroke-width="0.22">AcbC</text>
<text x="217.55" y="498.1" font-size="9.4" text-anchor="end" textLength="19.72" lengthAdjust="spacingAndGlyphs" fill="#231f20" transform="rotate(-45 217.55 498.1)" stroke="#231f20" stroke-width="0.22">AcbS</text>
<text x="231" y="498.1" font-size="9.4" text-anchor="end" textLength="15.43" lengthAdjust="spacingAndGlyphs" fill="#231f20" transform="rotate(-45 231 498.1)" stroke="#231f20" stroke-width="0.22">VTA</text>
<text x="244.45" y="498.1" font-size="9.4" text-anchor="end" textLength="15.59" lengthAdjust="spacingAndGlyphs" fill="#231f20" transform="rotate(-45 244.45 498.1)" stroke="#231f20" stroke-width="0.22">SNc</text>
<text x="257.9" y="498.1" font-size="9.4" text-anchor="end" textLength="20.64" lengthAdjust="spacingAndGlyphs" fill="#231f20" transform="rotate(-45 257.9 498.1)" stroke="#231f20" stroke-width="0.22">dCA1</text>
<text x="271.35" y="498.1" font-size="9.4" text-anchor="end" textLength="20.64" lengthAdjust="spacingAndGlyphs" fill="#231f20" transform="rotate(-45 271.35 498.1)" stroke="#231f20" stroke-width="0.22">dCA3</text>
<text x="284.8" y="498.1" font-size="9.4" text-anchor="end" textLength="20.17" lengthAdjust="spacingAndGlyphs" fill="#231f20" transform="rotate(-45 284.8 498.1)" stroke="#231f20" stroke-width="0.22">vCA1</text>
<text x="298.25" y="498.1" font-size="9.4" text-anchor="end" textLength="20.17" lengthAdjust="spacingAndGlyphs" fill="#231f20" transform="rotate(-45 298.25 498.1)" stroke="#231f20" stroke-width="0.22">vCA3</text>
<text x="311.7" y="498.1" font-size="9.4" text-anchor="end" textLength="20.64" lengthAdjust="spacingAndGlyphs" fill="#231f20" transform="rotate(-45 311.7 498.1)" stroke="#231f20" stroke-width="0.22">dCA2</text>
<text x="325.15" y="498.1" font-size="9.4" text-anchor="end" textLength="16.96" lengthAdjust="spacingAndGlyphs" fill="#231f20" transform="rotate(-45 325.15 498.1)" stroke="#231f20" stroke-width="0.22">dDG</text>
<text x="338.6" y="498.1" font-size="9.4" text-anchor="end" textLength="16.5" lengthAdjust="spacingAndGlyphs" fill="#231f20" transform="rotate(-45 338.6 498.1)" stroke="#231f20" stroke-width="0.22">vDG</text>
<text x="352.05" y="498.1" font-size="9.4" text-anchor="end" textLength="31.65" lengthAdjust="spacingAndGlyphs" fill="#231f20" transform="rotate(-45 352.05 498.1)" stroke="#231f20" stroke-width="0.22">Lob IV/V</text>
<text x="365.5" y="498.1" font-size="9.4" text-anchor="end" textLength="23.85" lengthAdjust="spacingAndGlyphs" fill="#231f20" transform="rotate(-45 365.5 498.1)" stroke="#231f20" stroke-width="0.22">Lob VI</text>
<text x="378.95" y="498.1" font-size="9.4" text-anchor="end" textLength="29.34" lengthAdjust="spacingAndGlyphs" fill="#231f20" transform="rotate(-45 378.95 498.1)" stroke="#231f20" stroke-width="0.22">Simplex</text>
<text x="392.4" y="498.1" font-size="9.4" text-anchor="end" textLength="22" lengthAdjust="spacingAndGlyphs" fill="#231f20" transform="rotate(-45 392.4 498.1)" stroke="#231f20" stroke-width="0.22">Crus I</text>
<text x="405.85" y="498.1" font-size="9.4" text-anchor="end" textLength="26.14" lengthAdjust="spacingAndGlyphs" fill="#231f20" transform="rotate(-45 405.85 498.1)" stroke="#231f20" stroke-width="0.22">Lob VII</text>
<text x="419.3" y="498.1" font-size="9.4" text-anchor="end" textLength="24.29" lengthAdjust="spacingAndGlyphs" fill="#231f20" transform="rotate(-45 419.3 498.1)" stroke="#231f20" stroke-width="0.22">Crus II</text>
<text x="432.75" y="498.1" font-size="9.4" text-anchor="end" textLength="23.85" lengthAdjust="spacingAndGlyphs" fill="#231f20" transform="rotate(-45 432.75 498.1)" stroke="#231f20" stroke-width="0.22">Lob IX</text>
<text x="446.2" y="498.1" font-size="9.4" text-anchor="end" textLength="21.56" lengthAdjust="spacingAndGlyphs" fill="#231f20" transform="rotate(-45 446.2 498.1)" stroke="#231f20" stroke-width="0.22">Lob X</text>
<text x="459.65" y="498.1" font-size="9.4" text-anchor="end" textLength="25.68" lengthAdjust="spacingAndGlyphs" fill="#231f20" transform="rotate(-45 459.65 498.1)" stroke="#231f20" stroke-width="0.22">Dent N</text>
<text x="473.1" y="498.1" font-size="9.4" text-anchor="end" textLength="24.29" lengthAdjust="spacingAndGlyphs" fill="#231f20" transform="rotate(-45 473.1 498.1)" stroke="#231f20" stroke-width="0.22">Fast N</text>
<text x="486.55" y="498.1" font-size="9.4" text-anchor="end" textLength="22.78" lengthAdjust="spacingAndGlyphs" fill="#231f20" transform="rotate(-45 486.55 498.1)" stroke="#231f20" stroke-width="0.22">IntP N</text>
<text x="14.1" y="411.0" font-size="9.2" text-anchor="middle" fill="#231f20" transform="rotate(-90 14.1 411.0)" stroke="#231f20" stroke-width="0.22">c-Fos density normalized to swimming controls</text>
<rect x="32.5" y="597.99" width="4.1" height="33.51" fill="#ecfdfd" stroke="#3fa8bc" stroke-width="1.2"/>
<line x1="34.55" y1="597.39" x2="34.55" y2="593.65" stroke="#444" stroke-width="0.6"/>
<line x1="33.65" y1="593.65" x2="35.45" y2="593.65" stroke="#444" stroke-width="0.6"/>
<path d="M34.55,589.65 L34.55,588.1 M34.55,589.65 L33.08,589.17 M34.55,589.65 L33.64,590.91 M34.55,589.65 L35.46,590.91 M34.55,589.65 L36.02,589.17 " stroke="#231f20" stroke-width="0.9" stroke-linecap="round" fill="none"/>
<rect x="38.2" y="610.81" width="3.9" height="20.69" fill="#fff0f0" stroke="#c2474c" stroke-width="1.2"/>
<line x1="40.15" y1="610.21" x2="40.15" y2="606.48" stroke="#444" stroke-width="0.6"/>
<line x1="39.25" y1="606.48" x2="41.05" y2="606.48" stroke="#444" stroke-width="0.6"/>
<path d="M40.15,602.48 L40.15,600.93 M40.15,602.48 L38.68,602 M40.15,602.48 L39.24,603.73 M40.15,602.48 L41.06,603.73 M40.15,602.48 L41.62,602 " stroke="#231f20" stroke-width="0.9" stroke-linecap="round" fill="none"/>
<path d="M35.7,585.75 L35.7,584.15 L41.2,584.15 L41.2,585.75" fill="none" stroke="#444" stroke-width="0.6"/>
<path d="M38.45,580.35 L38.45,578.8 M38.45,580.35 L36.98,579.87 M38.45,580.35 L37.54,581.61 M38.45,580.35 L39.36,581.61 M38.45,580.35 L39.92,579.87 " stroke="#231f20" stroke-width="0.9" stroke-linecap="round" fill="none"/>
<rect x="46" y="555.66" width="4.1" height="75.84" fill="#ecfdfd" stroke="#3fa8bc" stroke-width="1.2"/>
<line x1="48.05" y1="555.06" x2="48.05" y2="548.83" stroke="#444" stroke-width="0.6"/>
<line x1="47.15" y1="548.83" x2="48.95" y2="548.83" stroke="#444" stroke-width="0.6"/>
<path d="M48.05,544.83 L48.05,543.28 M48.05,544.83 L46.58,544.35 M48.05,544.83 L47.14,546.09 M48.05,544.83 L48.96,546.09 M48.05,544.83 L49.52,544.35 " stroke="#231f20" stroke-width="0.9" stroke-linecap="round" fill="none"/>
<rect x="51.7" y="581.3" width="3.9" height="50.2" fill="#fff0f0" stroke="#c2474c" stroke-width="1.2"/>
<line x1="53.65" y1="580.7" x2="53.65" y2="576.97" stroke="#444" stroke-width="0.6"/>
<line x1="52.75" y1="576.97" x2="54.55" y2="576.97" stroke="#444" stroke-width="0.6"/>
<path d="M53.65,572.97 L53.65,571.42 M53.65,572.97 L52.18,572.49 M53.65,572.97 L52.74,574.22 M53.65,572.97 L54.56,574.22 M53.65,572.97 L55.12,572.49 " stroke="#231f20" stroke-width="0.9" stroke-linecap="round" fill="none"/>
<path d="M49.2,540.93 L49.2,539.33 L54.7,539.33 L54.7,540.93" fill="none" stroke="#444" stroke-width="0.6"/>
<path d="M51.95,535.53 L51.95,533.98 M51.95,535.53 L50.48,535.05 M51.95,535.53 L51.04,536.79 M51.95,535.53 L52.86,536.79 M51.95,535.53 L53.42,535.05 " stroke="#231f20" stroke-width="0.9" stroke-linecap="round" fill="none"/>
<rect x="59.5" y="575.58" width="4.1" height="55.92" fill="#ecfdfd" stroke="#3fa8bc" stroke-width="1.2"/>
<line x1="61.55" y1="574.98" x2="61.55" y2="570.62" stroke="#444" stroke-width="0.6"/>
<line x1="60.65" y1="570.62" x2="62.45" y2="570.62" stroke="#444" stroke-width="0.6"/>
<path d="M61.55,566.62 L61.55,565.07 M61.55,566.62 L60.08,566.14 M61.55,566.62 L60.64,567.87 M61.55,566.62 L62.46,567.87 M61.55,566.62 L63.02,566.14 " stroke="#231f20" stroke-width="0.9" stroke-linecap="round" fill="none"/>
<rect x="65.2" y="593.01" width="3.9" height="38.49" fill="#fff0f0" stroke="#c2474c" stroke-width="1.2"/>
<line x1="67.15" y1="592.41" x2="67.15" y2="589.29" stroke="#444" stroke-width="0.6"/>
<line x1="66.25" y1="589.29" x2="68.05" y2="589.29" stroke="#444" stroke-width="0.6"/>
<path d="M67.15,585.29 L67.15,583.74 M67.15,585.29 L65.68,584.82 M67.15,585.29 L66.24,586.55 M67.15,585.29 L68.06,586.55 M67.15,585.29 L68.62,584.82 " stroke="#231f20" stroke-width="0.9" stroke-linecap="round" fill="none"/>
<path d="M62.7,562.72 L62.7,561.12 L68.2,561.12 L68.2,562.72" fill="none" stroke="#444" stroke-width="0.6"/>
<path d="M65.45,557.32 L65.45,555.77 M65.45,557.32 L63.98,556.84 M65.45,557.32 L64.54,558.57 M65.45,557.32 L66.36,558.57 M65.45,557.32 L66.92,556.84 " stroke="#231f20" stroke-width="0.9" stroke-linecap="round" fill="none"/>
<rect x="73" y="552.79" width="4.1" height="78.71" fill="#ecfdfd" stroke="#3fa8bc" stroke-width="1.2"/>
<line x1="75.05" y1="552.19" x2="75.05" y2="544.72" stroke="#444" stroke-width="0.6"/>
<line x1="74.15" y1="544.72" x2="75.95" y2="544.72" stroke="#444" stroke-width="0.6"/>
<path d="M75.05,540.72 L75.05,539.17 M75.05,540.72 L73.58,540.24 M75.05,540.72 L74.14,541.98 M75.05,540.72 L75.96,541.98 M75.05,540.72 L76.52,540.24 " stroke="#231f20" stroke-width="0.9" stroke-linecap="round" fill="none"/>
<rect x="78.7" y="568.85" width="3.9" height="62.65" fill="#fff0f0" stroke="#c2474c" stroke-width="1.2"/>
<line x1="80.65" y1="568.25" x2="80.65" y2="562.03" stroke="#444" stroke-width="0.6"/>
<line x1="79.75" y1="562.03" x2="81.55" y2="562.03" stroke="#444" stroke-width="0.6"/>
<path d="M80.65,558.03 L80.65,556.48 M80.65,558.03 L79.18,557.55 M80.65,558.03 L79.74,559.28 M80.65,558.03 L81.56,559.28 M80.65,558.03 L82.12,557.55 " stroke="#231f20" stroke-width="0.9" stroke-linecap="round" fill="none"/>
<rect x="86.5" y="555.16" width="4.1" height="76.34" fill="#ecfdfd" stroke="#3fa8bc" stroke-width="1.2"/>
<line x1="88.55" y1="554.56" x2="88.55" y2="548.33" stroke="#444" stroke-width="0.6"/>
<line x1="87.65" y1="548.33" x2="89.45" y2="548.33" stroke="#444" stroke-width="0.6"/>
<path d="M88.55,544.33 L88.55,542.78 M88.55,544.33 L87.08,543.86 M88.55,544.33 L87.64,545.59 M88.55,544.33 L89.46,545.59 M88.55,544.33 L90.02,543.86 " stroke="#231f20" stroke-width="0.9" stroke-linecap="round" fill="none"/>
<rect x="92.2" y="555.16" width="3.9" height="76.34" fill="#fff0f0" stroke="#c2474c" stroke-width="1.2"/>
<line x1="94.15" y1="554.56" x2="94.15" y2="547.71" stroke="#444" stroke-width="0.6"/>
<line x1="93.25" y1="547.71" x2="95.05" y2="547.71" stroke="#444" stroke-width="0.6"/>
<path d="M94.15,543.71 L94.15,542.16 M94.15,543.71 L92.68,543.23 M94.15,543.71 L93.24,544.97 M94.15,543.71 L95.06,544.97 M94.15,543.71 L95.62,543.23 " stroke="#231f20" stroke-width="0.9" stroke-linecap="round" fill="none"/>
<rect x="100" y="597.99" width="4.1" height="33.51" fill="#ecfdfd" stroke="#3fa8bc" stroke-width="1.2"/>
<line x1="102.05" y1="597.39" x2="102.05" y2="594.27" stroke="#444" stroke-width="0.6"/>
<line x1="101.15" y1="594.27" x2="102.95" y2="594.27" stroke="#444" stroke-width="0.6"/>
<path d="M102.05,590.27 L102.05,588.72 M102.05,590.27 L100.58,589.8 M102.05,590.27 L101.14,591.53 M102.05,590.27 L102.96,591.53 M102.05,590.27 L103.52,589.8 " stroke="#231f20" stroke-width="0.9" stroke-linecap="round" fill="none"/>
<rect x="105.7" y="596" width="3.9" height="35.51" fill="#fff0f0" stroke="#c2474c" stroke-width="1.2"/>
<line x1="107.65" y1="595.39" x2="107.65" y2="592.28" stroke="#444" stroke-width="0.6"/>
<line x1="106.75" y1="592.28" x2="108.55" y2="592.28" stroke="#444" stroke-width="0.6"/>
<path d="M107.65,588.28 L107.65,586.73 M107.65,588.28 L106.18,587.8 M107.65,588.28 L106.74,589.54 M107.65,588.28 L108.56,589.54 M107.65,588.28 L109.12,587.8 " stroke="#231f20" stroke-width="0.9" stroke-linecap="round" fill="none"/>
<rect x="113.5" y="598.98" width="4.1" height="32.52" fill="#ecfdfd" stroke="#3fa8bc" stroke-width="1.2"/>
<line x1="115.55" y1="598.38" x2="115.55" y2="595.27" stroke="#444" stroke-width="0.6"/>
<line x1="114.65" y1="595.27" x2="116.45" y2="595.27" stroke="#444" stroke-width="0.6"/>
<path d="M115.55,591.27 L115.55,589.72 M115.55,591.27 L114.08,590.79 M115.55,591.27 L114.64,592.52 M115.55,591.27 L116.46,592.52 M115.55,591.27 L117.02,590.79 " stroke="#231f20" stroke-width="0.9" stroke-linecap="round" fill="none"/>
<rect x="119.2" y="591.01" width="3.9" height="40.49" fill="#fff0f0" stroke="#c2474c" stroke-width="1.2"/>
<line x1="121.15" y1="590.41" x2="121.15" y2="586.06" stroke="#444" stroke-width="0.6"/>
<line x1="120.25" y1="586.06" x2="122.05" y2="586.06" stroke="#444" stroke-width="0.6"/>
<path d="M121.15,582.06 L121.15,580.51 M121.15,582.06 L119.68,581.58 M121.15,582.06 L120.24,583.31 M121.15,582.06 L122.06,583.31 M121.15,582.06 L122.62,581.58 " stroke="#231f20" stroke-width="0.9" stroke-linecap="round" fill="none"/>
<rect x="127" y="570.47" width="4.1" height="61.03" fill="#ecfdfd" stroke="#3fa8bc" stroke-width="1.2"/>
<line x1="129.05" y1="569.87" x2="129.05" y2="563.65" stroke="#444" stroke-width="0.6"/>
<line x1="128.15" y1="563.65" x2="129.95" y2="563.65" stroke="#444" stroke-width="0.6"/>
<path d="M129.05,559.65 L129.05,558.1 M129.05,559.65 L127.58,559.17 M129.05,559.65 L128.14,560.9 M129.05,559.65 L129.96,560.9 M129.05,559.65 L130.52,559.17 " stroke="#231f20" stroke-width="0.9" stroke-linecap="round" fill="none"/>
<rect x="132.7" y="576.7" width="3.9" height="54.8" fill="#fff0f0" stroke="#c2474c" stroke-width="1.2"/>
<line x1="134.65" y1="576.1" x2="134.65" y2="570.5" stroke="#444" stroke-width="0.6"/>
<line x1="133.75" y1="570.5" x2="135.55" y2="570.5" stroke="#444" stroke-width="0.6"/>
<path d="M134.65,566.5 L134.65,564.95 M134.65,566.5 L133.18,566.02 M134.65,566.5 L133.74,567.75 M134.65,566.5 L135.56,567.75 M134.65,566.5 L136.12,566.02 " stroke="#231f20" stroke-width="0.9" stroke-linecap="round" fill="none"/>
<rect x="140.5" y="546.2" width="4.1" height="85.3" fill="#ecfdfd" stroke="#3fa8bc" stroke-width="1.2"/>
<line x1="142.55" y1="545.6" x2="142.55" y2="536.88" stroke="#444" stroke-width="0.6"/>
<line x1="141.65" y1="536.88" x2="143.45" y2="536.88" stroke="#444" stroke-width="0.6"/>
<path d="M142.55,532.88 L142.55,531.33 M142.55,532.88 L141.08,532.4 M142.55,532.88 L141.64,534.13 M142.55,532.88 L143.46,534.13 M142.55,532.88 L144.02,532.4 " stroke="#231f20" stroke-width="0.9" stroke-linecap="round" fill="none"/>
<rect x="146.2" y="553.67" width="3.9" height="77.83" fill="#fff0f0" stroke="#c2474c" stroke-width="1.2"/>
<line x1="148.15" y1="553.07" x2="148.15" y2="546.84" stroke="#444" stroke-width="0.6"/>
<line x1="147.25" y1="546.84" x2="149.05" y2="546.84" stroke="#444" stroke-width="0.6"/>
<path d="M148.15,542.84 L148.15,541.29 M148.15,542.84 L146.68,542.36 M148.15,542.84 L147.24,544.09 M148.15,542.84 L149.06,544.09 M148.15,542.84 L149.62,542.36 " stroke="#231f20" stroke-width="0.9" stroke-linecap="round" fill="none"/>
<rect x="154" y="585.79" width="4.1" height="45.71" fill="#ecfdfd" stroke="#3fa8bc" stroke-width="1.2"/>
<line x1="156.05" y1="585.19" x2="156.05" y2="579.58" stroke="#444" stroke-width="0.6"/>
<line x1="155.15" y1="579.58" x2="156.95" y2="579.58" stroke="#444" stroke-width="0.6"/>
<path d="M156.05,575.58 L156.05,574.03 M156.05,575.58 L154.58,575.1 M156.05,575.58 L155.14,576.84 M156.05,575.58 L156.96,576.84 M156.05,575.58 L157.52,575.1 " stroke="#231f20" stroke-width="0.9" stroke-linecap="round" fill="none"/>
<rect x="159.7" y="596" width="3.9" height="35.51" fill="#fff0f0" stroke="#c2474c" stroke-width="1.2"/>
<line x1="161.65" y1="595.39" x2="161.65" y2="591.04" stroke="#444" stroke-width="0.6"/>
<line x1="160.75" y1="591.04" x2="162.55" y2="591.04" stroke="#444" stroke-width="0.6"/>
<path d="M161.65,587.04 L161.65,585.49 M161.65,587.04 L160.18,586.56 M161.65,587.04 L160.74,588.29 M161.65,587.04 L162.56,588.29 M161.65,587.04 L163.12,586.56 " stroke="#231f20" stroke-width="0.9" stroke-linecap="round" fill="none"/>
<rect x="167.5" y="583.67" width="4.1" height="47.83" fill="#ecfdfd" stroke="#3fa8bc" stroke-width="1.2"/>
<line x1="169.55" y1="583.07" x2="169.55" y2="578.71" stroke="#444" stroke-width="0.6"/>
<line x1="168.65" y1="578.71" x2="170.45" y2="578.71" stroke="#444" stroke-width="0.6"/>
<path d="M169.55,574.71 L169.55,573.16 M169.55,574.71 L168.08,574.23 M169.55,574.71 L168.64,575.97 M169.55,574.71 L170.46,575.97 M169.55,574.71 L171.02,574.23 " stroke="#231f20" stroke-width="0.9" stroke-linecap="round" fill="none"/>
<rect x="173.2" y="608.82" width="3.9" height="22.68" fill="#fff0f0" stroke="#c2474c" stroke-width="1.2"/>
<line x1="175.15" y1="608.22" x2="175.15" y2="606.35" stroke="#444" stroke-width="0.6"/>
<line x1="174.25" y1="606.35" x2="176.05" y2="606.35" stroke="#444" stroke-width="0.6"/>
<path d="M175.15,602.35 L175.15,600.8 M175.15,602.35 L173.68,601.87 M175.15,602.35 L174.24,603.6 M175.15,602.35 L176.06,603.6 M175.15,602.35 L176.62,601.87 " stroke="#231f20" stroke-width="0.9" stroke-linecap="round" fill="none"/>
<path d="M170.7,570.81 L170.7,569.21 L176.2,569.21 L176.2,570.81" fill="none" stroke="#444" stroke-width="0.6"/>
<path d="M173.45,565.41 L173.45,563.86 M173.45,565.41 L171.98,564.93 M173.45,565.41 L172.54,566.67 M173.45,565.41 L174.36,566.67 M173.45,565.41 L174.92,564.93 " stroke="#231f20" stroke-width="0.9" stroke-linecap="round" fill="none"/>
<rect x="181" y="614.92" width="4.1" height="16.58" fill="#ecfdfd" stroke="#3fa8bc" stroke-width="1.2"/>
<line x1="183.05" y1="614.32" x2="183.05" y2="612.45" stroke="#444" stroke-width="0.6"/>
<line x1="182.15" y1="612.45" x2="183.95" y2="612.45" stroke="#444" stroke-width="0.6"/>
<path d="M183.05,608.45 L183.05,606.9 M183.05,608.45 L181.58,607.97 M183.05,608.45 L182.14,609.71 M183.05,608.45 L183.96,609.71 M183.05,608.45 L184.52,607.97 " stroke="#231f20" stroke-width="0.9" stroke-linecap="round" fill="none"/>
<rect x="186.7" y="618.65" width="3.9" height="12.85" fill="#fff0f0" stroke="#c2474c" stroke-width="1.2"/>
<line x1="188.65" y1="618.05" x2="188.65" y2="617.06" stroke="#444" stroke-width="0.6"/>
<line x1="187.75" y1="617.06" x2="189.55" y2="617.06" stroke="#444" stroke-width="0.6"/>
<path d="M184.2,604.55 L184.2,602.95 L189.7,602.95 L189.7,604.55" fill="none" stroke="#444" stroke-width="0.6"/>
<path d="M186.95,599.15 L186.95,597.6 M186.95,599.15 L185.48,598.67 M186.95,599.15 L186.04,600.41 M186.95,599.15 L187.86,600.41 M186.95,599.15 L188.42,598.67 " stroke="#231f20" stroke-width="0.9" stroke-linecap="round" fill="none"/>
<rect x="194.5" y="597.99" width="4.1" height="33.51" fill="#ecfdfd" stroke="#3fa8bc" stroke-width="1.2"/>
<line x1="196.55" y1="597.39" x2="196.55" y2="592.41" stroke="#444" stroke-width="0.6"/>
<line x1="195.65" y1="592.41" x2="197.45" y2="592.41" stroke="#444" stroke-width="0.6"/>
<path d="M196.55,588.41 L196.55,586.86 M196.55,588.41 L195.08,587.93 M196.55,588.41 L195.64,589.66 M196.55,588.41 L197.46,589.66 M196.55,588.41 L198.02,587.93 " stroke="#231f20" stroke-width="0.9" stroke-linecap="round" fill="none"/>
<rect x="200.2" y="615.54" width="3.9" height="15.96" fill="#fff0f0" stroke="#c2474c" stroke-width="1.2"/>
<line x1="202.15" y1="614.94" x2="202.15" y2="613.07" stroke="#444" stroke-width="0.6"/>
<line x1="201.25" y1="613.07" x2="203.05" y2="613.07" stroke="#444" stroke-width="0.6"/>
<path d="M197.7,584.51 L197.7,582.91 L203.2,582.91 L203.2,584.51" fill="none" stroke="#444" stroke-width="0.6"/>
<path d="M200.45,579.11 L200.45,577.56 M200.45,579.11 L198.98,578.63 M200.45,579.11 L199.54,580.36 M200.45,579.11 L201.36,580.36 M200.45,579.11 L201.92,578.63 " stroke="#231f20" stroke-width="0.9" stroke-linecap="round" fill="none"/>
<rect x="208" y="598.24" width="4.1" height="33.26" fill="#ecfdfd" stroke="#3fa8bc" stroke-width="1.2"/>
<line x1="210.05" y1="597.64" x2="210.05" y2="595.15" stroke="#444" stroke-width="0.6"/>
<line x1="209.15" y1="595.15" x2="210.95" y2="595.15" stroke="#444" stroke-width="0.6"/>
<path d="M210.05,591.15 L210.05,589.6 M210.05,591.15 L208.58,590.67 M210.05,591.15 L209.14,592.4 M210.05,591.15 L210.96,592.4 M210.05,591.15 L211.52,590.67 " stroke="#231f20" stroke-width="0.9" stroke-linecap="round" fill="none"/>
<rect x="213.7" y="612.8" width="3.9" height="18.7" fill="#fff0f0" stroke="#c2474c" stroke-width="1.2"/>
<line x1="215.65" y1="612.2" x2="215.65" y2="609.71" stroke="#444" stroke-width="0.6"/>
<line x1="214.75" y1="609.71" x2="216.55" y2="609.71" stroke="#444" stroke-width="0.6"/>
<path d="M215.65,605.71 L215.65,604.16 M215.65,605.71 L214.18,605.23 M215.65,605.71 L214.74,606.97 M215.65,605.71 L216.56,606.97 M215.65,605.71 L217.12,605.23 " stroke="#231f20" stroke-width="0.9" stroke-linecap="round" fill="none"/>
<path d="M211.2,587.25 L211.2,585.65 L216.7,585.65 L216.7,587.25" fill="none" stroke="#444" stroke-width="0.6"/>
<path d="M213.95,581.85 L213.95,580.3 M213.95,581.85 L212.48,581.37 M213.95,581.85 L213.04,583.1 M213.95,581.85 L214.86,583.1 M213.95,581.85 L215.42,581.37 " stroke="#231f20" stroke-width="0.9" stroke-linecap="round" fill="none"/>
<rect x="221.5" y="602.59" width="4.1" height="28.91" fill="#ecfdfd" stroke="#3fa8bc" stroke-width="1.2"/>
<line x1="223.55" y1="601.99" x2="223.55" y2="599.5" stroke="#444" stroke-width="0.6"/>
<line x1="222.65" y1="599.5" x2="224.45" y2="599.5" stroke="#444" stroke-width="0.6"/>
<path d="M223.55,595.5 L223.55,593.95 M223.55,595.5 L222.08,595.02 M223.55,595.5 L222.64,596.76 M223.55,595.5 L224.46,596.76 M223.55,595.5 L225.02,595.02 " stroke="#231f20" stroke-width="0.9" stroke-linecap="round" fill="none"/>
<rect x="227.2" y="612.18" width="3.9" height="19.32" fill="#fff0f0" stroke="#c2474c" stroke-width="1.2"/>
<line x1="229.15" y1="611.58" x2="229.15" y2="608.47" stroke="#444" stroke-width="0.6"/>
<line x1="228.25" y1="608.47" x2="230.05" y2="608.47" stroke="#444" stroke-width="0.6"/>
<path d="M229.15,604.47 L229.15,602.92 M229.15,604.47 L227.68,603.99 M229.15,604.47 L228.24,605.72 M229.15,604.47 L230.06,605.72 M229.15,604.47 L230.62,603.99 " stroke="#231f20" stroke-width="0.9" stroke-linecap="round" fill="none"/>
<path d="M224.7,591.6 L224.7,590 L230.2,590 L230.2,591.6" fill="none" stroke="#444" stroke-width="0.6"/>
<path d="M227.45,586.2 L227.45,584.65 M227.45,586.2 L225.98,585.72 M227.45,586.2 L226.54,587.46 M227.45,586.2 L228.36,587.46 M227.45,586.2 L228.92,585.72 " stroke="#231f20" stroke-width="0.9" stroke-linecap="round" fill="none"/>
<rect x="235" y="621.64" width="4.1" height="9.86" fill="#ecfdfd" stroke="#3fa8bc" stroke-width="1.2"/>
<line x1="237.05" y1="621.04" x2="237.05" y2="620.05" stroke="#444" stroke-width="0.6"/>
<line x1="236.15" y1="620.05" x2="237.95" y2="620.05" stroke="#444" stroke-width="0.6"/>
<rect x="240.7" y="620.65" width="3.9" height="10.85" fill="#fff0f0" stroke="#c2474c" stroke-width="1.2"/>
<line x1="242.65" y1="620.05" x2="242.65" y2="619.42" stroke="#444" stroke-width="0.6"/>
<line x1="241.75" y1="619.42" x2="243.55" y2="619.42" stroke="#444" stroke-width="0.6"/>
<rect x="248.5" y="583.79" width="4.1" height="47.71" fill="#ecfdfd" stroke="#3fa8bc" stroke-width="1.2"/>
<line x1="250.55" y1="583.19" x2="250.55" y2="575.72" stroke="#444" stroke-width="0.6"/>
<line x1="249.65" y1="575.72" x2="251.45" y2="575.72" stroke="#444" stroke-width="0.6"/>
<path d="M250.55,571.72 L250.55,570.17 M250.55,571.72 L249.08,571.25 M250.55,571.72 L249.64,572.98 M250.55,571.72 L251.46,572.98 M250.55,571.72 L252.02,571.25 " stroke="#231f20" stroke-width="0.9" stroke-linecap="round" fill="none"/>
<rect x="254.2" y="591.89" width="3.9" height="39.61" fill="#fff0f0" stroke="#c2474c" stroke-width="1.2"/>
<line x1="256.15" y1="591.29" x2="256.15" y2="584.44" stroke="#444" stroke-width="0.6"/>
<line x1="255.25" y1="584.44" x2="257.05" y2="584.44" stroke="#444" stroke-width="0.6"/>
<path d="M256.15,580.44 L256.15,578.89 M256.15,580.44 L254.68,579.96 M256.15,580.44 L255.24,581.69 M256.15,580.44 L257.06,581.69 M256.15,580.44 L257.62,579.96 " stroke="#231f20" stroke-width="0.9" stroke-linecap="round" fill="none"/>
<rect x="262" y="600.23" width="4.1" height="31.27" fill="#ecfdfd" stroke="#3fa8bc" stroke-width="1.2"/>
<line x1="264.05" y1="599.63" x2="264.05" y2="595.89" stroke="#444" stroke-width="0.6"/>
<line x1="263.15" y1="595.89" x2="264.95" y2="595.89" stroke="#444" stroke-width="0.6"/>
<path d="M264.05,591.89 L264.05,590.34 M264.05,591.89 L262.58,591.41 M264.05,591.89 L263.14,593.15 M264.05,591.89 L264.96,593.15 M264.05,591.89 L265.52,591.41 " stroke="#231f20" stroke-width="0.9" stroke-linecap="round" fill="none"/>
<rect x="267.7" y="600.85" width="3.9" height="30.65" fill="#fff0f0" stroke="#c2474c" stroke-width="1.2"/>
<line x1="269.65" y1="600.25" x2="269.65" y2="596.52" stroke="#444" stroke-width="0.6"/>
<line x1="268.75" y1="596.52" x2="270.55" y2="596.52" stroke="#444" stroke-width="0.6"/>
<path d="M269.65,592.52 L269.65,590.97 M269.65,592.52 L268.18,592.04 M269.65,592.52 L268.74,593.77 M269.65,592.52 L270.56,593.77 M269.65,592.52 L271.12,592.04 " stroke="#231f20" stroke-width="0.9" stroke-linecap="round" fill="none"/>
<rect x="275.5" y="576.08" width="4.1" height="55.42" fill="#ecfdfd" stroke="#3fa8bc" stroke-width="1.2"/>
<line x1="277.55" y1="575.48" x2="277.55" y2="570.5" stroke="#444" stroke-width="0.6"/>
<line x1="276.65" y1="570.5" x2="278.45" y2="570.5" stroke="#444" stroke-width="0.6"/>
<path d="M277.55,566.5 L277.55,564.95 M277.55,566.5 L276.08,566.02 M277.55,566.5 L276.64,567.75 M277.55,566.5 L278.46,567.75 M277.55,566.5 L279.02,566.02 " stroke="#231f20" stroke-width="0.9" stroke-linecap="round" fill="none"/>
<rect x="281.2" y="580.31" width="3.9" height="51.19" fill="#fff0f0" stroke="#c2474c" stroke-width="1.2"/>
<line x1="283.15" y1="579.71" x2="283.15" y2="572.86" stroke="#444" stroke-width="0.6"/>
<line x1="282.25" y1="572.86" x2="284.05" y2="572.86" stroke="#444" stroke-width="0.6"/>
<path d="M283.15,568.86 L283.15,567.31 M283.15,568.86 L281.68,568.38 M283.15,568.86 L282.24,570.11 M283.15,568.86 L284.06,570.11 M283.15,568.86 L284.62,568.38 " stroke="#231f20" stroke-width="0.9" stroke-linecap="round" fill="none"/>
<rect x="289" y="594.75" width="4.1" height="36.75" fill="#ecfdfd" stroke="#3fa8bc" stroke-width="1.2"/>
<line x1="291.05" y1="594.15" x2="291.05" y2="590.41" stroke="#444" stroke-width="0.6"/>
<line x1="290.15" y1="590.41" x2="291.95" y2="590.41" stroke="#444" stroke-width="0.6"/>
<path d="M291.05,586.41 L291.05,584.87 M291.05,586.41 L289.58,585.94 M291.05,586.41 L290.14,587.67 M291.05,586.41 L291.96,587.67 M291.05,586.41 L292.52,585.94 " stroke="#231f20" stroke-width="0.9" stroke-linecap="round" fill="none"/>
<rect x="294.7" y="593.5" width="3.9" height="38" fill="#fff0f0" stroke="#c2474c" stroke-width="1.2"/>
<line x1="296.65" y1="592.9" x2="296.65" y2="589.17" stroke="#444" stroke-width="0.6"/>
<line x1="295.75" y1="589.17" x2="297.55" y2="589.17" stroke="#444" stroke-width="0.6"/>
<path d="M296.65,585.17 L296.65,583.62 M296.65,585.17 L295.18,584.69 M296.65,585.17 L295.74,586.42 M296.65,585.17 L297.56,586.42 M296.65,585.17 L298.12,584.69 " stroke="#231f20" stroke-width="0.9" stroke-linecap="round" fill="none"/>
<rect x="302.5" y="611.56" width="4.1" height="19.94" fill="#ecfdfd" stroke="#3fa8bc" stroke-width="1.2"/>
<line x1="304.55" y1="610.96" x2="304.55" y2="606.6" stroke="#444" stroke-width="0.6"/>
<line x1="303.65" y1="606.6" x2="305.45" y2="606.6" stroke="#444" stroke-width="0.6"/>
<rect x="308.2" y="610.44" width="3.9" height="21.06" fill="#fff0f0" stroke="#c2474c" stroke-width="1.2"/>
<line x1="310.15" y1="609.84" x2="310.15" y2="602.99" stroke="#444" stroke-width="0.6"/>
<line x1="309.25" y1="602.99" x2="311.05" y2="602.99" stroke="#444" stroke-width="0.6"/>
<rect x="316" y="621.64" width="4.1" height="9.86" fill="#ecfdfd" stroke="#3fa8bc" stroke-width="1.2"/>
<line x1="318.05" y1="621.04" x2="318.05" y2="619.8" stroke="#444" stroke-width="0.6"/>
<line x1="317.15" y1="619.8" x2="318.95" y2="619.8" stroke="#444" stroke-width="0.6"/>
<rect x="321.7" y="622.51" width="3.9" height="8.99" fill="#fff0f0" stroke="#c2474c" stroke-width="1.2"/>
<line x1="323.65" y1="621.91" x2="323.65" y2="621.17" stroke="#444" stroke-width="0.6"/>
<line x1="322.75" y1="621.17" x2="324.55" y2="621.17" stroke="#444" stroke-width="0.6"/>
<path d="M323.65,617.17 L323.65,615.62 M323.65,617.17 L322.18,616.69 M323.65,617.17 L322.74,618.42 M323.65,617.17 L324.56,618.42 M323.65,617.17 L325.12,616.69 " stroke="#231f20" stroke-width="0.9" stroke-linecap="round" fill="none"/>
<rect x="329.5" y="617.53" width="4.1" height="13.97" fill="#ecfdfd" stroke="#3fa8bc" stroke-width="1.2"/>
<line x1="331.55" y1="616.93" x2="331.55" y2="615.69" stroke="#444" stroke-width="0.6"/>
<line x1="330.65" y1="615.69" x2="332.45" y2="615.69" stroke="#444" stroke-width="0.6"/>
<rect x="335.2" y="623.14" width="3.9" height="8.36" fill="#fff0f0" stroke="#c2474c" stroke-width="1.2"/>
<line x1="337.15" y1="622.54" x2="337.15" y2="621.29" stroke="#444" stroke-width="0.6"/>
<line x1="336.25" y1="621.29" x2="338.05" y2="621.29" stroke="#444" stroke-width="0.6"/>
<path d="M337.15,617.29 L337.15,615.74 M337.15,617.29 L335.68,616.81 M337.15,617.29 L336.24,618.54 M337.15,617.29 L338.06,618.54 M337.15,617.29 L338.62,616.81 " stroke="#231f20" stroke-width="0.9" stroke-linecap="round" fill="none"/>
<path d="M332.7,607.79 L332.7,606.19 L338.2,606.19 L338.2,607.79" fill="none" stroke="#444" stroke-width="0.6"/>
<path d="M335.45,602.39 L335.45,600.84 M335.45,602.39 L333.98,601.91 M335.45,602.39 L334.54,603.64 M335.45,602.39 L336.36,603.64 M335.45,602.39 L336.92,601.91 " stroke="#231f20" stroke-width="0.9" stroke-linecap="round" fill="none"/>
<rect x="343" y="572.96" width="4.1" height="58.54" fill="#ecfdfd" stroke="#3fa8bc" stroke-width="1.2"/>
<line x1="345.05" y1="572.36" x2="345.05" y2="566.76" stroke="#444" stroke-width="0.6"/>
<line x1="344.15" y1="566.76" x2="345.95" y2="566.76" stroke="#444" stroke-width="0.6"/>
<path d="M345.05,562.76 L345.05,561.21 M345.05,562.76 L343.58,562.28 M345.05,562.76 L344.14,564.01 M345.05,562.76 L345.96,564.01 M345.05,562.76 L346.52,562.28 " stroke="#231f20" stroke-width="0.9" stroke-linecap="round" fill="none"/>
<rect x="348.7" y="608.57" width="3.9" height="22.93" fill="#fff0f0" stroke="#c2474c" stroke-width="1.2"/>
<line x1="350.65" y1="607.97" x2="350.65" y2="604.23" stroke="#444" stroke-width="0.6"/>
<line x1="349.75" y1="604.23" x2="351.55" y2="604.23" stroke="#444" stroke-width="0.6"/>
<path d="M350.65,600.23 L350.65,598.68 M350.65,600.23 L349.18,599.76 M350.65,600.23 L349.74,601.49 M350.65,600.23 L351.56,601.49 M350.65,600.23 L352.12,599.76 " stroke="#231f20" stroke-width="0.9" stroke-linecap="round" fill="none"/>
<path d="M346.2,558.86 L346.2,557.26 L351.7,557.26 L351.7,558.86" fill="none" stroke="#444" stroke-width="0.6"/>
<path d="M348.95,553.46 L348.95,551.91 M348.95,553.46 L347.48,552.98 M348.95,553.46 L348.04,554.71 M348.95,553.46 L349.86,554.71 M348.95,553.46 L350.42,552.98 " stroke="#231f20" stroke-width="0.9" stroke-linecap="round" fill="none"/>
<rect x="356.5" y="564.87" width="4.1" height="66.63" fill="#ecfdfd" stroke="#3fa8bc" stroke-width="1.2"/>
<line x1="358.55" y1="564.27" x2="358.55" y2="555.55" stroke="#444" stroke-width="0.6"/>
<line x1="357.65" y1="555.55" x2="359.45" y2="555.55" stroke="#444" stroke-width="0.6"/>
<path d="M358.55,551.55 L358.55,550 M358.55,551.55 L357.08,551.08 M358.55,551.55 L357.64,552.81 M358.55,551.55 L359.46,552.81 M358.55,551.55 L360.02,551.08 " stroke="#231f20" stroke-width="0.9" stroke-linecap="round" fill="none"/>
<rect x="362.2" y="599.73" width="3.9" height="31.77" fill="#fff0f0" stroke="#c2474c" stroke-width="1.2"/>
<line x1="364.15" y1="599.13" x2="364.15" y2="595.39" stroke="#444" stroke-width="0.6"/>
<line x1="363.25" y1="595.39" x2="365.05" y2="595.39" stroke="#444" stroke-width="0.6"/>
<path d="M364.15,591.39 L364.15,589.85 M364.15,591.39 L362.68,590.92 M364.15,591.39 L363.24,592.65 M364.15,591.39 L365.06,592.65 M364.15,591.39 L365.62,590.92 " stroke="#231f20" stroke-width="0.9" stroke-linecap="round" fill="none"/>
<path d="M359.7,547.65 L359.7,546.05 L365.2,546.05 L365.2,547.65" fill="none" stroke="#444" stroke-width="0.6"/>
<path d="M362.45,542.25 L362.45,540.71 M362.45,542.25 L360.98,541.78 M362.45,542.25 L361.54,543.51 M362.45,542.25 L363.36,543.51 M362.45,542.25 L363.92,541.78 " stroke="#231f20" stroke-width="0.9" stroke-linecap="round" fill="none"/>
<rect x="370" y="594.13" width="4.1" height="37.37" fill="#ecfdfd" stroke="#3fa8bc" stroke-width="1.2"/>
<line x1="372.05" y1="593.53" x2="372.05" y2="589.17" stroke="#444" stroke-width="0.6"/>
<line x1="371.15" y1="589.17" x2="372.95" y2="589.17" stroke="#444" stroke-width="0.6"/>
<path d="M372.05,585.17 L372.05,583.62 M372.05,585.17 L370.58,584.69 M372.05,585.17 L371.14,586.42 M372.05,585.17 L372.96,586.42 M372.05,585.17 L373.52,584.69 " stroke="#231f20" stroke-width="0.9" stroke-linecap="round" fill="none"/>
<rect x="375.7" y="613.67" width="3.9" height="17.83" fill="#fff0f0" stroke="#c2474c" stroke-width="1.2"/>
<line x1="377.65" y1="613.07" x2="377.65" y2="610.58" stroke="#444" stroke-width="0.6"/>
<line x1="376.75" y1="610.58" x2="378.55" y2="610.58" stroke="#444" stroke-width="0.6"/>
<path d="M377.65,606.58 L377.65,605.03 M377.65,606.58 L376.18,606.11 M377.65,606.58 L376.74,607.84 M377.65,606.58 L378.56,607.84 M377.65,606.58 L379.12,606.11 " stroke="#231f20" stroke-width="0.9" stroke-linecap="round" fill="none"/>
<path d="M373.2,581.27 L373.2,579.67 L378.7,579.67 L378.7,581.27" fill="none" stroke="#444" stroke-width="0.6"/>
<path d="M375.95,575.87 L375.95,574.32 M375.95,575.87 L374.48,575.39 M375.95,575.87 L375.04,577.12 M375.95,575.87 L376.86,577.12 M375.95,575.87 L377.42,575.39 " stroke="#231f20" stroke-width="0.9" stroke-linecap="round" fill="none"/>
<rect x="383.5" y="590.14" width="4.1" height="41.36" fill="#ecfdfd" stroke="#3fa8bc" stroke-width="1.2"/>
<line x1="385.55" y1="589.54" x2="385.55" y2="583.94" stroke="#444" stroke-width="0.6"/>
<line x1="384.65" y1="583.94" x2="386.45" y2="583.94" stroke="#444" stroke-width="0.6"/>
<path d="M385.55,579.94 L385.55,578.39 M385.55,579.94 L384.08,579.46 M385.55,579.94 L384.64,581.19 M385.55,579.94 L386.46,581.19 M385.55,579.94 L387.02,579.46 " stroke="#231f20" stroke-width="0.9" stroke-linecap="round" fill="none"/>
<rect x="389.2" y="608.07" width="3.9" height="23.43" fill="#fff0f0" stroke="#c2474c" stroke-width="1.2"/>
<line x1="391.15" y1="607.47" x2="391.15" y2="603.11" stroke="#444" stroke-width="0.6"/>
<line x1="390.25" y1="603.11" x2="392.05" y2="603.11" stroke="#444" stroke-width="0.6"/>
<path d="M391.15,599.11 L391.15,597.56 M391.15,599.11 L389.68,598.64 M391.15,599.11 L390.24,600.37 M391.15,599.11 L392.06,600.37 M391.15,599.11 L392.62,598.64 " stroke="#231f20" stroke-width="0.9" stroke-linecap="round" fill="none"/>
<path d="M386.7,576.04 L386.7,574.44 L392.2,574.44 L392.2,576.04" fill="none" stroke="#444" stroke-width="0.6"/>
<path d="M389.45,570.64 L389.45,569.09 M389.45,570.64 L387.98,570.16 M389.45,570.64 L388.54,571.89 M389.45,570.64 L390.36,571.89 M389.45,570.64 L390.92,570.16 " stroke="#231f20" stroke-width="0.9" stroke-linecap="round" fill="none"/>
<rect x="397" y="566.99" width="4.1" height="64.51" fill="#ecfdfd" stroke="#3fa8bc" stroke-width="1.2"/>
<line x1="399.05" y1="566.39" x2="399.05" y2="557.67" stroke="#444" stroke-width="0.6"/>
<line x1="398.15" y1="557.67" x2="399.95" y2="557.67" stroke="#444" stroke-width="0.6"/>
<path d="M399.05,553.67 L399.05,552.12 M399.05,553.67 L397.58,553.19 M399.05,553.67 L398.14,554.93 M399.05,553.67 L399.96,554.93 M399.05,553.67 L400.52,553.19 " stroke="#231f20" stroke-width="0.9" stroke-linecap="round" fill="none"/>
<rect x="402.7" y="598.86" width="3.9" height="32.64" fill="#fff0f0" stroke="#c2474c" stroke-width="1.2"/>
<line x1="404.65" y1="598.26" x2="404.65" y2="594.52" stroke="#444" stroke-width="0.6"/>
<line x1="403.75" y1="594.52" x2="405.55" y2="594.52" stroke="#444" stroke-width="0.6"/>
<path d="M404.65,590.52 L404.65,588.97 M404.65,590.52 L403.18,590.04 M404.65,590.52 L403.74,591.78 M404.65,590.52 L405.56,591.78 M404.65,590.52 L406.12,590.04 " stroke="#231f20" stroke-width="0.9" stroke-linecap="round" fill="none"/>
<path d="M400.2,549.77 L400.2,548.17 L405.7,548.17 L405.7,549.77" fill="none" stroke="#444" stroke-width="0.6"/>
<path d="M402.95,544.37 L402.95,542.82 M402.95,544.37 L401.48,543.89 M402.95,544.37 L402.04,545.63 M402.95,544.37 L403.86,545.63 M402.95,544.37 L404.42,543.89 " stroke="#231f20" stroke-width="0.9" stroke-linecap="round" fill="none"/>
<rect x="410.5" y="608.45" width="4.1" height="23.05" fill="#ecfdfd" stroke="#3fa8bc" stroke-width="1.2"/>
<line x1="412.55" y1="607.85" x2="412.55" y2="604.11" stroke="#444" stroke-width="0.6"/>
<line x1="411.65" y1="604.11" x2="413.45" y2="604.11" stroke="#444" stroke-width="0.6"/>
<path d="M412.55,600.11 L412.55,598.56 M412.55,600.11 L411.08,599.63 M412.55,600.11 L411.64,601.36 M412.55,600.11 L413.46,601.36 M412.55,600.11 L414.02,599.63 " stroke="#231f20" stroke-width="0.9" stroke-linecap="round" fill="none"/>
<rect x="416.2" y="620.27" width="3.9" height="11.23" fill="#fff0f0" stroke="#c2474c" stroke-width="1.2"/>
<line x1="418.15" y1="619.67" x2="418.15" y2="619.05" stroke="#444" stroke-width="0.6"/>
<line x1="417.25" y1="619.05" x2="419.05" y2="619.05" stroke="#444" stroke-width="0.6"/>
<path d="M413.7,596.21 L413.7,594.61 L419.2,594.61 L419.2,596.21" fill="none" stroke="#444" stroke-width="0.6"/>
<path d="M416.45,590.81 L416.45,589.26 M416.45,590.81 L414.98,590.33 M416.45,590.81 L415.54,592.06 M416.45,590.81 L417.36,592.06 M416.45,590.81 L417.92,590.33 " stroke="#231f20" stroke-width="0.9" stroke-linecap="round" fill="none"/>
<rect x="424" y="600.98" width="4.1" height="30.52" fill="#ecfdfd" stroke="#3fa8bc" stroke-width="1.2"/>
<line x1="426.05" y1="600.38" x2="426.05" y2="597.88" stroke="#444" stroke-width="0.6"/>
<line x1="425.15" y1="597.88" x2="426.95" y2="597.88" stroke="#444" stroke-width="0.6"/>
<path d="M426.05,593.88 L426.05,592.34 M426.05,593.88 L424.58,593.41 M426.05,593.88 L425.14,595.14 M426.05,593.88 L426.96,595.14 M426.05,593.88 L427.52,593.41 " stroke="#231f20" stroke-width="0.9" stroke-linecap="round" fill="none"/>
<rect x="429.7" y="610.94" width="3.9" height="20.56" fill="#fff0f0" stroke="#c2474c" stroke-width="1.2"/>
<line x1="431.65" y1="610.34" x2="431.65" y2="607.85" stroke="#444" stroke-width="0.6"/>
<line x1="430.75" y1="607.85" x2="432.55" y2="607.85" stroke="#444" stroke-width="0.6"/>
<path d="M431.65,603.85 L431.65,602.3 M431.65,603.85 L430.18,603.37 M431.65,603.85 L430.74,605.1 M431.65,603.85 L432.56,605.1 M431.65,603.85 L433.12,603.37 " stroke="#231f20" stroke-width="0.9" stroke-linecap="round" fill="none"/>
<path d="M427.2,589.99 L427.2,588.38 L432.7,588.38 L432.7,589.99" fill="none" stroke="#444" stroke-width="0.6"/>
<path d="M429.95,584.59 L429.95,583.04 M429.95,584.59 L428.48,584.11 M429.95,584.59 L429.04,585.84 M429.95,584.59 L430.86,585.84 M429.95,584.59 L431.42,584.11 " stroke="#231f20" stroke-width="0.9" stroke-linecap="round" fill="none"/>
<rect x="437.5" y="605.21" width="4.1" height="26.29" fill="#ecfdfd" stroke="#3fa8bc" stroke-width="1.2"/>
<line x1="439.55" y1="604.61" x2="439.55" y2="602.12" stroke="#444" stroke-width="0.6"/>
<line x1="438.65" y1="602.12" x2="440.45" y2="602.12" stroke="#444" stroke-width="0.6"/>
<path d="M439.55,598.12 L439.55,596.57 M439.55,598.12 L438.08,597.64 M439.55,598.12 L438.64,599.37 M439.55,598.12 L440.46,599.37 M439.55,598.12 L441.02,597.64 " stroke="#231f20" stroke-width="0.9" stroke-linecap="round" fill="none"/>
<rect x="443.2" y="613.43" width="3.9" height="18.07" fill="#fff0f0" stroke="#c2474c" stroke-width="1.2"/>
<line x1="445.15" y1="612.83" x2="445.15" y2="610.34" stroke="#444" stroke-width="0.6"/>
<line x1="444.25" y1="610.34" x2="446.05" y2="610.34" stroke="#444" stroke-width="0.6"/>
<path d="M445.15,606.34 L445.15,604.79 M445.15,606.34 L443.68,605.86 M445.15,606.34 L444.24,607.59 M445.15,606.34 L446.06,607.59 M445.15,606.34 L446.62,605.86 " stroke="#231f20" stroke-width="0.9" stroke-linecap="round" fill="none"/>
<path d="M440.7,594.22 L440.7,592.62 L446.2,592.62 L446.2,594.22" fill="none" stroke="#444" stroke-width="0.6"/>
<path d="M443.45,588.82 L443.45,587.27 M443.45,588.82 L441.98,588.34 M443.45,588.82 L442.54,590.07 M443.45,588.82 L444.36,590.07 M443.45,588.82 L444.92,588.34 " stroke="#231f20" stroke-width="0.9" stroke-linecap="round" fill="none"/>
<rect x="451" y="622.26" width="4.1" height="9.24" fill="#ecfdfd" stroke="#3fa8bc" stroke-width="1.2"/>
<line x1="453.05" y1="621.66" x2="453.05" y2="620.42" stroke="#444" stroke-width="0.6"/>
<line x1="452.15" y1="620.42" x2="453.95" y2="620.42" stroke="#444" stroke-width="0.6"/>
<rect x="456.7" y="618.4" width="3.9" height="13.1" fill="#fff0f0" stroke="#c2474c" stroke-width="1.2"/>
<line x1="458.65" y1="617.8" x2="458.65" y2="615.94" stroke="#444" stroke-width="0.6"/>
<line x1="457.75" y1="615.94" x2="459.55" y2="615.94" stroke="#444" stroke-width="0.6"/>
<rect x="464.5" y="625.88" width="4.1" height="5.63" fill="#ecfdfd" stroke="#3fa8bc" stroke-width="1.2"/>
<line x1="466.55" y1="625.27" x2="466.55" y2="623.78" stroke="#444" stroke-width="0.6"/>
<line x1="465.65" y1="623.78" x2="467.45" y2="623.78" stroke="#444" stroke-width="0.6"/>
<path d="M466.55,619.78 L466.55,618.23 M466.55,619.78 L465.08,619.3 M466.55,619.78 L465.64,621.03 M466.55,619.78 L467.46,621.03 M466.55,619.78 L468.02,619.3 " stroke="#231f20" stroke-width="0.9" stroke-linecap="round" fill="none"/>
<rect x="470.2" y="614.05" width="3.9" height="17.45" fill="#fff0f0" stroke="#c2474c" stroke-width="1.2"/>
<line x1="472.15" y1="613.45" x2="472.15" y2="609.71" stroke="#444" stroke-width="0.6"/>
<line x1="471.25" y1="609.71" x2="473.05" y2="609.71" stroke="#444" stroke-width="0.6"/>
<path d="M467.7,601.81 L467.7,600.21 L473.2,600.21 L473.2,601.81" fill="none" stroke="#444" stroke-width="0.6"/>
<path d="M470.45,596.41 L470.45,594.86 M470.45,596.41 L468.98,595.93 M470.45,596.41 L469.54,597.67 M470.45,596.41 L471.36,597.67 M470.45,596.41 L471.92,595.93 " stroke="#231f20" stroke-width="0.9" stroke-linecap="round" fill="none"/>
<rect x="478" y="625.13" width="4.1" height="6.37" fill="#ecfdfd" stroke="#3fa8bc" stroke-width="1.2"/>
<line x1="480.05" y1="624.53" x2="480.05" y2="623.03" stroke="#444" stroke-width="0.6"/>
<line x1="479.15" y1="623.03" x2="480.95" y2="623.03" stroke="#444" stroke-width="0.6"/>
<path d="M480.05,619.03 L480.05,617.48 M480.05,619.03 L478.58,618.56 M480.05,619.03 L479.14,620.29 M480.05,619.03 L480.96,620.29 M480.05,619.03 L481.52,618.56 " stroke="#231f20" stroke-width="0.9" stroke-linecap="round" fill="none"/>
<rect x="483.7" y="616.79" width="3.9" height="14.71" fill="#fff0f0" stroke="#c2474c" stroke-width="1.2"/>
<line x1="485.65" y1="616.19" x2="485.65" y2="614.32" stroke="#444" stroke-width="0.6"/>
<line x1="484.75" y1="614.32" x2="486.55" y2="614.32" stroke="#444" stroke-width="0.6"/>
<path d="M481.2,606.42 L481.2,604.82 L486.7,604.82 L486.7,606.42" fill="none" stroke="#444" stroke-width="0.6"/>
<path d="M483.95,601.02 L483.95,599.47 M483.95,601.02 L482.48,600.54 M483.95,601.02 L483.04,602.27 M483.95,601.02 L484.86,602.27 M483.95,601.02 L485.42,600.54 " stroke="#231f20" stroke-width="0.9" stroke-linecap="round" fill="none"/>
<line x1="30.5" y1="619.05" x2="489" y2="619.05" stroke="#111" stroke-width="0.75" stroke-dasharray="1.6,1.1"/>
<line x1="30.5" y1="531.4" x2="30.5" y2="632" stroke="#231f20" stroke-width="1"/>
<line x1="30.5" y1="631.5" x2="491" y2="631.5" stroke="#231f20" stroke-width="1"/>
<line x1="28.1" y1="631.5" x2="30.5" y2="631.5" stroke="#231f20" stroke-width="0.8"/>
<text x="26.9" y="634.5" font-size="8.4" text-anchor="end" textLength="4.2" lengthAdjust="spacingAndGlyphs" fill="#231f20" stroke="#231f20" stroke-width="0.22">0</text>
<line x1="28.1" y1="619.05" x2="30.5" y2="619.05" stroke="#231f20" stroke-width="0.8"/>
<line x1="28.1" y1="606.6" x2="30.5" y2="606.6" stroke="#231f20" stroke-width="0.8"/>
<text x="26.9" y="609.6" font-size="8.4" text-anchor="end" textLength="4.2" lengthAdjust="spacingAndGlyphs" fill="#231f20" stroke="#231f20" stroke-width="0.22">2</text>
<line x1="28.1" y1="594.15" x2="30.5" y2="594.15" stroke="#231f20" stroke-width="0.8"/>
<line x1="28.1" y1="581.7" x2="30.5" y2="581.7" stroke="#231f20" stroke-width="0.8"/>
<text x="26.9" y="584.7" font-size="8.4" text-anchor="end" textLength="4.2" lengthAdjust="spacingAndGlyphs" fill="#231f20" stroke="#231f20" stroke-width="0.22">4</text>
<line x1="28.1" y1="569.25" x2="30.5" y2="569.25" stroke="#231f20" stroke-width="0.8"/>
<line x1="28.1" y1="556.8" x2="30.5" y2="556.8" stroke="#231f20" stroke-width="0.8"/>
<text x="26.9" y="559.8" font-size="8.4" text-anchor="end" textLength="4.2" lengthAdjust="spacingAndGlyphs" fill="#231f20" stroke="#231f20" stroke-width="0.22">6</text>
<line x1="28.1" y1="544.35" x2="30.5" y2="544.35" stroke="#231f20" stroke-width="0.8"/>
<line x1="28.1" y1="531.9" x2="30.5" y2="531.9" stroke="#231f20" stroke-width="0.8"/>
<text x="26.9" y="534.9" font-size="8.4" text-anchor="end" textLength="4.2" lengthAdjust="spacingAndGlyphs" fill="#231f20" stroke="#231f20" stroke-width="0.22">8</text>
<line x1="31.1" y1="631.5" x2="31.1" y2="633.3" stroke="#231f20" stroke-width="0.7"/>
<line x1="44.6" y1="631.5" x2="44.6" y2="633.3" stroke="#231f20" stroke-width="0.7"/>
<line x1="58.1" y1="631.5" x2="58.1" y2="633.3" stroke="#231f20" stroke-width="0.7"/>
<line x1="71.6" y1="631.5" x2="71.6" y2="633.3" stroke="#231f20" stroke-width="0.7"/>
<line x1="85.1" y1="631.5" x2="85.1" y2="633.3" stroke="#231f20" stroke-width="0.7"/>
<line x1="98.6" y1="631.5" x2="98.6" y2="633.3" stroke="#231f20" stroke-width="0.7"/>
<line x1="112.1" y1="631.5" x2="112.1" y2="633.3" stroke="#231f20" stroke-width="0.7"/>
<line x1="125.6" y1="631.5" x2="125.6" y2="633.3" stroke="#231f20" stroke-width="0.7"/>
<line x1="139.1" y1="631.5" x2="139.1" y2="633.3" stroke="#231f20" stroke-width="0.7"/>
<line x1="152.6" y1="631.5" x2="152.6" y2="633.3" stroke="#231f20" stroke-width="0.7"/>
<line x1="166.1" y1="631.5" x2="166.1" y2="633.3" stroke="#231f20" stroke-width="0.7"/>
<line x1="179.6" y1="631.5" x2="179.6" y2="633.3" stroke="#231f20" stroke-width="0.7"/>
<line x1="193.1" y1="631.5" x2="193.1" y2="633.3" stroke="#231f20" stroke-width="0.7"/>
<line x1="206.6" y1="631.5" x2="206.6" y2="633.3" stroke="#231f20" stroke-width="0.7"/>
<line x1="220.1" y1="631.5" x2="220.1" y2="633.3" stroke="#231f20" stroke-width="0.7"/>
<line x1="233.6" y1="631.5" x2="233.6" y2="633.3" stroke="#231f20" stroke-width="0.7"/>
<line x1="247.1" y1="631.5" x2="247.1" y2="633.3" stroke="#231f20" stroke-width="0.7"/>
<line x1="260.6" y1="631.5" x2="260.6" y2="633.3" stroke="#231f20" stroke-width="0.7"/>
<line x1="274.1" y1="631.5" x2="274.1" y2="633.3" stroke="#231f20" stroke-width="0.7"/>
<line x1="287.6" y1="631.5" x2="287.6" y2="633.3" stroke="#231f20" stroke-width="0.7"/>
<line x1="301.1" y1="631.5" x2="301.1" y2="633.3" stroke="#231f20" stroke-width="0.7"/>
<line x1="314.6" y1="631.5" x2="314.6" y2="633.3" stroke="#231f20" stroke-width="0.7"/>
<line x1="328.1" y1="631.5" x2="328.1" y2="633.3" stroke="#231f20" stroke-width="0.7"/>
<line x1="341.6" y1="631.5" x2="341.6" y2="633.3" stroke="#231f20" stroke-width="0.7"/>
<line x1="355.1" y1="631.5" x2="355.1" y2="633.3" stroke="#231f20" stroke-width="0.7"/>
<line x1="368.6" y1="631.5" x2="368.6" y2="633.3" stroke="#231f20" stroke-width="0.7"/>
<line x1="382.1" y1="631.5" x2="382.1" y2="633.3" stroke="#231f20" stroke-width="0.7"/>
<line x1="395.6" y1="631.5" x2="395.6" y2="633.3" stroke="#231f20" stroke-width="0.7"/>
<line x1="409.1" y1="631.5" x2="409.1" y2="633.3" stroke="#231f20" stroke-width="0.7"/>
<line x1="422.6" y1="631.5" x2="422.6" y2="633.3" stroke="#231f20" stroke-width="0.7"/>
<line x1="436.1" y1="631.5" x2="436.1" y2="633.3" stroke="#231f20" stroke-width="0.7"/>
<line x1="449.6" y1="631.5" x2="449.6" y2="633.3" stroke="#231f20" stroke-width="0.7"/>
<line x1="463.1" y1="631.5" x2="463.1" y2="633.3" stroke="#231f20" stroke-width="0.7"/>
<line x1="476.6" y1="631.5" x2="476.6" y2="633.3" stroke="#231f20" stroke-width="0.7"/>
<line x1="490.1" y1="631.5" x2="490.1" y2="633.3" stroke="#231f20" stroke-width="0.7"/>
<text x="42.25" y="640.7" font-size="9.4" text-anchor="end" textLength="14.68" lengthAdjust="spacingAndGlyphs" fill="#231f20" transform="rotate(-45 42.25 640.7)" stroke="#231f20" stroke-width="0.22">Au1</text>
<text x="55.75" y="640.7" font-size="9.4" text-anchor="end" textLength="12.84" lengthAdjust="spacingAndGlyphs" fill="#231f20" transform="rotate(-45 55.75 640.7)" stroke="#231f20" stroke-width="0.22">PrL</text>
<text x="69.25" y="640.7" font-size="9.4" text-anchor="end" textLength="6.88" lengthAdjust="spacingAndGlyphs" fill="#231f20" transform="rotate(-45 69.25 640.7)" stroke="#231f20" stroke-width="0.22">IL</text>
<text x="82.75" y="640.7" font-size="9.4" text-anchor="end" textLength="15.13" lengthAdjust="spacingAndGlyphs" fill="#231f20" transform="rotate(-45 82.75 640.7)" stroke="#231f20" stroke-width="0.22">Cg1</text>
<text x="96.25" y="640.7" font-size="9.4" text-anchor="end" textLength="15.13" lengthAdjust="spacingAndGlyphs" fill="#231f20" transform="rotate(-45 96.25 640.7)" stroke="#231f20" stroke-width="0.22">Cg2</text>
<text x="109.75" y="640.7" font-size="9.4" text-anchor="end" textLength="17.42" lengthAdjust="spacingAndGlyphs" fill="#231f20" transform="rotate(-45 109.75 640.7)" stroke="#231f20" stroke-width="0.22">RSD</text>
<text x="123.25" y="640.7" font-size="9.4" text-anchor="end" textLength="17.88" lengthAdjust="spacingAndGlyphs" fill="#231f20" transform="rotate(-45 123.25 640.7)" stroke="#231f20" stroke-width="0.22">RSG</text>
<text x="136.75" y="640.7" font-size="9.4" text-anchor="end" textLength="12.84" lengthAdjust="spacingAndGlyphs" fill="#231f20" transform="rotate(-45 136.75 640.7)" stroke="#231f20" stroke-width="0.22">Par</text>
<text x="150.25" y="640.7" font-size="9.4" text-anchor="end" textLength="29.35" lengthAdjust="spacingAndGlyphs" fill="#231f20" transform="rotate(-45 150.25 640.7)" stroke="#231f20" stroke-width="0.22">PostPar</text>
<text x="163.75" y="640.7" font-size="9.4" text-anchor="end" textLength="18.33" lengthAdjust="spacingAndGlyphs" fill="#231f20" transform="rotate(-45 163.75 640.7)" stroke="#231f20" stroke-width="0.22">MEC</text>
<text x="177.25" y="640.7" font-size="9.4" text-anchor="end" textLength="18.33" lengthAdjust="spacingAndGlyphs" fill="#231f20" transform="rotate(-45 177.25 640.7)" stroke="#231f20" stroke-width="0.22">DMS</text>
<text x="190.75" y="640.7" font-size="9.4" text-anchor="end" textLength="16.05" lengthAdjust="spacingAndGlyphs" fill="#231f20" transform="rotate(-45 190.75 640.7)" stroke="#231f20" stroke-width="0.22">DLS</text>
<text x="204.25" y="640.7" font-size="9.4" text-anchor="end" textLength="20.17" lengthAdjust="spacingAndGlyphs" fill="#231f20" transform="rotate(-45 204.25 640.7)" stroke="#231f20" stroke-width="0.22">AcbC</text>
<text x="217.75" y="640.7" font-size="9.4" text-anchor="end" textLength="19.72" lengthAdjust="spacingAndGlyphs" fill="#231f20" transform="rotate(-45 217.75 640.7)" stroke="#231f20" stroke-width="0.22">AcbS</text>
<text x="231.25" y="640.7" font-size="9.4" text-anchor="end" textLength="15.43" lengthAdjust="spacingAndGlyphs" fill="#231f20" transform="rotate(-45 231.25 640.7)" stroke="#231f20" stroke-width="0.22">VTA</text>
<text x="244.75" y="640.7" font-size="9.4" text-anchor="end" textLength="15.59" lengthAdjust="spacingAndGlyphs" fill="#231f20" transform="rotate(-45 244.75 640.7)" stroke="#231f20" stroke-width="0.22">SNc</text>
<text x="258.25" y="640.7" font-size="9.4" text-anchor="end" textLength="20.64" lengthAdjust="spacingAndGlyphs" fill="#231f20" transform="rotate(-45 258.25 640.7)" stroke="#231f20" stroke-width="0.22">dCA1</text>
<text x="271.75" y="640.7" font-size="9.4" text-anchor="end" textLength="20.64" lengthAdjust="spacingAndGlyphs" fill="#231f20" transform="rotate(-45 271.75 640.7)" stroke="#231f20" stroke-width="0.22">dCA3</text>
<text x="285.25" y="640.7" font-size="9.4" text-anchor="end" textLength="20.17" lengthAdjust="spacingAndGlyphs" fill="#231f20" transform="rotate(-45 285.25 640.7)" stroke="#231f20" stroke-width="0.22">vCA1</text>
<text x="298.75" y="640.7" font-size="9.4" text-anchor="end" textLength="20.17" lengthAdjust="spacingAndGlyphs" fill="#231f20" transform="rotate(-45 298.75 640.7)" stroke="#231f20" stroke-width="0.22">vCA3</text>
<text x="312.25" y="640.7" font-size="9.4" text-anchor="end" textLength="20.64" lengthAdjust="spacingAndGlyphs" fill="#231f20" transform="rotate(-45 312.25 640.7)" stroke="#231f20" stroke-width="0.22">dCA2</text>
<text x="325.75" y="640.7" font-size="9.4" text-anchor="end" textLength="16.96" lengthAdjust="spacingAndGlyphs" fill="#231f20" transform="rotate(-45 325.75 640.7)" stroke="#231f20" stroke-width="0.22">dDG</text>
<text x="339.25" y="640.7" font-size="9.4" text-anchor="end" textLength="16.5" lengthAdjust="spacingAndGlyphs" fill="#231f20" transform="rotate(-45 339.25 640.7)" stroke="#231f20" stroke-width="0.22">vDG</text>
<text x="352.75" y="640.7" font-size="9.4" text-anchor="end" textLength="31.65" lengthAdjust="spacingAndGlyphs" fill="#231f20" transform="rotate(-45 352.75 640.7)" stroke="#231f20" stroke-width="0.22">Lob IV/V</text>
<text x="366.25" y="640.7" font-size="9.4" text-anchor="end" textLength="23.85" lengthAdjust="spacingAndGlyphs" fill="#231f20" transform="rotate(-45 366.25 640.7)" stroke="#231f20" stroke-width="0.22">Lob VI</text>
<text x="379.75" y="640.7" font-size="9.4" text-anchor="end" textLength="29.34" lengthAdjust="spacingAndGlyphs" fill="#231f20" transform="rotate(-45 379.75 640.7)" stroke="#231f20" stroke-width="0.22">Simplex</text>
<text x="393.25" y="640.7" font-size="9.4" text-anchor="end" textLength="22" lengthAdjust="spacingAndGlyphs" fill="#231f20" transform="rotate(-45 393.25 640.7)" stroke="#231f20" stroke-width="0.22">Crus I</text>
<text x="406.75" y="640.7" font-size="9.4" text-anchor="end" textLength="26.14" lengthAdjust="spacingAndGlyphs" fill="#231f20" transform="rotate(-45 406.75 640.7)" stroke="#231f20" stroke-width="0.22">Lob VII</text>
<text x="420.25" y="640.7" font-size="9.4" text-anchor="end" textLength="24.29" lengthAdjust="spacingAndGlyphs" fill="#231f20" transform="rotate(-45 420.25 640.7)" stroke="#231f20" stroke-width="0.22">Crus II</text>
<text x="433.75" y="640.7" font-size="9.4" text-anchor="end" textLength="23.85" lengthAdjust="spacingAndGlyphs" fill="#231f20" transform="rotate(-45 433.75 640.7)" stroke="#231f20" stroke-width="0.22">Lob IX</text>
<text x="447.25" y="640.7" font-size="9.4" text-anchor="end" textLength="21.56" lengthAdjust="spacingAndGlyphs" fill="#231f20" transform="rotate(-45 447.25 640.7)" stroke="#231f20" stroke-width="0.22">Lob X</text>
<text x="460.75" y="640.7" font-size="9.4" text-anchor="end" textLength="25.68" lengthAdjust="spacingAndGlyphs" fill="#231f20" transform="rotate(-45 460.75 640.7)" stroke="#231f20" stroke-width="0.22">Dent N</text>
<text x="474.25" y="640.7" font-size="9.4" text-anchor="end" textLength="24.29" lengthAdjust="spacingAndGlyphs" fill="#231f20" transform="rotate(-45 474.25 640.7)" stroke="#231f20" stroke-width="0.22">Fast N</text>
<text x="487.75" y="640.7" font-size="9.4" text-anchor="end" textLength="22.78" lengthAdjust="spacingAndGlyphs" fill="#231f20" transform="rotate(-45 487.75 640.7)" stroke="#231f20" stroke-width="0.22">IntP N</text>
<text x="7.2" y="581.2" font-size="9.15" text-anchor="middle" fill="#231f20" transform="rotate(-90 7.2 581.2)" stroke="#231f20" stroke-width="0.22">c-Fos density normalized</text>
<text x="17.9" y="581.2" font-size="9.1" text-anchor="middle" fill="#231f20" transform="rotate(-90 17.9 581.2)" stroke="#231f20" stroke-width="0.22">to cage controls</text>
<rect x="134" y="667.2" width="223.5" height="17.1" fill="#fff" stroke="#8a8a8a" stroke-width="0.7"/>
<rect x="139.8" y="673" width="5" height="5" fill="#33afc6"/>
<text x="147.9" y="679" font-size="8.4" textLength="91.8" lengthAdjust="spacingAndGlyphs" fill="#231f20" stroke="#231f20" stroke-width="0.22">Exploration mice (n = 15)</text>
<rect x="256.3" y="673" width="4.9" height="4.9" fill="#e2353b"/>
<text x="265.2" y="679" font-size="8.4" textLength="88.3" lengthAdjust="spacingAndGlyphs" fill="#231f20" stroke="#231f20" stroke-width="0.22">Exploitation mice (n=15)</text>
</svg>
</body></html>
